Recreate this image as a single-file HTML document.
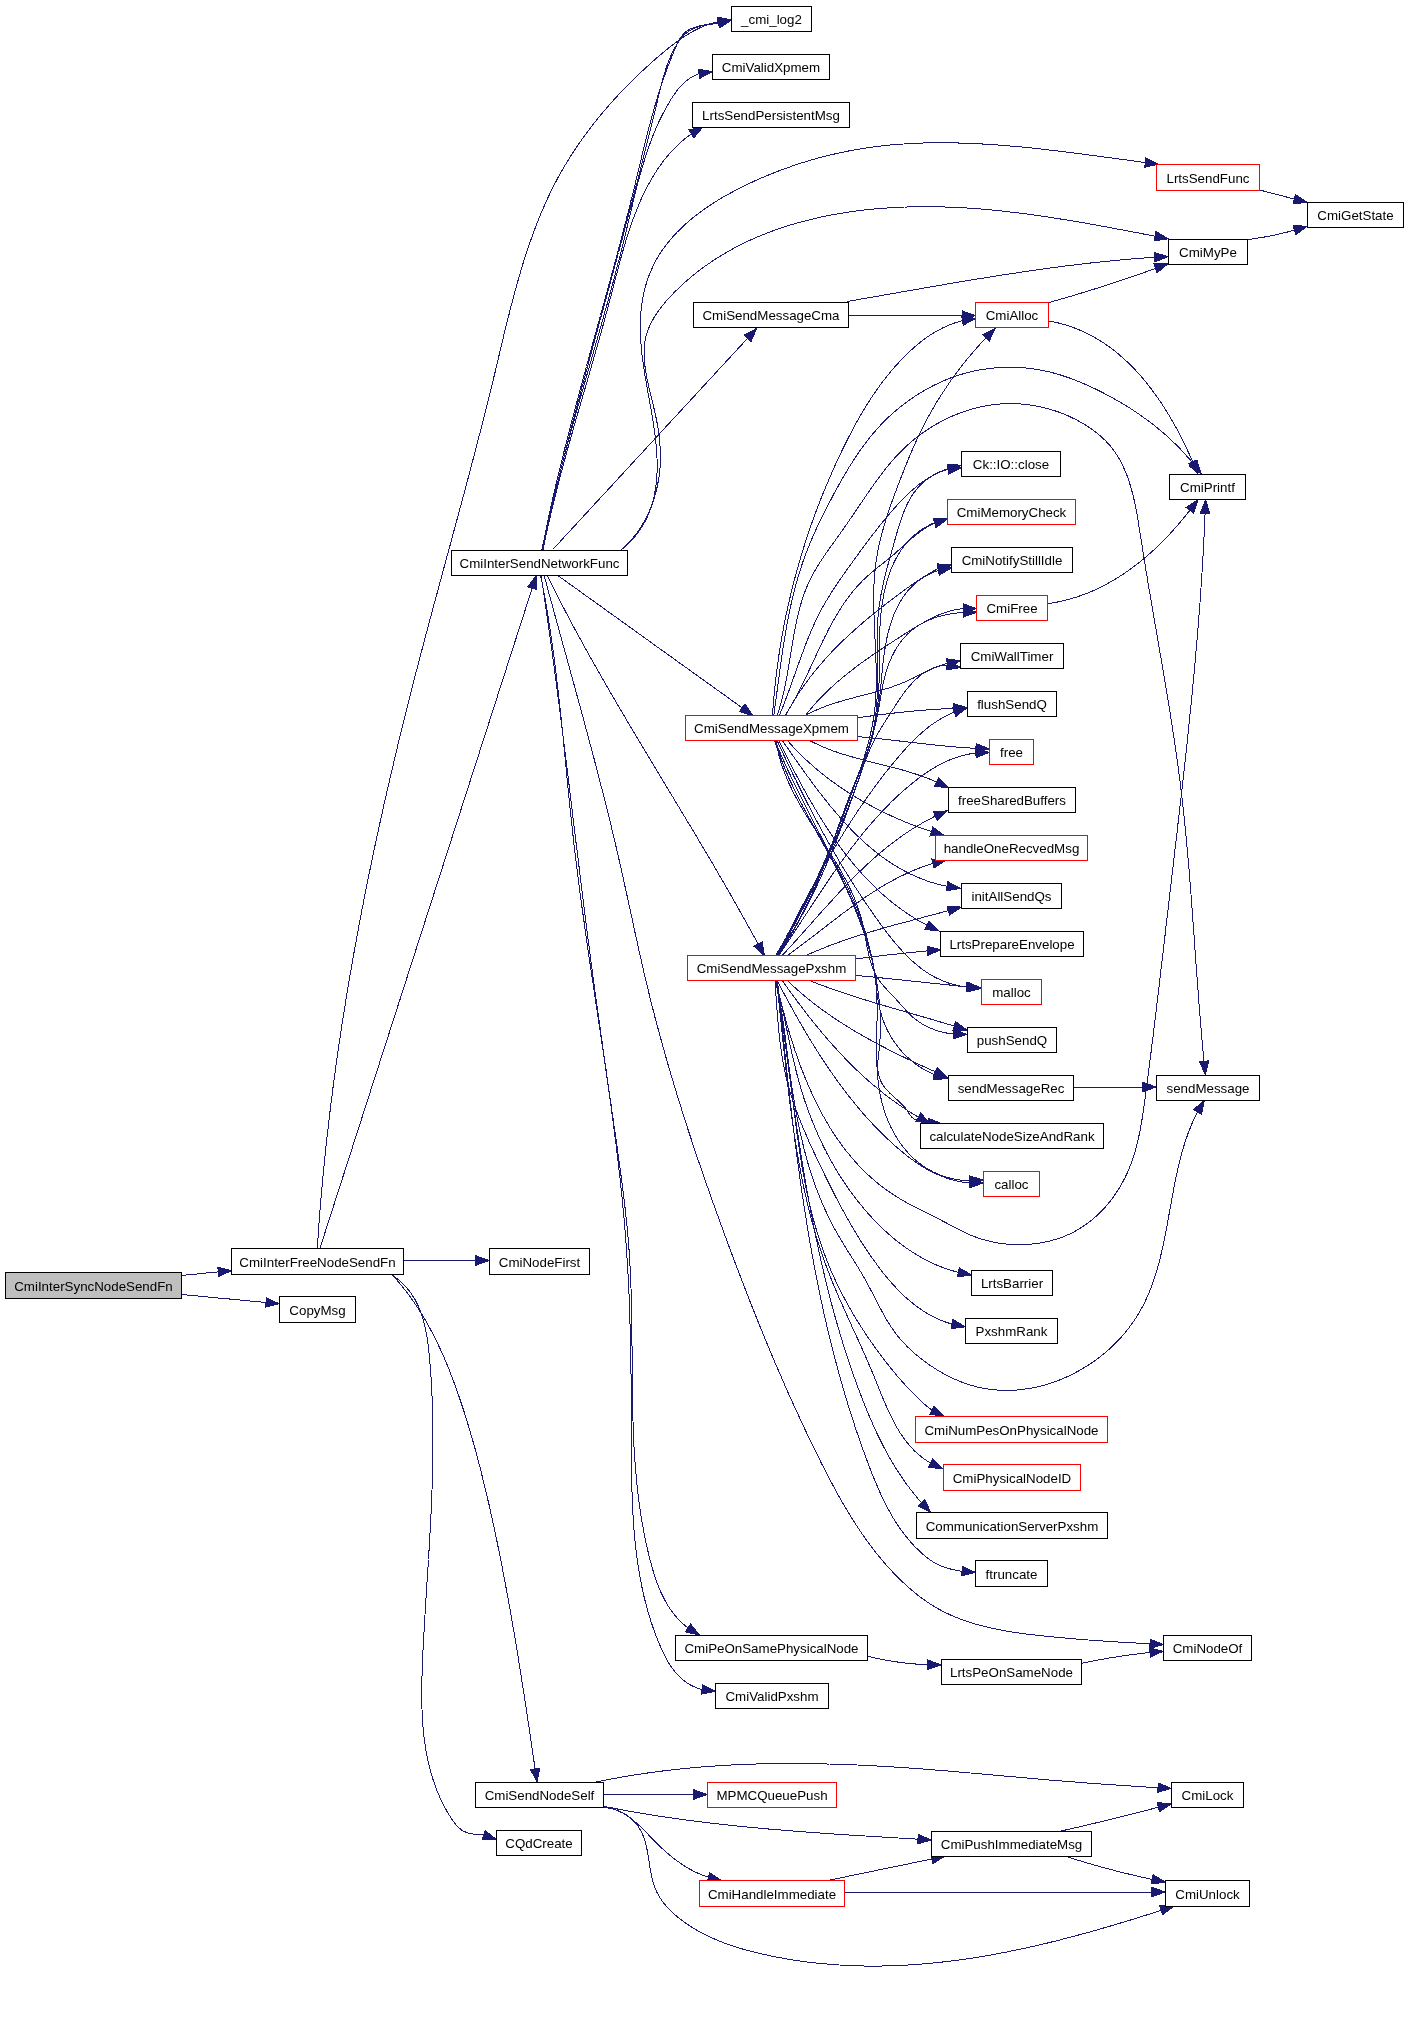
<!DOCTYPE html><html><head><meta charset="utf-8"><style>html,body{margin:0;padding:0;background:#fff;}svg{display:block;}</style></head><body>
<svg width="1408" height="2019" viewBox="0 0 1408 2019">
<rect x="0" y="0" width="1408" height="2019" fill="#fff"/>
<g fill="none" stroke="#191970" stroke-width="1" shape-rendering="crispEdges">
<path d="M181.0,1275.5L184.2,1275.2L187.3,1274.9L190.5,1274.6L193.6,1274.3L196.8,1274.0L199.9,1273.7L203.1,1273.4L206.2,1273.0L209.4,1272.7L212.6,1272.4L215.7,1272.1L218.2,1271.9"/>
<path d="M181.8,1294.5L184.8,1294.8L187.8,1295.1L190.9,1295.4L193.9,1295.7L197.0,1295.9L200.0,1296.2L203.1,1296.5L206.1,1296.8L209.2,1297.1L212.2,1297.4L215.3,1297.7L218.3,1298.0L221.4,1298.3L224.4,1298.5L227.5,1298.8L230.5,1299.1L233.5,1299.4L236.6,1299.7L239.6,1300.0L242.7,1300.3L245.7,1300.6L248.8,1300.9L251.8,1301.1L254.9,1301.4L257.9,1301.7L261.0,1302.0L264.0,1302.3L266.0,1302.5"/>
<path d="M403.5,1260.5L406.6,1260.5L409.6,1260.5L412.7,1260.5L415.8,1260.5L418.8,1260.5L421.9,1260.5L424.9,1260.5L428.0,1260.5L431.1,1260.5L434.1,1260.5L437.2,1260.5L440.2,1260.5L443.3,1260.5L446.4,1260.5L449.4,1260.5L452.5,1260.5L455.6,1260.5L458.6,1260.5L461.7,1260.5L464.8,1260.5L467.8,1260.5L470.9,1260.5L473.9,1260.5L475.9,1260.5"/>
<path d="M320.0,1248.2L320.9,1245.3L321.8,1242.5L322.8,1239.6L323.7,1236.7L324.6,1233.9L325.5,1231.0L326.4,1228.2L327.4,1225.3L328.3,1222.4L329.2,1219.6L330.1,1216.7L331.0,1213.8L332.0,1211.0L332.9,1208.1L333.8,1205.3L334.7,1202.4L335.6,1199.5L336.6,1196.7L337.5,1193.8L338.4,1190.9L339.3,1188.1L340.2,1185.2L341.2,1182.4L342.1,1179.5L343.0,1176.6L343.9,1173.8L344.8,1170.9L345.8,1168.0L346.7,1165.2L347.6,1162.3L348.5,1159.5L349.4,1156.6L350.4,1153.7L351.3,1150.9L352.2,1148.0L353.1,1145.1L354.0,1142.3L355.0,1139.4L355.9,1136.6L356.8,1133.7L357.7,1130.8L358.6,1128.0L359.6,1125.1L360.5,1122.2L361.4,1119.4L362.3,1116.5L363.2,1113.7L364.2,1110.8L365.1,1107.9L366.0,1105.1L366.9,1102.2L367.9,1099.3L368.8,1096.5L369.7,1093.6L370.6,1090.8L371.5,1087.9L372.5,1085.0L373.4,1082.2L374.3,1079.3L375.2,1076.4L376.1,1073.6L377.1,1070.7L378.0,1067.9L378.9,1065.0L379.8,1062.1L380.7,1059.3L381.7,1056.4L382.6,1053.5L383.5,1050.7L384.4,1047.8L385.3,1045.0L386.3,1042.1L387.2,1039.2L388.1,1036.4L389.0,1033.5L389.9,1030.6L390.9,1027.8L391.8,1024.9L392.7,1022.1L393.6,1019.2L394.5,1016.3L395.5,1013.5L396.4,1010.6L397.3,1007.7L398.2,1004.9L399.1,1002.0L400.1,999.2L401.0,996.3L401.9,993.4L402.8,990.6L403.7,987.7L404.7,984.8L405.6,982.0L406.5,979.1L407.4,976.3L408.3,973.4L409.3,970.5L410.2,967.7L411.1,964.8L412.0,961.9L412.9,959.1L413.9,956.2L414.8,953.4L415.7,950.5L416.6,947.6L417.5,944.8L418.5,941.9L419.4,939.0L420.3,936.2L421.2,933.3L422.1,930.5L423.1,927.6L424.0,924.7L424.9,921.9L425.8,919.0L426.7,916.1L427.7,913.3L428.6,910.4L429.5,907.6L430.4,904.7L431.3,901.8L432.3,899.0L433.2,896.1L434.1,893.2L435.0,890.4L435.9,887.5L436.9,884.7L437.8,881.8L438.7,878.9L439.6,876.1L440.5,873.2L441.5,870.3L442.4,867.5L443.3,864.6L444.2,861.8L445.1,858.9L446.1,856.0L447.0,853.2L447.9,850.3L448.8,847.4L449.8,844.6L450.7,841.7L451.6,838.9L452.5,836.0L453.4,833.1L454.4,830.3L455.3,827.4L456.2,824.5L457.1,821.7L458.0,818.8L459.0,816.0L459.9,813.1L460.8,810.2L461.7,807.4L462.6,804.5L463.6,801.6L464.5,798.8L465.4,795.9L466.3,793.1L467.2,790.2L468.2,787.3L469.1,784.5L470.0,781.6L470.9,778.7L471.8,775.9L472.8,773.0L473.7,770.2L474.6,767.3L475.5,764.4L476.4,761.6L477.4,758.7L478.3,755.8L479.2,753.0L480.1,750.1L481.0,747.3L482.0,744.4L482.9,741.5L483.8,738.7L484.7,735.8L485.6,732.9L486.6,730.1L487.5,727.2L488.4,724.4L489.3,721.5L490.2,718.6L491.2,715.8L492.1,712.9L493.0,710.0L493.9,707.2L494.8,704.3L495.8,701.5L496.7,698.6L497.6,695.7L498.5,692.9L499.4,690.0L500.4,687.1L501.3,684.3L502.2,681.4L503.1,678.6L504.0,675.7L505.0,672.8L505.9,670.0L506.8,667.1L507.7,664.2L508.6,661.4L509.6,658.5L510.5,655.7L511.4,652.8L512.3,649.9L513.2,647.1L514.2,644.2L515.1,641.3L516.0,638.5L516.9,635.6L517.8,632.8L518.8,629.9L519.7,627.0L520.6,624.2L521.5,621.3L522.4,618.4L523.4,615.6L524.3,612.7L525.2,609.9L526.1,607.0L527.0,604.1L528.0,601.3L528.9,598.4L529.8,595.5L530.7,592.7L531.6,589.8L532.2,588.2"/>
<path d="M317.3,1248.2L317.5,1245.7L317.6,1243.2L317.8,1240.7L318.0,1238.2L318.1,1235.7L318.3,1233.2L318.5,1230.7L318.7,1228.2L318.9,1225.6L319.0,1223.1L319.2,1220.6L319.4,1218.1L319.6,1215.6L319.8,1213.1L320.0,1210.6L320.2,1208.1L320.4,1205.6L320.6,1203.1L320.8,1200.6L321.0,1198.1L321.3,1195.6L321.5,1193.1L321.7,1190.6L321.9,1188.1L322.2,1185.6L322.4,1183.1L322.6,1180.6L322.8,1178.1L323.1,1175.6L323.3,1173.1L323.6,1170.6L323.8,1168.1L324.1,1165.6L324.3,1163.1L324.6,1160.6L324.8,1158.1L325.1,1155.6L325.3,1153.1L325.6,1150.6L325.8,1148.1L326.1,1145.6L326.4,1143.1L326.7,1140.6L326.9,1138.2L327.2,1135.7L327.5,1133.2L327.8,1130.7L328.1,1128.2L328.3,1125.7L328.6,1123.2L328.9,1120.7L329.2,1118.2L329.5,1115.7L329.8,1113.2L330.1,1110.7L330.4,1108.2L330.7,1105.7L331.0,1103.3L331.3,1100.8L331.7,1098.3L332.0,1095.8L332.3,1093.3L332.6,1090.8L332.9,1088.3L333.3,1085.8L333.6,1083.3L333.9,1080.9L334.2,1078.4L334.6,1075.9L334.9,1073.4L335.3,1070.9L335.6,1068.4L335.9,1065.9L336.3,1063.5L336.6,1061.0L337.0,1058.5L337.3,1056.0L337.7,1053.5L338.0,1051.0L338.4,1048.5L338.8,1046.1L339.1,1043.6L339.5,1041.1L339.9,1038.6L340.2,1036.1L340.6,1033.7L341.0,1031.2L341.4,1028.7L341.7,1026.2L342.1,1023.7L342.5,1021.3L342.9,1018.8L343.3,1016.3L343.7,1013.8L344.1,1011.3L344.5,1008.9L344.9,1006.4L345.3,1003.9L345.7,1001.4L346.1,998.9L346.5,996.5L346.9,994.0L347.3,991.5L347.7,989.0L348.1,986.6L348.5,984.1L348.9,981.6L349.4,979.1L349.8,976.7L350.2,974.2L350.6,971.7L351.1,969.3L351.5,966.8L351.9,964.3L352.4,961.8L352.8,959.4L353.2,956.9L353.7,954.4L354.1,952.0L354.6,949.5L355.0,947.0L355.4,944.5L355.9,942.1L356.4,939.6L356.8,937.1L357.3,934.7L357.7,932.2L358.2,929.7L358.6,927.3L359.1,924.8L359.6,922.3L360.0,919.9L360.5,917.4L361.0,914.9L361.5,912.5L361.9,910.0L362.4,907.5L362.9,905.1L363.4,902.6L363.8,900.2L364.3,897.7L364.8,895.2L365.3,892.8L365.8,890.3L366.3,887.8L366.8,885.4L367.3,882.9L367.8,880.5L368.3,878.0L368.8,875.5L369.3,873.1L369.8,870.6L370.3,868.2L370.8,865.7L371.3,863.3L371.8,860.8L372.3,858.3L372.8,855.9L373.4,853.4L373.9,851.0L374.4,848.5L374.9,846.1L375.4,843.6L376.0,841.2L376.5,838.7L377.0,836.3L377.6,833.8L378.1,831.3L378.6,828.9L379.2,826.4L379.7,824.0L380.2,821.5L380.8,819.1L381.3,816.6L381.9,814.2L382.4,811.7L382.9,809.3L383.5,806.8L384.0,804.4L384.6,801.9L385.1,799.5L385.7,797.0L386.3,794.6L386.8,792.2L387.4,789.7L387.9,787.3L388.5,784.8L389.1,782.4L389.6,779.9L390.2,777.5L390.8,775.0L391.3,772.6L391.9,770.2L392.5,767.7L393.1,765.3L393.6,762.8L394.2,760.4L394.8,757.9L395.4,755.5L396.0,753.1L396.5,750.6L397.1,748.2L397.7,745.7L398.3,743.3L398.9,740.9L399.5,738.4L400.1,736.0L400.7,733.6L401.3,731.1L401.9,728.7L402.5,726.2L403.1,723.8L403.7,721.4L404.3,718.9L404.9,716.5L405.5,714.1L406.1,711.6L406.7,709.2L407.3,706.8L407.9,704.3L408.5,701.9L409.1,699.5L409.7,697.0L410.3,694.6L411.0,692.2L411.6,689.8L412.2,687.3L412.8,684.9L413.4,682.5L414.1,680.0L414.7,677.6L415.3,675.2L415.9,672.8L416.6,670.3L417.2,667.9L417.8,665.5L418.5,663.1L419.1,660.6L419.7,658.2L420.4,655.8L421.0,653.4L421.6,650.9L422.3,648.5L422.9,646.1L423.6,643.7L424.2,641.2L424.8,638.8L425.5,636.4L426.1,634.0L426.8,631.6L427.4,629.1L428.1,626.7L428.7,624.3L429.3,621.9L430.0,619.5L430.6,617.0L431.3,614.6L431.9,612.2L432.6,609.8L433.2,607.4L433.9,604.9L434.5,602.5L435.2,600.1L435.8,597.7L436.5,595.3L437.2,592.8L437.8,590.4L438.5,588.0L439.1,585.6L439.8,583.2L440.4,580.7L441.1,578.3L441.7,575.9L442.4,573.5L443.0,571.1L443.7,568.6L444.4,566.2L445.0,563.8L445.7,561.4L446.3,559.0L447.0,556.5L447.6,554.1L448.3,551.7L449.0,549.3L449.6,546.9L450.3,544.5L450.9,542.0L451.6,539.6L452.2,537.2L452.9,534.8L453.5,532.3L454.2,529.9L454.9,527.5L455.5,525.1L456.2,522.7L456.8,520.2L457.5,517.8L458.1,515.4L458.8,513.0L459.4,510.6L460.1,508.1L460.7,505.7L461.4,503.3L462.0,500.9L462.7,498.4L463.3,496.0L464.0,493.6L464.6,491.2L465.3,488.7L465.9,486.3L466.6,483.9L467.2,481.5L467.9,479.0L468.5,476.6L469.2,474.2L469.8,471.7L470.4,469.3L471.1,466.9L471.7,464.5L472.4,462.0L473.0,459.6L473.6,457.2L474.3,454.7L474.9,452.3L475.5,449.9L476.2,447.4L476.8,445.0L477.4,442.6L478.1,440.1L478.7,437.7L479.3,435.3L480.0,432.8L480.6,430.4L481.2,428.0L481.8,425.5L482.4,423.1L483.1,420.6L483.7,418.2L484.3,415.8L484.9,413.3L485.5,410.9L486.1,408.4L486.8,406.0L487.4,403.6L488.0,401.1L488.6,398.7L489.2,396.2L489.8,393.8L490.4,391.3L491.0,388.9L491.6,386.4L492.2,384.0L492.8,381.5L493.4,379.1L494.0,376.6L494.6,374.2L495.2,371.7L495.7,369.3L496.3,366.8L496.9,364.4L497.5,361.9L498.1,359.4L498.7,357.0L499.2,354.5L499.8,352.1L500.4,349.6L501.0,347.2L501.6,344.7L502.2,342.3L502.8,339.8L503.4,337.3L503.9,334.9L504.5,332.4L505.1,330.0L505.7,327.5L506.3,325.1L506.9,322.6L507.5,320.2L508.1,317.8L508.8,315.3L509.4,312.9L510.0,310.4L510.6,308.0L511.2,305.6L511.9,303.1L512.5,300.7L513.2,298.3L513.8,295.8L514.4,293.4L515.1,291.0L515.8,288.5L516.4,286.1L517.1,283.7L517.8,281.3L518.5,278.9L519.2,276.5L519.9,274.1L520.6,271.7L521.3,269.3L522.0,266.9L522.7,264.5L523.5,262.1L524.2,259.7L525.0,257.3L525.8,255.0L526.5,252.6L527.3,250.2L528.1,247.8L528.9,245.5L529.7,243.1L530.5,240.8L531.4,238.4L532.2,236.1L533.0,233.7L533.9,231.4L534.8,229.1L535.7,226.8L536.6,224.4L537.5,222.1L538.4,219.8L539.3,217.5L540.3,215.2L541.2,212.9L542.2,210.6L543.2,208.3L544.2,206.1L545.2,203.8L546.2,201.5L547.2,199.3L548.3,197.0L549.3,194.8L550.4,192.5L551.5,190.3L552.6,188.1L553.7,185.8L554.8,183.6L556.0,181.4L557.2,179.2L558.3,177.0L559.5,174.8L560.8,172.7L562.0,170.5L563.2,168.3L564.5,166.2L565.8,164.0L567.1,161.9L568.4,159.7L569.7,157.6L571.1,155.5L572.4,153.4L573.8,151.3L575.2,149.2L576.6,147.1L578.0,145.0L579.4,142.9L580.9,140.9L582.3,138.8L583.8,136.8L585.3,134.7L586.8,132.7L588.3,130.7L589.8,128.7L591.4,126.6L592.9,124.6L594.5,122.7L596.0,120.7L597.6,118.7L599.2,116.7L600.8,114.8L602.5,112.8L604.1,110.9L605.8,109.0L607.4,107.1L609.1,105.1L610.8,103.2L612.4,101.4L614.1,99.5L615.9,97.6L617.6,95.7L619.3,93.9L621.0,92.0L622.8,90.2L624.5,88.4L626.3,86.6L628.1,84.8L629.9,83.0L631.7,81.2L633.5,79.4L635.3,77.6L637.1,75.9L638.9,74.1L640.7,72.4L642.6,70.7L644.4,69.0L646.3,67.2L648.2,65.6L650.0,63.9L651.9,62.2L653.8,60.5L655.7,58.9L657.6,57.2L659.5,55.6L661.4,54.0L663.3,52.4L665.2,50.8L667.1,49.2L669.0,47.6L671.0,46.1L673.0,44.6L674.9,43.1L676.9,41.6L678.9,40.2L680.9,38.8L682.9,37.4L685.0,36.1L687.1,34.8L689.2,33.5L691.3,32.3L693.4,31.1L695.6,30.0L697.7,28.9L700.0,27.8L702.2,26.9L704.5,25.9L706.8,25.0L709.1,24.2L711.4,23.5L713.8,22.8L716.3,22.2L718.4,21.7"/>
<path d="M541.9,550.0L542.4,547.5L542.9,545.0L543.4,542.6L543.9,540.1L544.4,537.6L544.9,535.1L545.4,532.6L545.9,530.2L546.4,527.7L546.9,525.2L547.5,522.8L548.0,520.3L548.5,517.8L549.0,515.3L549.6,512.9L550.1,510.4L550.7,508.0L551.2,505.5L551.8,503.0L552.3,500.6L552.9,498.1L553.4,495.7L554.0,493.2L554.6,490.7L555.1,488.3L555.7,485.8L556.3,483.4L556.9,480.9L557.4,478.5L558.0,476.0L558.6,473.6L559.2,471.1L559.8,468.7L560.4,466.2L561.0,463.8L561.6,461.3L562.2,458.9L562.8,456.5L563.4,454.0L564.0,451.6L564.6,449.1L565.2,446.7L565.9,444.3L566.5,441.8L567.1,439.4L567.7,436.9L568.3,434.5L569.0,432.1L569.6,429.6L570.2,427.2L570.9,424.8L571.5,422.3L572.1,419.9L572.8,417.5L573.4,415.0L574.0,412.6L574.7,410.2L575.3,407.7L576.0,405.3L576.6,402.9L577.3,400.4L577.9,398.0L578.6,395.6L579.2,393.2L579.9,390.7L580.5,388.3L581.2,385.9L581.8,383.4L582.5,381.0L583.1,378.6L583.8,376.2L584.5,373.7L585.1,371.3L585.8,368.9L586.5,366.5L587.1,364.0L587.8,361.6L588.4,359.2L589.1,356.8L589.8,354.3L590.4,351.9L591.1,349.5L591.8,347.1L592.4,344.6L593.1,342.2L593.8,339.8L594.5,337.4L595.1,334.9L595.8,332.5L596.5,330.1L597.1,327.7L597.8,325.2L598.5,322.8L599.1,320.4L599.8,318.0L600.5,315.5L601.1,313.1L601.8,310.7L602.5,308.3L603.1,305.8L603.8,303.4L604.5,301.0L605.1,298.6L605.8,296.1L606.5,293.7L607.1,291.3L607.8,288.8L608.5,286.4L609.1,284.0L609.8,281.5L610.5,279.1L611.1,276.7L611.8,274.3L612.4,271.8L613.1,269.4L613.8,267.0L614.4,264.5L615.1,262.1L615.7,259.7L616.4,257.2L617.0,254.8L617.7,252.4L618.3,249.9L619.0,247.5L619.6,245.0L620.3,242.6L620.9,240.2L621.5,237.7L622.2,235.3L622.8,232.8L623.5,230.4L624.1,228.0L624.7,225.5L625.3,223.1L626.0,220.6L626.6,218.2L627.2,215.7L627.9,213.3L628.5,210.8L629.1,208.4L629.7,205.9L630.3,203.5L630.9,201.0L631.5,198.6L632.2,196.1L632.8,193.7L633.4,191.2L634.0,188.7L634.6,186.3L635.2,183.8L635.7,181.4L636.3,178.9L636.9,176.4L637.5,174.0L638.1,171.5L638.7,169.1L639.3,166.6L639.9,164.1L640.5,161.7L641.1,159.2L641.7,156.7L642.3,154.3L642.9,151.8L643.5,149.4L644.1,146.9L644.7,144.5L645.3,142.0L645.9,139.6L646.5,137.1L647.1,134.7L647.8,132.2L648.4,129.8L649.0,127.3L649.7,124.9L650.3,122.5L651.0,120.0L651.6,117.6L652.3,115.2L653.0,112.8L653.6,110.3L654.3,107.9L655.0,105.5L655.7,103.1L656.5,100.7L657.2,98.3L657.9,95.9L658.6,93.5L659.4,91.1L660.2,88.8L660.9,86.4L661.7,84.0L662.5,81.6L663.3,79.3L664.1,76.9L665.0,74.6L665.8,72.2L666.6,69.9L667.5,67.6L668.4,65.2L669.3,62.9L670.2,60.6L671.1,58.3L672.0,56.0L673.0,53.7L674.0,51.4L674.9,49.1L675.9,46.9L676.9,44.6L678.0,42.4L679.1,40.2L680.3,38.1L681.7,36.1L683.2,34.3L684.9,32.6L686.7,31.1L688.8,29.8L691.0,28.7L693.4,27.7L696.0,26.9L698.6,26.2L701.4,25.6L704.2,25.1L707.0,24.7L709.9,24.3L712.7,24.0L715.5,23.6L718.2,23.3L718.7,23.2"/>
<path d="M542.2,550.0L542.7,547.5L543.3,545.1L543.8,542.6L544.3,540.2L544.9,537.7L545.4,535.3L546.0,532.8L546.5,530.4L547.1,527.9L547.6,525.5L548.2,523.0L548.7,520.6L549.3,518.1L549.9,515.7L550.4,513.2L551.0,510.8L551.6,508.3L552.1,505.9L552.7,503.4L553.3,501.0L553.9,498.5L554.4,496.1L555.0,493.6L555.6,491.2L556.2,488.7L556.8,486.3L557.4,483.8L558.0,481.4L558.6,478.9L559.2,476.5L559.8,474.0L560.4,471.6L561.0,469.2L561.6,466.7L562.2,464.3L562.8,461.8L563.4,459.4L564.0,456.9L564.6,454.5L565.2,452.1L565.8,449.6L566.5,447.2L567.1,444.7L567.7,442.3L568.3,439.9L568.9,437.4L569.6,435.0L570.2,432.5L570.8,430.1L571.4,427.6L572.1,425.2L572.7,422.8L573.3,420.3L574.0,417.9L574.6,415.5L575.2,413.0L575.9,410.6L576.5,408.1L577.2,405.7L577.8,403.3L578.4,400.8L579.1,398.4L579.7,396.0L580.4,393.5L581.0,391.1L581.7,388.7L582.3,386.2L583.0,383.8L583.6,381.3L584.2,378.9L584.9,376.5L585.6,374.0L586.2,371.6L586.9,369.2L587.5,366.7L588.2,364.3L588.8,361.9L589.5,359.4L590.1,357.0L590.8,354.6L591.4,352.1L592.1,349.7L592.8,347.3L593.4,344.8L594.1,342.4L594.7,340.0L595.4,337.6L596.0,335.1L596.7,332.7L597.4,330.3L598.0,327.8L598.7,325.4L599.4,323.0L600.0,320.5L600.7,318.1L601.3,315.7L602.0,313.2L602.7,310.8L603.3,308.4L604.0,306.0L604.6,303.5L605.3,301.1L606.0,298.7L606.6,296.2L607.3,293.8L607.9,291.4L608.6,289.0L609.3,286.5L609.9,284.1L610.6,281.7L611.3,279.2L611.9,276.8L612.6,274.4L613.2,272.0L613.9,269.5L614.5,267.1L615.2,264.7L615.9,262.2L616.5,259.8L617.2,257.4L617.8,255.0L618.5,252.5L619.1,250.1L619.8,247.7L620.4,245.3L621.1,242.8L621.8,240.4L622.4,238.0L623.1,235.5L623.7,233.1L624.4,230.7L625.0,228.3L625.6,225.8L626.3,223.4L626.9,221.0L627.6,218.6L628.2,216.1L628.9,213.7L629.5,211.3L630.2,208.9L630.8,206.4L631.4,204.0L632.1,201.6L632.7,199.2L633.3,196.7L634.0,194.3L634.6,191.9L635.2,189.4L635.9,187.0L636.5,184.6L637.1,182.2L637.7,179.7L638.4,177.3L639.0,174.9L639.6,172.5L640.2,170.0L640.9,167.6L641.5,165.2L642.1,162.7L642.7,160.3L643.3,157.9L644.0,155.4L644.6,153.0L645.2,150.6L645.8,148.1L646.4,145.7L647.0,143.2L647.6,140.8L648.2,138.3L648.8,135.9L649.5,133.4L650.1,131.0L650.7,128.5L651.3,126.1L651.9,123.6L652.5,121.1L653.1,118.7L653.7,116.2L654.3,113.7L654.9,111.2L655.5,108.8L656.1,106.3L656.7,103.8L657.3,101.3L657.9,98.8L658.5,96.3L659.1,93.8L659.7,91.3L660.3,88.8L661.0,86.3L661.6,83.8L662.2,81.3L662.9,78.9L663.6,76.4L664.3,74.0L665.1,71.6L665.8,69.2L666.6,66.8L667.4,64.4L668.3,62.1L669.2,59.8L670.2,57.5L671.1,55.2L672.2,53.0L673.2,50.8L674.4,48.7L675.5,46.6L676.8,44.5L678.1,42.5L679.4,40.5L680.9,38.6L682.4,36.8L684.0,35.1L685.8,33.5L687.7,32.0L689.7,30.6L691.8,29.4L694.1,28.3L696.5,27.4L699.0,26.5L701.5,25.7L704.1,25.1L706.8,24.4L709.4,23.9L712.1,23.4L714.8,22.9L717.4,22.5L718.5,22.3"/>
<path d="M542.5,550.0L543.0,547.5L543.5,545.0L544.0,542.5L544.5,540.0L545.0,537.5L545.5,535.0L546.0,532.5L546.6,530.1L547.1,527.6L547.6,525.1L548.2,522.6L548.7,520.1L549.3,517.7L549.8,515.2L550.4,512.7L550.9,510.3L551.5,507.8L552.1,505.3L552.6,502.9L553.2,500.4L553.8,498.0L554.4,495.5L555.0,493.0L555.6,490.6L556.2,488.1L556.8,485.7L557.4,483.2L558.0,480.8L558.6,478.4L559.2,475.9L559.8,473.5L560.4,471.0L561.1,468.6L561.7,466.2L562.3,463.7L563.0,461.3L563.6,458.9L564.2,456.4L564.9,454.0L565.5,451.6L566.2,449.1L566.8,446.7L567.5,444.3L568.1,441.9L568.8,439.4L569.4,437.0L570.1,434.6L570.8,432.2L571.4,429.8L572.1,427.3L572.8,424.9L573.4,422.5L574.1,420.1L574.8,417.7L575.5,415.3L576.1,412.8L576.8,410.4L577.5,408.0L578.2,405.6L578.9,403.2L579.5,400.8L580.2,398.4L580.9,395.9L581.6,393.5L582.3,391.1L583.0,388.7L583.7,386.3L584.4,383.9L585.0,381.5L585.7,379.1L586.4,376.7L587.1,374.2L587.8,371.8L588.5,369.4L589.2,367.0L589.9,364.6L590.6,362.2L591.3,359.8L592.0,357.4L592.7,354.9L593.4,352.5L594.1,350.1L594.7,347.7L595.4,345.3L596.1,342.9L596.8,340.5L597.5,338.0L598.2,335.6L598.9,333.2L599.6,330.8L600.3,328.4L601.0,325.9L601.6,323.5L602.3,321.1L603.0,318.7L603.7,316.3L604.4,313.8L605.0,311.4L605.7,309.0L606.4,306.6L607.1,304.1L607.8,301.7L608.4,299.3L609.1,296.8L609.8,294.4L610.4,292.0L611.1,289.5L611.8,287.1L612.4,284.6L613.1,282.2L613.7,279.8L614.4,277.3L615.0,274.9L615.7,272.4L616.3,270.0L617.0,267.5L617.6,265.1L618.2,262.6L618.9,260.2L619.5,257.7L620.1,255.3L620.8,252.8L621.4,250.3L622.0,247.9L622.6,245.4L623.2,242.9L623.9,240.5L624.5,238.0L625.1,235.5L625.7,233.0L626.3,230.5L626.9,228.1L627.4,225.6L628.0,223.1L628.6,220.6L629.2,218.1L629.8,215.6L630.4,213.2L631.0,210.7L631.6,208.2L632.2,205.7L632.8,203.2L633.4,200.7L634.0,198.3L634.6,195.8L635.2,193.3L635.8,190.9L636.5,188.4L637.1,185.9L637.7,183.5L638.4,181.0L639.1,178.6L639.7,176.1L640.4,173.7L641.1,171.2L641.8,168.8L642.5,166.4L643.2,164.0L644.0,161.5L644.7,159.1L645.5,156.7L646.2,154.4L647.0,152.0L647.8,149.6L648.7,147.2L649.5,144.9L650.4,142.5L651.2,140.2L652.1,137.9L653.0,135.5L654.0,133.2L654.9,130.9L655.9,128.6L656.9,126.4L657.9,124.1L658.9,121.8L660.0,119.6L661.1,117.4L662.2,115.2L663.3,112.9L664.5,110.8L665.6,108.6L666.8,106.4L668.1,104.3L669.3,102.1L670.6,100.0L671.9,97.9L673.3,95.8L674.7,93.8L676.1,91.8L677.6,89.8L679.1,87.9L680.7,86.1L682.4,84.4L684.1,82.7L686.0,81.1L687.9,79.6L689.8,78.2L691.9,76.9L694.1,75.8L696.4,74.7L698.7,73.9L699.2,73.7"/>
<path d="M543.0,550.0L543.5,547.5L544.0,545.0L544.5,542.5L545.1,540.0L545.6,537.5L546.1,535.0L546.7,532.5L547.2,530.0L547.8,527.5L548.3,525.0L548.9,522.5L549.4,520.0L550.0,517.6L550.6,515.1L551.2,512.6L551.7,510.2L552.3,507.7L552.9,505.2L553.5,502.8L554.1,500.3L554.7,497.9L555.3,495.4L555.9,493.0L556.6,490.6L557.2,488.1L557.8,485.7L558.4,483.2L559.1,480.8L559.7,478.4L560.3,475.9L561.0,473.5L561.6,471.1L562.3,468.7L562.9,466.2L563.6,463.8L564.2,461.4L564.9,459.0L565.5,456.6L566.2,454.2L566.9,451.7L567.5,449.3L568.2,446.9L568.9,444.5L569.6,442.1L570.2,439.7L570.9,437.3L571.6,434.9L572.3,432.5L573.0,430.1L573.6,427.7L574.3,425.2L575.0,422.8L575.7,420.4L576.4,418.0L577.1,415.6L577.8,413.2L578.5,410.8L579.2,408.4L579.9,406.0L580.6,403.6L581.3,401.2L582.0,398.8L582.7,396.4L583.4,394.0L584.1,391.6L584.8,389.2L585.5,386.8L586.2,384.4L586.9,382.0L587.6,379.6L588.3,377.2L589.0,374.7L589.7,372.3L590.4,369.9L591.1,367.5L591.8,365.1L592.5,362.7L593.2,360.3L593.9,357.8L594.6,355.4L595.2,353.0L595.9,350.6L596.6,348.1L597.3,345.7L598.0,343.3L598.7,340.9L599.4,338.4L600.1,336.0L600.8,333.6L601.4,331.1L602.1,328.7L602.8,326.2L603.5,323.8L604.1,321.3L604.8,318.9L605.5,316.4L606.1,314.0L606.8,311.5L607.5,309.0L608.1,306.6L608.8,304.1L609.4,301.6L610.1,299.1L610.7,296.7L611.4,294.2L612.0,291.7L612.7,289.2L613.3,286.7L614.0,284.2L614.6,281.7L615.3,279.3L615.9,276.8L616.6,274.3L617.2,271.8L617.9,269.3L618.5,266.8L619.2,264.3L619.9,261.9L620.5,259.4L621.2,256.9L621.9,254.4L622.6,252.0L623.3,249.5L624.0,247.1L624.8,244.6L625.5,242.2L626.2,239.7L627.0,237.3L627.7,234.9L628.5,232.4L629.3,230.0L630.1,227.6L630.9,225.2L631.8,222.8L632.6,220.5L633.5,218.1L634.4,215.8L635.3,213.4L636.2,211.1L637.1,208.8L638.1,206.4L639.0,204.1L640.0,201.9L641.0,199.6L642.0,197.3L643.1,195.1L644.2,192.8L645.3,190.6L646.4,188.4L647.5,186.2L648.7,184.1L649.9,181.9L651.1,179.8L652.3,177.7L653.6,175.6L654.9,173.5L656.2,171.4L657.5,169.3L658.9,167.3L660.3,165.3L661.8,163.3L663.2,161.4L664.7,159.4L666.3,157.5L667.8,155.6L669.4,153.7L671.1,151.9L672.7,150.1L674.5,148.3L676.2,146.6L678.0,144.8L679.8,143.2L681.7,141.5L683.6,139.9L685.5,138.3L687.5,136.7L689.6,135.2L691.4,133.9"/>
<path d="M621.0,550.0L623.2,548.2L625.3,546.4L627.3,544.6L629.2,542.7L631.1,540.8L632.9,538.8L634.6,536.9L636.2,534.9L637.8,532.8L639.3,530.8L640.7,528.7L642.0,526.6L643.3,524.5L644.5,522.3L645.7,520.2L646.8,518.0L647.8,515.8L648.7,513.5L649.6,511.3L650.5,509.0L651.3,506.7L652.0,504.4L652.7,502.0L653.3,499.7L653.9,497.3L654.4,495.0L654.8,492.6L655.3,490.2L655.6,487.8L656.0,485.4L656.3,482.9L656.5,480.5L656.7,478.0L656.9,475.6L657.0,473.1L657.1,470.6L657.1,468.2L657.1,465.7L657.1,463.2L657.1,460.7L657.0,458.2L656.9,455.7L656.7,453.2L656.6,450.8L656.4,448.3L656.2,445.8L655.9,443.3L655.7,440.8L655.4,438.3L655.1,435.8L654.8,433.3L654.4,430.8L654.1,428.3L653.7,425.8L653.3,423.3L652.9,420.8L652.5,418.3L652.1,415.8L651.7,413.3L651.3,410.8L650.8,408.3L650.4,405.8L649.9,403.3L649.5,400.8L649.0,398.3L648.6,395.8L648.1,393.3L647.7,390.8L647.2,388.3L646.8,385.8L646.3,383.2L645.9,380.7L645.5,378.2L645.0,375.7L644.6,373.2L644.2,370.6L643.8,368.1L643.5,365.6L643.1,363.0L642.8,360.5L642.4,358.0L642.1,355.4L641.8,352.9L641.5,350.4L641.3,347.8L641.1,345.3L640.9,342.8L640.7,340.2L640.5,337.7L640.4,335.2L640.3,332.6L640.3,330.1L640.2,327.6L640.3,325.1L640.3,322.6L640.4,320.0L640.5,317.5L640.6,315.0L640.8,312.6L641.1,310.1L641.4,307.6L641.7,305.1L642.0,302.7L642.4,300.2L642.8,297.8L643.3,295.4L643.8,293.0L644.4,290.6L645.0,288.2L645.6,285.8L646.3,283.5L647.1,281.1L647.8,278.8L648.6,276.5L649.5,274.3L650.4,272.0L651.4,269.8L652.4,267.6L653.4,265.4L654.5,263.3L655.6,261.1L656.8,259.0L658.0,256.9L659.2,254.9L660.5,252.8L661.9,250.8L663.3,248.9L664.7,246.9L666.1,244.9L667.6,243.0L669.2,241.1L670.7,239.3L672.3,237.4L674.0,235.6L675.6,233.8L677.3,232.0L679.1,230.3L680.8,228.5L682.6,226.8L684.4,225.1L686.3,223.4L688.2,221.8L690.1,220.2L692.0,218.5L694.0,217.0L696.0,215.4L698.0,213.8L700.0,212.3L702.1,210.8L704.1,209.3L706.2,207.9L708.3,206.4L710.5,205.0L712.6,203.6L714.8,202.2L717.0,200.8L719.2,199.5L721.4,198.1L723.7,196.8L725.9,195.5L728.2,194.3L730.5,193.0L732.8,191.8L735.1,190.5L737.4,189.3L739.7,188.2L742.0,187.0L744.4,185.8L746.7,184.7L749.1,183.6L751.4,182.5L753.8,181.4L756.1,180.3L758.5,179.3L760.9,178.2L763.3,177.2L765.6,176.2L768.0,175.2L770.4,174.3L772.8,173.3L775.1,172.4L777.5,171.4L779.9,170.5L782.3,169.6L784.7,168.8L787.0,167.9L789.4,167.1L791.8,166.2L794.2,165.4L796.6,164.6L799.0,163.8L801.4,163.0L803.8,162.3L806.2,161.6L808.5,160.8L810.9,160.1L813.3,159.4L815.7,158.7L818.1,158.1L820.6,157.4L823.0,156.8L825.4,156.2L827.8,155.6L830.2,155.0L832.6,154.4L835.0,153.9L837.4,153.3L839.9,152.8L842.3,152.3L844.7,151.8L847.1,151.3L849.6,150.8L852.0,150.3L854.4,149.9L856.9,149.5L859.3,149.1L861.7,148.7L864.2,148.3L866.6,147.9L869.1,147.5L871.5,147.2L874.0,146.9L876.4,146.5L878.9,146.2L881.3,146.0L883.8,145.7L886.3,145.4L888.7,145.2L891.2,144.9L893.7,144.7L896.2,144.5L898.6,144.3L901.1,144.1L903.6,144.0L906.1,143.8L908.5,143.6L911.0,143.5L913.5,143.4L916.0,143.3L918.5,143.2L921.0,143.1L923.5,143.0L926.0,142.9L928.5,142.9L931.0,142.8L933.5,142.8L936.0,142.8L938.5,142.7L941.0,142.7L943.5,142.7L946.0,142.8L948.5,142.8L951.0,142.8L953.5,142.9L956.0,142.9L958.5,143.0L961.0,143.0L963.5,143.1L966.1,143.2L968.6,143.3L971.1,143.4L973.6,143.5L976.1,143.6L978.6,143.8L981.1,143.9L983.7,144.1L986.2,144.2L988.7,144.4L991.2,144.5L993.7,144.7L996.3,144.9L998.8,145.1L1001.3,145.3L1003.8,145.5L1006.3,145.7L1008.9,145.9L1011.4,146.1L1013.9,146.3L1016.4,146.5L1018.9,146.8L1021.5,147.0L1024.0,147.3L1026.5,147.5L1029.0,147.8L1031.5,148.0L1034.1,148.3L1036.6,148.6L1039.1,148.8L1041.6,149.1L1044.1,149.4L1046.6,149.7L1049.2,150.0L1051.7,150.3L1054.2,150.6L1056.7,150.9L1059.2,151.2L1061.7,151.5L1064.2,151.8L1066.7,152.1L1069.2,152.4L1071.8,152.7L1074.3,153.0L1076.8,153.4L1079.3,153.7L1081.8,154.0L1084.3,154.3L1086.8,154.7L1089.3,155.0L1091.8,155.3L1094.3,155.7L1096.8,156.0L1099.3,156.3L1101.7,156.7L1104.2,157.0L1106.7,157.3L1109.2,157.7L1111.7,158.0L1114.2,158.4L1116.7,158.7L1119.1,159.0L1121.6,159.4L1124.1,159.7L1126.6,160.0L1129.0,160.4L1131.5,160.7L1134.0,161.0L1136.4,161.4L1138.9,161.7L1141.4,162.0L1143.8,162.3L1145.3,162.5"/>
<path d="M621.0,550.0L622.9,548.3L624.8,546.6L626.6,544.9L628.4,543.1L630.1,541.3L631.8,539.4L633.4,537.4L635.0,535.5L636.5,533.5L638.0,531.4L639.4,529.4L640.8,527.2L642.2,525.1L643.4,522.9L644.7,520.7L645.9,518.5L647.0,516.2L648.1,513.9L649.1,511.6L650.1,509.3L651.1,507.0L652.0,504.6L652.9,502.2L653.7,499.8L654.4,497.4L655.1,494.9L655.8,492.5L656.4,490.0L657.0,487.6L657.5,485.1L658.0,482.6L658.5,480.2L658.9,477.7L659.2,475.2L659.5,472.7L659.8,470.3L660.0,467.8L660.2,465.3L660.3,462.8L660.4,460.4L660.4,457.9L660.4,455.5L660.4,453.0L660.3,450.5L660.2,448.1L660.0,445.6L659.8,443.2L659.6,440.7L659.4,438.2L659.1,435.8L658.8,433.3L658.4,430.8L658.0,428.4L657.6,425.9L657.2,423.4L656.7,420.9L656.2,418.4L655.7,415.9L655.1,413.4L654.6,410.9L654.0,408.4L653.4,405.9L652.8,403.3L652.2,400.8L651.6,398.3L650.9,395.8L650.3,393.2L649.7,390.7L649.1,388.2L648.5,385.6L648.0,383.1L647.4,380.6L646.9,378.1L646.5,375.6L646.0,373.1L645.6,370.6L645.2,368.1L644.9,365.6L644.6,363.1L644.4,360.7L644.2,358.2L644.1,355.8L644.1,353.3L644.1,350.9L644.2,348.5L644.4,346.2L644.6,343.8L645.0,341.5L645.4,339.1L645.9,336.8L646.5,334.5L647.2,332.2L648.0,330.0L648.9,327.8L649.8,325.6L650.9,323.4L652.0,321.2L653.2,319.1L654.4,316.9L655.8,314.8L657.1,312.8L658.6,310.7L660.1,308.7L661.6,306.6L663.2,304.7L664.9,302.7L666.5,300.7L668.2,298.8L670.0,296.9L671.8,295.0L673.5,293.2L675.3,291.4L677.2,289.6L679.0,287.8L680.9,286.0L682.7,284.3L684.6,282.6L686.5,280.9L688.5,279.2L690.4,277.6L692.4,275.9L694.3,274.3L696.3,272.8L698.3,271.2L700.3,269.7L702.3,268.2L704.4,266.7L706.4,265.2L708.5,263.8L710.6,262.4L712.6,261.0L714.7,259.6L716.9,258.2L719.0,256.9L721.1,255.6L723.3,254.3L725.4,253.0L727.6,251.7L729.8,250.5L732.0,249.3L734.2,248.1L736.4,246.9L738.7,245.8L740.9,244.6L743.2,243.5L745.4,242.4L747.7,241.3L750.0,240.3L752.3,239.2L754.6,238.2L756.9,237.2L759.2,236.2L761.5,235.3L763.9,234.3L766.2,233.4L768.5,232.5L770.9,231.6L773.3,230.7L775.6,229.9L778.0,229.1L780.4,228.2L782.8,227.4L785.2,226.7L787.6,225.9L790.0,225.1L792.5,224.4L794.9,223.7L797.3,223.0L799.7,222.3L802.2,221.7L804.6,221.0L807.1,220.4L809.5,219.8L812.0,219.2L814.5,218.6L816.9,218.0L819.4,217.5L821.9,216.9L824.4,216.4L826.9,215.9L829.4,215.4L831.8,214.9L834.3,214.5L836.8,214.0L839.3,213.6L841.8,213.2L844.3,212.8L846.8,212.4L849.3,212.0L851.8,211.6L854.4,211.3L856.9,210.9L859.4,210.6L861.9,210.3L864.4,210.0L866.9,209.7L869.4,209.5L871.9,209.2L874.4,209.0L876.9,208.8L879.5,208.5L882.0,208.3L884.5,208.1L887.0,208.0L889.5,207.8L892.0,207.6L894.5,207.5L897.0,207.4L899.5,207.3L902.0,207.1L904.5,207.0L907.0,207.0L909.5,206.9L912.0,206.8L914.5,206.8L917.0,206.7L919.5,206.7L922.1,206.7L924.6,206.7L927.1,206.7L929.6,206.7L932.1,206.7L934.6,206.8L937.1,206.8L939.6,206.8L942.1,206.9L944.6,207.0L947.1,207.1L949.6,207.2L952.1,207.3L954.6,207.4L957.1,207.5L959.6,207.6L962.1,207.7L964.6,207.9L967.1,208.0L969.5,208.2L972.0,208.4L974.5,208.6L977.0,208.7L979.5,208.9L982.0,209.1L984.5,209.4L987.0,209.6L989.5,209.8L992.0,210.0L994.5,210.3L997.0,210.5L999.5,210.8L1002.0,211.0L1004.5,211.3L1007.0,211.6L1009.5,211.9L1011.9,212.2L1014.4,212.5L1016.9,212.8L1019.4,213.1L1021.9,213.4L1024.4,213.7L1026.9,214.0L1029.4,214.4L1031.9,214.7L1034.4,215.1L1036.8,215.4L1039.3,215.8L1041.8,216.1L1044.3,216.5L1046.8,216.9L1049.3,217.2L1051.8,217.6L1054.2,218.0L1056.7,218.4L1059.2,218.8L1061.7,219.2L1064.2,219.6L1066.7,220.0L1069.2,220.4L1071.6,220.8L1074.1,221.2L1076.6,221.6L1079.1,222.1L1081.6,222.5L1084.1,222.9L1086.5,223.4L1089.0,223.8L1091.5,224.2L1094.0,224.7L1096.5,225.1L1098.9,225.6L1101.4,226.0L1103.9,226.5L1106.4,226.9L1108.9,227.4L1111.3,227.9L1113.8,228.3L1116.3,228.8L1118.8,229.3L1121.2,229.7L1123.7,230.2L1126.2,230.7L1128.7,231.1L1131.1,231.6L1133.6,232.1L1136.1,232.6L1138.6,233.0L1141.0,233.5L1143.5,234.0L1146.0,234.5L1148.5,234.9L1150.9,235.4L1153.4,235.9L1155.2,236.2"/>
<path d="M552.7,549.6L554.7,547.4L556.8,545.2L558.8,543.0L560.9,540.8L562.9,538.5L564.9,536.3L567.0,534.1L569.0,531.9L571.1,529.7L573.1,527.5L575.1,525.3L577.2,523.1L579.2,520.8L581.3,518.6L583.3,516.4L585.3,514.2L587.4,512.0L589.4,509.8L591.5,507.6L593.5,505.4L595.5,503.1L597.6,500.9L599.6,498.7L601.7,496.5L603.7,494.3L605.7,492.1L607.8,489.9L609.8,487.7L611.9,485.5L613.9,483.2L615.9,481.0L618.0,478.8L620.0,476.6L622.1,474.4L624.1,472.2L626.1,470.0L628.2,467.8L630.2,465.5L632.3,463.3L634.3,461.1L636.3,458.9L638.4,456.7L640.4,454.5L642.5,452.3L644.5,450.1L646.5,447.8L648.6,445.6L650.6,443.4L652.7,441.2L654.7,439.0L656.7,436.8L658.8,434.6L660.8,432.4L662.9,430.2L664.9,427.9L666.9,425.7L669.0,423.5L671.0,421.3L673.1,419.1L675.1,416.9L677.1,414.7L679.2,412.5L681.2,410.2L683.3,408.0L685.3,405.8L687.3,403.6L689.4,401.4L691.4,399.2L693.5,397.0L695.5,394.8L697.5,392.5L699.6,390.3L701.6,388.1L703.7,385.9L705.7,383.7L707.7,381.5L709.8,379.3L711.8,377.1L713.9,374.9L715.9,372.6L717.9,370.4L720.0,368.2L722.0,366.0L724.1,363.8L726.1,361.6L728.1,359.4L730.2,357.2L732.2,354.9L734.3,352.7L736.3,350.5L738.3,348.3L740.4,346.1L742.4,343.9L744.5,341.7L746.5,339.5L747.7,338.2"/>
<path d="M848.7,315.6L851.7,315.6L854.7,315.6L857.8,315.6L860.8,315.6L863.8,315.6L866.8,315.6L869.8,315.6L872.9,315.6L875.9,315.6L878.9,315.6L881.9,315.6L884.9,315.6L887.9,315.6L891.0,315.6L894.0,315.6L897.0,315.6L900.0,315.6L903.0,315.6L906.1,315.6L909.1,315.6L912.1,315.6L915.1,315.6L918.1,315.6L921.2,315.6L924.2,315.6L927.2,315.6L930.2,315.6L933.2,315.6L936.3,315.6L939.3,315.6L942.3,315.6L945.3,315.6L948.3,315.6L951.3,315.6L954.4,315.6L957.4,315.6L960.4,315.6L962.2,315.6"/>
<path d="M847.0,301.5L849.5,301.1L852.0,300.6L854.5,300.2L857.0,299.8L859.5,299.3L862.0,298.9L864.5,298.5L867.0,298.0L869.5,297.6L872.0,297.2L874.5,296.7L877.0,296.3L879.4,295.9L881.9,295.4L884.4,295.0L886.9,294.5L889.4,294.1L891.9,293.7L894.4,293.2L896.9,292.8L899.4,292.3L901.9,291.9L904.4,291.5L906.9,291.0L909.4,290.6L911.9,290.2L914.4,289.7L916.9,289.3L919.4,288.9L921.9,288.4L924.4,288.0L926.9,287.5L929.4,287.1L931.9,286.7L934.4,286.3L936.9,285.8L939.4,285.4L941.9,285.0L944.4,284.5L946.9,284.1L949.4,283.7L951.9,283.3L954.4,282.8L956.9,282.4L959.4,282.0L961.9,281.6L964.4,281.2L966.9,280.7L969.4,280.3L971.9,279.9L974.4,279.5L976.9,279.1L979.4,278.7L981.9,278.3L984.4,277.9L986.9,277.5L989.4,277.1L991.9,276.7L994.4,276.3L996.9,275.9L999.4,275.5L1001.9,275.1L1004.4,274.7L1006.9,274.3L1009.4,273.9L1011.9,273.5L1014.4,273.2L1016.9,272.8L1019.4,272.4L1021.9,272.0L1024.4,271.7L1026.9,271.3L1029.4,270.9L1031.9,270.6L1034.4,270.2L1037.0,269.9L1039.5,269.5L1042.0,269.1L1044.5,268.8L1047.0,268.5L1049.5,268.1L1052.0,267.8L1054.5,267.4L1057.0,267.1L1059.5,266.8L1062.1,266.5L1064.6,266.1L1067.1,265.8L1069.6,265.5L1072.1,265.2L1074.6,264.9L1077.1,264.6L1079.6,264.3L1082.2,264.0L1084.7,263.7L1087.2,263.4L1089.7,263.1L1092.2,262.8L1094.7,262.6L1097.3,262.3L1099.8,262.0L1102.3,261.8L1104.8,261.5L1107.3,261.2L1109.9,261.0L1112.4,260.7L1114.9,260.5L1117.4,260.3L1120.0,260.0L1122.5,259.8L1125.0,259.6L1127.5,259.4L1130.0,259.1L1132.6,258.9L1135.1,258.7L1137.6,258.5L1140.2,258.3L1142.7,258.1L1145.2,257.9L1147.7,257.8L1150.3,257.6L1152.8,257.4L1154.7,257.3"/>
<path d="M1048.5,302.6L1051.0,301.9L1053.4,301.2L1055.9,300.5L1058.4,299.8L1060.8,299.1L1063.3,298.4L1065.8,297.7L1068.2,297.0L1070.7,296.3L1073.2,295.5L1075.6,294.8L1078.1,294.1L1080.5,293.3L1083.0,292.6L1085.4,291.8L1087.9,291.1L1090.3,290.3L1092.8,289.6L1095.2,288.8L1097.7,288.0L1100.1,287.3L1102.6,286.5L1105.0,285.7L1107.5,284.9L1109.9,284.1L1112.3,283.3L1114.8,282.5L1117.2,281.7L1119.6,280.9L1122.1,280.1L1124.5,279.3L1126.9,278.5L1129.4,277.6L1131.8,276.8L1134.2,276.0L1136.6,275.1L1139.0,274.3L1141.5,273.4L1143.9,272.6L1146.3,271.7L1148.7,270.9L1151.1,270.0L1153.5,269.1L1155.5,268.4"/>
<path d="M1247.8,239.5L1250.4,239.2L1253.0,238.8L1255.6,238.4L1258.3,238.0L1260.9,237.6L1263.5,237.2L1266.1,236.7L1268.7,236.2L1271.3,235.7L1273.9,235.2L1276.5,234.6L1279.1,234.0L1281.7,233.4L1284.3,232.8L1286.8,232.2L1289.4,231.5L1292.0,230.8L1294.5,230.1"/>
<path d="M1259.8,190.0L1262.7,190.8L1265.7,191.6L1268.7,192.3L1271.6,193.1L1274.6,193.9L1277.6,194.7L1280.5,195.5L1283.5,196.2L1286.5,197.0L1289.4,197.8L1292.4,198.6L1294.4,199.1"/>
<path d="M557.4,575.2L559.8,577.0L562.3,578.7L564.7,580.5L567.2,582.2L569.6,584.0L572.1,585.7L574.5,587.5L577.0,589.2L579.4,591.0L581.8,592.8L584.3,594.5L586.7,596.3L589.2,598.0L591.6,599.8L594.1,601.5L596.5,603.3L599.0,605.0L601.4,606.8L603.9,608.5L606.3,610.3L608.7,612.1L611.2,613.8L613.6,615.6L616.1,617.3L618.5,619.1L621.0,620.8L623.4,622.6L625.9,624.3L628.3,626.1L630.8,627.9L633.2,629.6L635.6,631.4L638.1,633.1L640.5,634.9L643.0,636.6L645.4,638.4L647.9,640.1L650.3,641.9L652.8,643.6L655.2,645.4L657.6,647.2L660.1,648.9L662.5,650.7L665.0,652.4L667.4,654.2L669.9,655.9L672.3,657.7L674.8,659.4L677.2,661.2L679.6,663.0L682.1,664.7L684.5,666.5L687.0,668.2L689.4,670.0L691.9,671.7L694.3,673.5L696.8,675.2L699.2,677.0L701.7,678.7L704.1,680.5L706.5,682.3L709.0,684.0L711.4,685.8L713.9,687.5L716.3,689.3L718.8,691.0L721.2,692.8L723.7,694.5L726.1,696.3L728.5,698.0L731.0,699.8L733.4,701.6L735.9,703.3L738.3,705.1L740.8,706.8L742.2,707.8"/>
<path d="M547.0,575.2L548.1,577.5L549.2,579.7L550.4,582.0L551.5,584.2L552.6,586.5L553.8,588.7L554.9,591.0L556.0,593.2L557.2,595.5L558.3,597.7L559.5,600.0L560.7,602.2L561.8,604.5L563.0,606.7L564.2,608.9L565.3,611.2L566.5,613.4L567.7,615.6L568.9,617.9L570.0,620.1L571.2,622.3L572.4,624.5L573.6,626.7L574.8,629.0L576.0,631.2L577.2,633.4L578.4,635.6L579.6,637.8L580.8,640.0L582.0,642.2L583.3,644.4L584.5,646.7L585.7,648.9L586.9,651.1L588.1,653.3L589.4,655.5L590.6,657.7L591.8,659.9L593.1,662.1L594.3,664.2L595.5,666.4L596.8,668.6L598.0,670.8L599.3,673.0L600.5,675.2L601.8,677.4L603.0,679.6L604.3,681.8L605.5,683.9L606.8,686.1L608.1,688.3L609.3,690.5L610.6,692.7L611.8,694.8L613.1,697.0L614.4,699.2L615.6,701.4L616.9,703.6L618.2,705.7L619.5,707.9L620.7,710.1L622.0,712.2L623.3,714.4L624.6,716.6L625.9,718.8L627.1,720.9L628.4,723.1L629.7,725.3L631.0,727.4L632.3,729.6L633.6,731.8L634.9,733.9L636.2,736.1L637.4,738.2L638.7,740.4L640.0,742.6L641.3,744.7L642.6,746.9L643.9,749.1L645.2,751.2L646.5,753.4L647.8,755.5L649.1,757.7L650.4,759.9L651.7,762.0L653.0,764.2L654.3,766.3L655.6,768.5L656.9,770.6L658.2,772.8L659.5,775.0L660.8,777.1L662.1,779.3L663.4,781.4L664.7,783.6L666.0,785.8L667.3,787.9L668.6,790.1L669.9,792.2L671.2,794.4L672.5,796.5L673.8,798.7L675.1,800.9L676.4,803.0L677.7,805.2L679.0,807.3L680.3,809.5L681.6,811.7L682.9,813.8L684.2,816.0L685.5,818.1L686.8,820.3L688.1,822.5L689.4,824.6L690.7,826.8L692.0,828.9L693.3,831.1L694.6,833.3L695.9,835.4L697.2,837.6L698.5,839.8L699.7,841.9L701.0,844.1L702.3,846.3L703.6,848.4L704.9,850.6L706.2,852.8L707.5,854.9L708.7,857.1L710.0,859.3L711.3,861.4L712.6,863.6L713.8,865.8L715.1,868.0L716.4,870.1L717.7,872.3L718.9,874.5L720.2,876.7L721.5,878.8L722.7,881.0L724.0,883.2L725.3,885.4L726.5,887.6L727.8,889.8L729.0,891.9L730.3,894.1L731.5,896.3L732.8,898.5L734.0,900.7L735.3,902.9L736.5,905.1L737.8,907.3L739.0,909.5L740.2,911.7L741.5,913.9L742.7,916.1L743.9,918.3L745.1,920.5L746.4,922.7L747.6,924.9L748.8,927.1L750.0,929.3L751.2,931.5L752.4,933.7L753.7,935.9L754.9,938.1L756.1,940.3L757.3,942.6L758.1,944.1"/>
<path d="M541.0,575.0L541.4,577.5L541.8,580.0L542.1,582.4L542.5,584.9L542.9,587.4L543.2,589.9L543.6,592.4L544.0,594.8L544.4,597.3L544.7,599.8L545.1,602.3L545.4,604.8L545.8,607.2L546.2,609.7L546.5,612.2L546.9,614.7L547.2,617.2L547.6,619.7L547.9,622.1L548.3,624.6L548.6,627.1L549.0,629.6L549.3,632.1L549.7,634.5L550.0,637.0L550.4,639.5L550.7,642.0L551.1,644.5L551.4,647.0L551.7,649.4L552.1,651.9L552.4,654.4L552.8,656.9L553.1,659.4L553.4,661.9L553.8,664.3L554.1,666.8L554.4,669.3L554.8,671.8L555.1,674.3L555.4,676.8L555.7,679.2L556.1,681.7L556.4,684.2L556.7,686.7L557.0,689.2L557.4,691.7L557.7,694.1L558.0,696.6L558.3,699.1L558.6,701.6L559.0,704.1L559.3,706.6L559.6,709.0L559.9,711.5L560.2,714.0L560.6,716.5L560.9,719.0L561.2,721.5L561.5,723.9L561.8,726.4L562.1,728.9L562.4,731.4L562.7,733.9L563.1,736.4L563.4,738.9L563.7,741.3L564.0,743.8L564.3,746.3L564.6,748.8L564.9,751.3L565.2,753.8L565.5,756.3L565.8,758.7L566.1,761.2L566.5,763.7L566.8,766.2L567.1,768.7L567.4,771.2L567.7,773.7L568.0,776.1L568.3,778.6L568.6,781.1L568.9,783.6L569.2,786.1L569.5,788.6L569.8,791.0L570.1,793.5L570.4,796.0L570.7,798.5L571.0,801.0L571.3,803.5L571.6,806.0L571.9,808.4L572.2,810.9L572.5,813.4L572.8,815.9L573.1,818.4L573.4,820.9L573.7,823.4L574.0,825.9L574.3,828.3L574.6,830.8L574.9,833.3L575.2,835.8L575.5,838.3L575.8,840.8L576.1,843.3L576.4,845.7L576.7,848.2L577.1,850.7L577.4,853.2L577.7,855.7L578.0,858.2L578.3,860.7L578.6,863.1L578.9,865.6L579.2,868.1L579.5,870.6L579.8,873.1L580.1,875.6L580.4,878.1L580.7,880.5L581.0,883.0L581.3,885.5L581.6,888.0L581.9,890.5L582.2,893.0L582.6,895.5L582.9,897.9L583.2,900.4L583.5,902.9L583.8,905.4L584.1,907.9L584.4,910.4L584.7,912.9L585.0,915.3L585.4,917.8L585.7,920.3L586.0,922.8L586.3,925.3L586.6,927.8L586.9,930.3L587.3,932.7L587.6,935.2L587.9,937.7L588.2,940.2L588.5,942.7L588.9,945.2L589.2,947.7L589.5,950.1L589.8,952.6L590.1,955.1L590.5,957.6L590.8,960.1L591.1,962.6L591.5,965.1L591.8,967.5L592.1,970.0L592.4,972.5L592.8,975.0L593.1,977.5L593.4,980.0L593.8,982.5L594.1,984.9L594.5,987.4L594.8,989.9L595.1,992.4L595.5,994.9L595.8,997.4L596.1,999.8L596.5,1002.3L596.8,1004.8L597.2,1007.3L597.5,1009.8L597.9,1012.3L598.2,1014.8L598.6,1017.2L598.9,1019.7L599.3,1022.2L599.6,1024.7L600.0,1027.2L600.3,1029.7L600.7,1032.1L601.0,1034.6L601.4,1037.1L601.7,1039.6L602.1,1042.1L602.4,1044.6L602.8,1047.0L603.1,1049.5L603.5,1052.0L603.8,1054.5L604.2,1057.0L604.5,1059.5L604.9,1061.9L605.3,1064.4L605.6,1066.9L606.0,1069.4L606.3,1071.9L606.7,1074.4L607.0,1076.8L607.4,1079.3L607.7,1081.8L608.1,1084.3L608.5,1086.8L608.8,1089.3L609.2,1091.7L609.5,1094.2L609.9,1096.7L610.2,1099.2L610.6,1101.7L611.0,1104.1L611.3,1106.6L611.7,1109.1L612.0,1111.6L612.4,1114.1L612.7,1116.5L613.1,1119.0L613.4,1121.5L613.8,1124.0L614.1,1126.5L614.5,1128.9L614.9,1131.4L615.2,1133.9L615.6,1136.4L615.9,1138.9L616.3,1141.3L616.6,1143.8L617.0,1146.3L617.3,1148.8L617.7,1151.3L618.0,1153.7L618.4,1156.2L618.7,1158.7L619.0,1161.2L619.4,1163.7L619.7,1166.1L620.1,1168.6L620.4,1171.1L620.7,1173.6L621.1,1176.0L621.4,1178.5L621.7,1181.0L622.1,1183.5L622.4,1186.0L622.7,1188.4L623.0,1190.9L623.3,1193.4L623.6,1195.9L623.9,1198.4L624.2,1200.9L624.5,1203.3L624.8,1205.8L625.1,1208.3L625.4,1210.8L625.7,1213.3L625.9,1215.8L626.2,1218.2L626.4,1220.7L626.7,1223.2L627.0,1225.7L627.2,1228.2L627.4,1230.7L627.7,1233.2L627.9,1235.7L628.1,1238.2L628.3,1240.6L628.5,1243.1L628.7,1245.6L628.9,1248.1L629.1,1250.6L629.3,1253.1L629.4,1255.6L629.6,1258.1L629.7,1260.6L629.9,1263.1L630.0,1265.6L630.1,1268.1L630.3,1270.6L630.4,1273.1L630.5,1275.6L630.6,1278.1L630.7,1280.6L630.8,1283.1L630.9,1285.7L631.0,1288.2L631.1,1290.7L631.1,1293.2L631.2,1295.7L631.3,1298.2L631.3,1300.7L631.4,1303.2L631.4,1305.7L631.5,1308.2L631.5,1310.8L631.6,1313.3L631.6,1315.8L631.7,1318.3L631.7,1320.8L631.7,1323.3L631.8,1325.8L631.8,1328.4L631.8,1330.9L631.8,1333.4L631.9,1335.9L631.9,1338.4L631.9,1340.9L631.9,1343.5L632.0,1346.0L632.0,1348.5L632.0,1351.0L632.0,1353.5L632.0,1356.0L632.0,1358.6L632.1,1361.1L632.1,1363.6L632.1,1366.1L632.1,1368.6L632.1,1371.1L632.1,1373.7L632.2,1376.2L632.2,1378.7L632.2,1381.2L632.2,1383.7L632.3,1386.2L632.3,1388.8L632.3,1391.3L632.4,1393.8L632.4,1396.3L632.5,1398.8L632.5,1401.3L632.5,1403.8L632.6,1406.4L632.7,1408.9L632.7,1411.4L632.8,1413.9L632.8,1416.4L632.9,1418.9L633.0,1421.4L633.1,1423.9L633.2,1426.5L633.3,1429.0L633.3,1431.5L633.5,1434.0L633.6,1436.5L633.7,1439.0L633.8,1441.5L633.9,1444.0L634.0,1446.5L634.2,1449.0L634.3,1451.5L634.5,1454.0L634.6,1456.5L634.8,1459.0L635.0,1461.5L635.2,1464.0L635.4,1466.5L635.6,1469.0L635.8,1471.5L636.0,1474.0L636.2,1476.5L636.4,1479.0L636.7,1481.5L636.9,1484.0L637.2,1486.5L637.5,1488.9L637.7,1491.4L638.0,1493.9L638.3,1496.4L638.6,1498.9L638.9,1501.4L639.3,1503.9L639.6,1506.3L640.0,1508.8L640.3,1511.3L640.7,1513.8L641.1,1516.2L641.5,1518.7L641.9,1521.2L642.3,1523.7L642.8,1526.1L643.2,1528.6L643.7,1531.1L644.1,1533.5L644.6,1536.0L645.1,1538.4L645.6,1540.9L646.1,1543.4L646.7,1545.8L647.2,1548.3L647.8,1550.7L648.4,1553.2L649.0,1555.6L649.6,1558.1L650.2,1560.5L650.9,1563.0L651.5,1565.4L652.2,1567.8L652.9,1570.2L653.6,1572.7L654.4,1575.0L655.2,1577.4L656.0,1579.8L656.8,1582.2L657.7,1584.5L658.6,1586.8L659.5,1589.1L660.5,1591.4L661.5,1593.6L662.6,1595.8L663.7,1598.0L664.8,1600.2L666.0,1602.3L667.2,1604.4L668.5,1606.5L669.8,1608.5L671.2,1610.5L672.7,1612.5L674.2,1614.4L675.7,1616.3L677.3,1618.1L679.0,1619.9L680.7,1621.6L682.5,1623.3L684.3,1625.0L686.3,1626.6L688.0,1627.9"/>
<path d="M540.5,575.0L541.0,577.5L541.5,579.9L542.0,582.4L542.5,584.8L542.9,587.3L543.4,589.8L543.9,592.2L544.3,594.7L544.8,597.2L545.2,599.6L545.6,602.1L546.1,604.6L546.5,607.0L546.9,609.5L547.3,612.0L547.7,614.5L548.1,616.9L548.5,619.4L548.9,621.9L549.3,624.4L549.7,626.8L550.1,629.3L550.4,631.8L550.8,634.3L551.2,636.8L551.5,639.2L551.9,641.7L552.2,644.2L552.6,646.7L552.9,649.2L553.3,651.6L553.6,654.1L553.9,656.6L554.3,659.1L554.6,661.6L554.9,664.1L555.2,666.6L555.5,669.1L555.8,671.5L556.1,674.0L556.4,676.5L556.7,679.0L557.0,681.5L557.3,684.0L557.6,686.5L557.9,689.0L558.2,691.5L558.5,694.0L558.8,696.4L559.0,698.9L559.3,701.4L559.6,703.9L559.8,706.4L560.1,708.9L560.4,711.4L560.6,713.9L560.9,716.4L561.2,718.9L561.4,721.4L561.7,723.9L561.9,726.4L562.2,728.9L562.4,731.4L562.7,733.9L563.0,736.4L563.2,738.9L563.5,741.4L563.7,743.9L563.9,746.4L564.2,748.9L564.4,751.4L564.7,753.8L564.9,756.3L565.2,758.8L565.4,761.3L565.7,763.8L565.9,766.3L566.2,768.8L566.4,771.3L566.6,773.8L566.9,776.3L567.1,778.8L567.4,781.3L567.6,783.8L567.9,786.3L568.1,788.8L568.4,791.3L568.6,793.8L568.9,796.3L569.1,798.8L569.4,801.3L569.6,803.8L569.9,806.3L570.1,808.8L570.4,811.3L570.7,813.8L570.9,816.3L571.2,818.7L571.5,821.2L571.7,823.7L572.0,826.2L572.3,828.7L572.5,831.2L572.8,833.7L573.1,836.2L573.4,838.7L573.7,841.2L573.9,843.7L574.2,846.1L574.5,848.6L574.8,851.1L575.1,853.6L575.4,856.1L575.7,858.6L576.0,861.1L576.3,863.6L576.6,866.0L576.9,868.5L577.2,871.0L577.6,873.5L577.9,876.0L578.2,878.5L578.5,880.9L578.8,883.4L579.2,885.9L579.5,888.4L579.8,890.9L580.1,893.4L580.5,895.8L580.8,898.3L581.1,900.8L581.5,903.3L581.8,905.8L582.1,908.2L582.5,910.7L582.8,913.2L583.2,915.7L583.5,918.2L583.9,920.6L584.2,923.1L584.6,925.6L584.9,928.1L585.3,930.6L585.6,933.0L586.0,935.5L586.3,938.0L586.7,940.5L587.0,942.9L587.4,945.4L587.8,947.9L588.1,950.4L588.5,952.9L588.8,955.3L589.2,957.8L589.6,960.3L589.9,962.8L590.3,965.3L590.7,967.7L591.0,970.2L591.4,972.7L591.8,975.2L592.1,977.6L592.5,980.1L592.9,982.6L593.3,985.1L593.6,987.6L594.0,990.0L594.4,992.5L594.7,995.0L595.1,997.5L595.5,999.9L595.8,1002.4L596.2,1004.9L596.6,1007.4L597.0,1009.9L597.3,1012.3L597.7,1014.8L598.1,1017.3L598.4,1019.8L598.8,1022.3L599.2,1024.7L599.6,1027.2L599.9,1029.7L600.3,1032.2L600.7,1034.7L601.0,1037.1L601.4,1039.6L601.8,1042.1L602.1,1044.6L602.5,1047.1L602.9,1049.6L603.2,1052.0L603.6,1054.5L604.0,1057.0L604.3,1059.5L604.7,1062.0L605.1,1064.5L605.4,1066.9L605.8,1069.4L606.1,1071.9L606.5,1074.4L606.9,1076.9L607.2,1079.4L607.6,1081.9L607.9,1084.3L608.3,1086.8L608.6,1089.3L609.0,1091.8L609.3,1094.3L609.7,1096.8L610.0,1099.3L610.4,1101.8L610.7,1104.3L611.1,1106.8L611.4,1109.2L611.7,1111.7L612.1,1114.2L612.4,1116.7L612.7,1119.2L613.1,1121.7L613.4,1124.2L613.7,1126.7L614.1,1129.2L614.4,1131.7L614.7,1134.2L615.0,1136.6L615.3,1139.1L615.6,1141.6L616.0,1144.1L616.3,1146.6L616.6,1149.1L616.9,1151.6L617.2,1154.1L617.5,1156.6L617.8,1159.1L618.1,1161.6L618.4,1164.1L618.7,1166.6L618.9,1169.1L619.2,1171.6L619.5,1174.1L619.8,1176.5L620.1,1179.0L620.3,1181.5L620.6,1184.0L620.9,1186.5L621.1,1189.0L621.4,1191.5L621.7,1194.0L621.9,1196.5L622.2,1199.0L622.4,1201.5L622.7,1204.0L622.9,1206.5L623.1,1209.0L623.4,1211.5L623.6,1214.0L623.8,1216.5L624.1,1219.0L624.3,1221.4L624.5,1223.9L624.7,1226.4L624.9,1228.9L625.1,1231.4L625.3,1233.9L625.5,1236.4L625.7,1238.9L625.9,1241.4L626.1,1243.9L626.3,1246.4L626.4,1248.9L626.6,1251.4L626.8,1253.9L626.9,1256.4L627.1,1258.8L627.3,1261.3L627.4,1263.8L627.6,1266.3L627.7,1268.8L627.9,1271.3L628.0,1273.8L628.1,1276.3L628.3,1278.8L628.4,1281.3L628.5,1283.8L628.6,1286.3L628.7,1288.8L628.8,1291.2L629.0,1293.7L629.1,1296.2L629.2,1298.7L629.3,1301.2L629.4,1303.7L629.4,1306.2L629.5,1308.7L629.6,1311.2L629.7,1313.7L629.8,1316.2L629.9,1318.7L629.9,1321.2L630.0,1323.7L630.1,1326.2L630.1,1328.7L630.2,1331.2L630.3,1333.7L630.3,1336.1L630.4,1338.6L630.4,1341.1L630.5,1343.6L630.6,1346.1L630.6,1348.6L630.6,1351.1L630.7,1353.6L630.7,1356.1L630.8,1358.6L630.8,1361.1L630.8,1363.6L630.9,1366.1L630.9,1368.6L630.9,1371.1L631.0,1373.7L631.0,1376.2L631.0,1378.7L631.1,1381.2L631.1,1383.7L631.1,1386.2L631.1,1388.7L631.1,1391.2L631.2,1393.7L631.2,1396.2L631.2,1398.7L631.2,1401.2L631.2,1403.8L631.2,1406.3L631.2,1408.8L631.3,1411.3L631.3,1413.8L631.3,1416.3L631.3,1418.8L631.3,1421.4L631.3,1423.9L631.3,1426.4L631.3,1428.9L631.3,1431.4L631.3,1434.0L631.3,1436.5L631.3,1439.0L631.3,1441.5L631.4,1444.1L631.4,1446.6L631.4,1449.1L631.4,1451.7L631.4,1454.2L631.4,1456.7L631.4,1459.2L631.5,1461.8L631.5,1464.3L631.5,1466.8L631.5,1469.4L631.6,1471.9L631.6,1474.4L631.6,1476.9L631.7,1479.5L631.7,1482.0L631.8,1484.5L631.9,1487.0L631.9,1489.6L632.0,1492.1L632.1,1494.6L632.2,1497.1L632.3,1499.7L632.4,1502.2L632.5,1504.7L632.6,1507.2L632.7,1509.7L632.8,1512.2L633.0,1514.8L633.1,1517.3L633.3,1519.8L633.5,1522.3L633.6,1524.8L633.8,1527.3L634.0,1529.8L634.2,1532.3L634.4,1534.8L634.7,1537.3L634.9,1539.8L635.1,1542.3L635.4,1544.8L635.7,1547.3L636.0,1549.7L636.3,1552.2L636.6,1554.7L636.9,1557.2L637.2,1559.6L637.6,1562.1L637.9,1564.6L638.3,1567.1L638.7,1569.5L639.1,1572.0L639.5,1574.4L640.0,1576.9L640.4,1579.3L640.9,1581.8L641.3,1584.2L641.8,1586.7L642.4,1589.1L642.9,1591.5L643.4,1593.9L644.0,1596.4L644.6,1598.8L645.2,1601.2L645.8,1603.6L646.4,1606.0L647.1,1608.4L647.8,1610.8L648.4,1613.2L649.2,1615.6L649.9,1618.0L650.6,1620.4L651.4,1622.7L652.2,1625.1L653.0,1627.5L653.8,1629.8L654.7,1632.2L655.6,1634.5L656.5,1636.9L657.4,1639.2L658.3,1641.5L659.3,1643.9L660.3,1646.2L661.3,1648.5L662.3,1650.8L663.4,1653.1L664.5,1655.3L665.7,1657.5L666.9,1659.7L668.1,1661.9L669.4,1664.0L670.7,1666.1L672.1,1668.1L673.5,1670.0L675.1,1671.9L676.6,1673.8L678.3,1675.5L680.0,1677.2L681.8,1678.9L683.6,1680.4L685.6,1681.9L687.6,1683.2L689.7,1684.5L691.9,1685.7L694.1,1686.7L696.5,1687.7L698.9,1688.6L701.5,1689.3L702.1,1689.5"/>
<path d="M544.0,575.0L544.7,577.4L545.3,579.8L546.0,582.2L546.6,584.7L547.3,587.1L547.9,589.5L548.6,591.9L549.2,594.3L549.9,596.7L550.5,599.2L551.2,601.6L551.9,604.0L552.5,606.4L553.2,608.8L553.8,611.2L554.5,613.6L555.2,616.1L555.8,618.5L556.5,620.9L557.2,623.3L557.8,625.7L558.5,628.1L559.2,630.6L559.8,633.0L560.5,635.4L561.2,637.8L561.8,640.2L562.5,642.7L563.1,645.1L563.8,647.5L564.5,649.9L565.1,652.3L565.8,654.7L566.5,657.2L567.2,659.6L567.8,662.0L568.5,664.4L569.2,666.8L569.8,669.3L570.5,671.7L571.1,674.1L571.8,676.5L572.5,678.9L573.1,681.4L573.8,683.8L574.5,686.2L575.1,688.6L575.8,691.0L576.5,693.5L577.1,695.9L577.8,698.3L578.5,700.7L579.1,703.2L579.8,705.6L580.4,708.0L581.1,710.4L581.8,712.8L582.4,715.3L583.1,717.7L583.7,720.1L584.4,722.5L585.0,725.0L585.7,727.4L586.3,729.8L587.0,732.2L587.6,734.7L588.3,737.1L588.9,739.5L589.6,741.9L590.2,744.4L590.9,746.8L591.5,749.2L592.2,751.7L592.8,754.1L593.5,756.5L594.1,758.9L594.7,761.4L595.4,763.8L596.0,766.2L596.6,768.6L597.3,771.1L597.9,773.5L598.5,775.9L599.2,778.4L599.8,780.8L600.4,783.2L601.0,785.7L601.7,788.1L602.3,790.5L602.9,793.0L603.5,795.4L604.1,797.8L604.7,800.3L605.4,802.7L606.0,805.1L606.6,807.6L607.2,810.0L607.8,812.4L608.4,814.9L609.0,817.3L609.6,819.7L610.2,822.2L610.8,824.6L611.4,827.0L611.9,829.5L612.5,831.9L613.1,834.3L613.7,836.8L614.3,839.2L614.9,841.7L615.4,844.1L616.0,846.5L616.6,849.0L617.1,851.4L617.7,853.9L618.3,856.3L618.8,858.7L619.4,861.2L619.9,863.6L620.5,866.1L621.1,868.5L621.6,871.0L622.1,873.4L622.7,875.8L623.2,878.3L623.8,880.7L624.3,883.2L624.8,885.6L625.4,888.1L625.9,890.5L626.5,893.0L627.0,895.4L627.5,897.8L628.0,900.3L628.6,902.7L629.1,905.2L629.6,907.6L630.2,910.1L630.7,912.5L631.2,915.0L631.8,917.4L632.3,919.8L632.8,922.3L633.3,924.7L633.9,927.2L634.4,929.6L634.9,932.1L635.5,934.5L636.0,937.0L636.5,939.4L637.1,941.8L637.6,944.3L638.2,946.7L638.7,949.2L639.2,951.6L639.8,954.1L640.3,956.5L640.9,958.9L641.4,961.4L642.0,963.8L642.5,966.3L643.1,968.7L643.7,971.1L644.2,973.6L644.8,976.0L645.4,978.5L646.0,980.9L646.5,983.3L647.1,985.8L647.7,988.2L648.3,990.6L648.9,993.1L649.5,995.5L650.1,997.9L650.7,1000.4L651.3,1002.8L651.9,1005.2L652.5,1007.7L653.2,1010.1L653.8,1012.5L654.4,1014.9L655.0,1017.4L655.7,1019.8L656.3,1022.2L657.0,1024.7L657.6,1027.1L658.3,1029.5L658.9,1031.9L659.6,1034.3L660.2,1036.8L660.9,1039.2L661.6,1041.6L662.2,1044.0L662.9,1046.4L663.6,1048.9L664.3,1051.3L664.9,1053.7L665.6,1056.1L666.3,1058.5L667.0,1060.9L667.7,1063.4L668.4,1065.8L669.1,1068.2L669.8,1070.6L670.5,1073.0L671.2,1075.4L672.0,1077.8L672.7,1080.2L673.4,1082.6L674.1,1085.0L674.8,1087.5L675.6,1089.9L676.3,1092.3L677.0,1094.7L677.8,1097.1L678.5,1099.5L679.3,1101.9L680.0,1104.3L680.8,1106.7L681.5,1109.1L682.3,1111.5L683.0,1113.9L683.8,1116.3L684.6,1118.7L685.3,1121.1L686.1,1123.4L686.9,1125.8L687.6,1128.2L688.4,1130.6L689.2,1133.0L690.0,1135.4L690.8,1137.8L691.6,1140.2L692.3,1142.6L693.1,1145.0L693.9,1147.3L694.7,1149.7L695.5,1152.1L696.3,1154.5L697.1,1156.9L697.9,1159.3L698.7,1161.6L699.6,1164.0L700.4,1166.4L701.2,1168.8L702.0,1171.1L702.8,1173.5L703.6,1175.9L704.5,1178.3L705.3,1180.6L706.1,1183.0L706.9,1185.4L707.8,1187.8L708.6,1190.1L709.4,1192.5L710.3,1194.9L711.1,1197.2L711.9,1199.6L712.8,1202.0L713.6,1204.3L714.5,1206.7L715.3,1209.1L716.2,1211.4L717.0,1213.8L717.9,1216.1L718.7,1218.5L719.6,1220.9L720.4,1223.2L721.3,1225.6L722.2,1227.9L723.0,1230.3L723.9,1232.6L724.7,1235.0L725.6,1237.3L726.5,1239.7L727.4,1242.0L728.2,1244.4L729.1,1246.7L730.0,1249.1L730.8,1251.4L731.7,1253.8L732.6,1256.1L733.5,1258.4L734.4,1260.8L735.2,1263.1L736.1,1265.5L737.0,1267.8L737.9,1270.1L738.8,1272.5L739.7,1274.8L740.6,1277.1L741.5,1279.5L742.4,1281.8L743.3,1284.1L744.2,1286.5L745.1,1288.8L746.0,1291.1L746.9,1293.5L747.8,1295.8L748.7,1298.1L749.6,1300.4L750.5,1302.8L751.4,1305.1L752.4,1307.4L753.3,1309.7L754.2,1312.0L755.1,1314.4L756.1,1316.7L757.0,1319.0L757.9,1321.3L758.9,1323.6L759.8,1325.9L760.7,1328.3L761.7,1330.6L762.6,1332.9L763.6,1335.2L764.5,1337.5L765.5,1339.8L766.4,1342.1L767.4,1344.4L768.3,1346.7L769.3,1349.0L770.3,1351.3L771.2,1353.6L772.2,1355.9L773.2,1358.3L774.2,1360.6L775.1,1362.9L776.1,1365.2L777.1,1367.4L778.1,1369.7L779.1,1372.0L780.1,1374.3L781.1,1376.6L782.1,1378.9L783.1,1381.2L784.1,1383.5L785.1,1385.8L786.1,1388.1L787.1,1390.4L788.1,1392.7L789.2,1395.0L790.2,1397.2L791.2,1399.5L792.2,1401.8L793.3,1404.1L794.3,1406.4L795.4,1408.7L796.4,1411.0L797.5,1413.2L798.5,1415.5L799.6,1417.8L800.6,1420.1L801.7,1422.3L802.8,1424.6L803.8,1426.9L804.9,1429.2L806.0,1431.5L807.0,1433.7L808.1,1436.0L809.2,1438.3L810.3,1440.5L811.4,1442.8L812.5,1445.1L813.6,1447.3L814.7,1449.6L815.8,1451.9L816.9,1454.1L818.1,1456.4L819.2,1458.7L820.3,1460.9L821.4,1463.2L822.6,1465.5L823.7,1467.7L824.9,1470.0L826.0,1472.2L827.2,1474.5L828.4,1476.7L829.5,1479.0L830.7,1481.2L831.9,1483.4L833.1,1485.7L834.3,1487.9L835.5,1490.1L836.7,1492.3L837.9,1494.5L839.2,1496.7L840.4,1498.9L841.7,1501.1L842.9,1503.3L844.2,1505.5L845.5,1507.7L846.7,1509.8L848.0,1512.0L849.4,1514.1L850.7,1516.3L852.0,1518.4L853.3,1520.5L854.7,1522.7L856.1,1524.8L857.4,1526.9L858.8,1529.0L860.2,1531.0L861.6,1533.1L863.0,1535.2L864.5,1537.2L865.9,1539.3L867.4,1541.3L868.9,1543.3L870.3,1545.3L871.9,1547.3L873.4,1549.3L874.9,1551.3L876.4,1553.3L878.0,1555.2L879.6,1557.1L881.2,1559.1L882.8,1561.0L884.4,1562.9L886.0,1564.8L887.7,1566.6L889.4,1568.5L891.1,1570.3L892.8,1572.1L894.5,1574.0L896.2,1575.7L898.0,1577.5L899.8,1579.3L901.6,1581.0L903.4,1582.7L905.2,1584.4L907.0,1586.1L908.9,1587.8L910.8,1589.4L912.7,1591.0L914.6,1592.6L916.5,1594.1L918.5,1595.7L920.5,1597.2L922.5,1598.6L924.5,1600.1L926.5,1601.5L928.6,1602.9L930.6,1604.2L932.7,1605.5L934.8,1606.8L936.9,1608.1L939.1,1609.3L941.3,1610.4L943.4,1611.6L945.6,1612.7L947.9,1613.7L950.1,1614.8L952.4,1615.8L954.6,1616.7L956.9,1617.7L959.2,1618.6L961.5,1619.4L963.9,1620.3L966.2,1621.1L968.6,1621.9L970.9,1622.7L973.3,1623.4L975.7,1624.1L978.1,1624.8L980.5,1625.4L983.0,1626.1L985.4,1626.7L987.9,1627.3L990.3,1627.8L992.8,1628.4L995.3,1628.9L997.7,1629.4L1000.2,1629.9L1002.7,1630.4L1005.2,1630.8L1007.7,1631.3L1010.3,1631.7L1012.8,1632.1L1015.3,1632.5L1017.8,1632.8L1020.3,1633.2L1022.9,1633.5L1025.4,1633.9L1027.9,1634.2L1030.5,1634.5L1033.0,1634.8L1035.6,1635.1L1038.1,1635.4L1040.6,1635.7L1043.2,1635.9L1045.7,1636.2L1048.2,1636.4L1050.8,1636.7L1053.3,1636.9L1055.8,1637.2L1058.3,1637.4L1060.8,1637.7L1063.4,1637.9L1065.9,1638.1L1068.4,1638.3L1070.9,1638.6L1073.4,1638.8L1075.9,1639.0L1078.4,1639.2L1080.9,1639.4L1083.4,1639.6L1085.9,1639.8L1088.4,1640.0L1090.9,1640.2L1093.4,1640.3L1095.9,1640.5L1098.4,1640.7L1100.9,1640.9L1103.3,1641.0L1105.8,1641.2L1108.3,1641.4L1110.8,1641.5L1113.3,1641.7L1115.8,1641.9L1118.3,1642.0L1120.8,1642.2L1123.3,1642.3L1125.8,1642.5L1128.2,1642.6L1130.7,1642.8L1133.2,1642.9L1135.7,1643.0L1138.2,1643.2L1140.7,1643.3L1143.2,1643.5L1145.7,1643.6L1148.2,1643.7L1149.9,1643.8"/>
<path d="M1049.0,321.0L1051.6,321.5L1054.2,322.0L1056.8,322.6L1059.3,323.2L1061.8,323.9L1064.3,324.6L1066.8,325.3L1069.2,326.1L1071.7,326.9L1074.0,327.8L1076.4,328.7L1078.8,329.7L1081.1,330.7L1083.4,331.7L1085.7,332.8L1087.9,333.9L1090.2,335.0L1092.4,336.2L1094.5,337.4L1096.7,338.7L1098.8,339.9L1101.0,341.3L1103.1,342.6L1105.1,344.0L1107.2,345.4L1109.2,346.8L1111.2,348.3L1113.2,349.8L1115.2,351.4L1117.1,352.9L1119.0,354.5L1120.9,356.2L1122.8,357.8L1124.7,359.5L1126.5,361.2L1128.3,362.9L1130.1,364.7L1131.9,366.4L1133.7,368.2L1135.4,370.1L1137.1,371.9L1138.8,373.8L1140.5,375.7L1142.1,377.6L1143.8,379.5L1145.4,381.5L1147.0,383.5L1148.6,385.5L1150.1,387.5L1151.7,389.5L1153.2,391.6L1154.7,393.6L1156.2,395.7L1157.7,397.8L1159.1,399.9L1160.6,402.0L1162.0,404.2L1163.4,406.3L1164.8,408.5L1166.1,410.7L1167.5,412.8L1168.8,415.0L1170.1,417.3L1171.4,419.5L1172.7,421.7L1174.0,423.9L1175.2,426.2L1176.5,428.4L1177.7,430.7L1178.9,432.9L1180.1,435.2L1181.2,437.5L1182.4,439.8L1183.5,442.1L1184.6,444.3L1185.7,446.6L1186.8,448.9L1187.9,451.2L1189.0,453.5L1190.0,455.8L1191.1,458.1L1192.1,460.4L1192.7,461.8"/>
<path d="M1047.7,603.7L1050.3,603.4L1052.9,602.9L1055.5,602.5L1058.0,601.9L1060.6,601.4L1063.1,600.8L1065.6,600.2L1068.1,599.6L1070.5,598.9L1073.0,598.1L1075.4,597.4L1077.8,596.6L1080.2,595.8L1082.6,594.9L1085.0,594.0L1087.4,593.1L1089.7,592.2L1092.0,591.2L1094.3,590.2L1096.6,589.1L1098.9,588.0L1101.1,586.9L1103.4,585.8L1105.6,584.6L1107.8,583.4L1110.0,582.2L1112.2,581.0L1114.4,579.7L1116.5,578.4L1118.6,577.1L1120.8,575.7L1122.9,574.4L1125.0,573.0L1127.0,571.5L1129.1,570.1L1131.1,568.6L1133.2,567.1L1135.2,565.6L1137.2,564.1L1139.2,562.5L1141.1,560.9L1143.1,559.3L1145.0,557.7L1146.9,556.1L1148.8,554.4L1150.7,552.7L1152.6,551.0L1154.5,549.3L1156.3,547.6L1158.2,545.8L1160.0,544.0L1161.8,542.2L1163.6,540.4L1165.4,538.6L1167.1,536.8L1168.9,535.0L1170.6,533.1L1172.3,531.2L1174.0,529.3L1175.7,527.4L1177.4,525.5L1179.0,523.6L1180.7,521.6L1182.3,519.7L1183.9,517.7L1185.6,515.8L1187.1,513.8L1188.7,511.8L1189.9,510.3"/>
<path d="M1073.5,1087.0L1076.6,1087.0L1079.6,1087.0L1082.7,1087.0L1085.8,1087.0L1088.8,1087.0L1091.9,1087.0L1095.0,1087.0L1098.0,1087.0L1101.1,1087.0L1104.1,1087.0L1107.2,1087.0L1110.3,1087.0L1113.3,1087.0L1116.4,1087.0L1119.5,1087.0L1122.5,1087.0L1125.6,1087.0L1128.7,1087.0L1131.7,1087.0L1134.8,1087.0L1137.9,1087.0L1140.9,1087.0L1142.9,1087.0"/>
<path d="M867.5,1656.3L870.1,1656.9L872.7,1657.5L875.3,1658.0L877.9,1658.6L880.5,1659.1L883.1,1659.6L885.7,1660.1L888.3,1660.6L890.9,1661.0L893.5,1661.4L896.1,1661.8L898.8,1662.2L901.4,1662.6L904.0,1662.9L906.7,1663.2L909.3,1663.5L912.0,1663.7L914.6,1663.9L917.2,1664.2L919.9,1664.3L922.6,1664.5L925.2,1664.6L927.9,1664.8L927.9,1664.8"/>
<path d="M1081.5,1663.3L1084.0,1662.7L1086.6,1662.2L1089.1,1661.7L1091.6,1661.2L1094.2,1660.7L1096.7,1660.2L1099.3,1659.8L1101.8,1659.3L1104.3,1658.9L1106.9,1658.4L1109.4,1658.0L1112.0,1657.6L1114.5,1657.2L1117.1,1656.8L1119.6,1656.4L1122.2,1656.0L1124.7,1655.6L1127.3,1655.3L1129.9,1654.9L1132.4,1654.6L1135.0,1654.3L1137.5,1653.9L1140.1,1653.6L1142.7,1653.3L1145.2,1653.0L1147.8,1652.7L1150.0,1652.5"/>
<path d="M389.3,1273.4L391.6,1274.8L393.9,1276.3L396.0,1277.9L398.1,1279.5L400.1,1281.1L402.0,1282.9L403.8,1284.6L405.5,1286.4L407.1,1288.3L408.7,1290.2L410.1,1292.1L411.6,1294.1L412.9,1296.2L414.2,1298.2L415.4,1300.3L416.5,1302.5L417.6,1304.7L418.6,1306.9L419.5,1309.1L420.4,1311.4L421.3,1313.7L422.0,1316.0L422.8,1318.4L423.5,1320.8L424.1,1323.2L424.7,1325.6L425.3,1328.1L425.8,1330.5L426.3,1333.0L426.7,1335.5L427.2,1338.0L427.5,1340.6L427.9,1343.1L428.2,1345.7L428.5,1348.2L428.8,1350.8L429.1,1353.3L429.3,1355.9L429.6,1358.5L429.8,1361.1L430.0,1363.6L430.2,1366.2L430.4,1368.8L430.6,1371.3L430.8,1373.9L431.0,1376.5L431.1,1379.0L431.3,1381.6L431.4,1384.1L431.6,1386.7L431.7,1389.2L431.8,1391.8L431.9,1394.3L432.1,1396.8L432.2,1399.4L432.3,1401.9L432.3,1404.5L432.4,1407.0L432.5,1409.5L432.6,1412.0L432.6,1414.6L432.7,1417.1L432.8,1419.6L432.8,1422.1L432.8,1424.7L432.9,1427.2L432.9,1429.7L432.9,1432.2L432.9,1434.7L432.9,1437.2L432.9,1439.7L432.9,1442.2L432.9,1444.8L432.9,1447.3L432.9,1449.8L432.9,1452.3L432.9,1454.8L432.8,1457.3L432.8,1459.8L432.8,1462.3L432.7,1464.8L432.7,1467.3L432.6,1469.8L432.5,1472.3L432.5,1474.8L432.4,1477.2L432.3,1479.7L432.3,1482.2L432.2,1484.7L432.1,1487.2L432.0,1489.7L431.9,1492.2L431.8,1494.7L431.7,1497.2L431.6,1499.7L431.5,1502.2L431.4,1504.7L431.3,1507.1L431.2,1509.6L431.1,1512.1L431.0,1514.6L430.8,1517.1L430.7,1519.6L430.6,1522.1L430.5,1524.6L430.3,1527.1L430.2,1529.6L430.1,1532.0L429.9,1534.5L429.8,1537.0L429.6,1539.5L429.5,1542.0L429.3,1544.5L429.2,1547.0L429.1,1549.5L428.9,1552.0L428.8,1554.5L428.6,1557.0L428.5,1559.5L428.3,1562.0L428.1,1564.5L428.0,1567.0L427.8,1569.5L427.7,1572.0L427.5,1574.5L427.4,1577.0L427.2,1579.5L427.0,1582.0L426.9,1584.5L426.7,1587.0L426.6,1589.5L426.4,1592.0L426.2,1594.6L426.1,1597.1L425.9,1599.6L425.8,1602.1L425.6,1604.6L425.5,1607.1L425.3,1609.7L425.2,1612.2L425.0,1614.7L424.8,1617.2L424.7,1619.8L424.5,1622.3L424.4,1624.9L424.2,1627.4L424.1,1629.9L424.0,1632.5L423.8,1635.0L423.7,1637.6L423.5,1640.1L423.4,1642.7L423.3,1645.2L423.1,1647.8L423.0,1650.3L422.9,1652.9L422.8,1655.4L422.6,1658.0L422.5,1660.6L422.4,1663.1L422.3,1665.7L422.2,1668.3L422.1,1670.8L422.0,1673.4L422.0,1676.0L421.9,1678.6L421.8,1681.1L421.8,1683.7L421.8,1686.3L421.7,1688.8L421.7,1691.4L421.7,1693.9L421.7,1696.5L421.8,1699.1L421.8,1701.6L421.8,1704.2L421.9,1706.7L422.0,1709.3L422.1,1711.8L422.2,1714.3L422.3,1716.9L422.5,1719.4L422.6,1721.9L422.8,1724.4L423.0,1727.0L423.2,1729.5L423.5,1732.0L423.7,1734.5L424.0,1737.0L424.3,1739.5L424.7,1741.9L425.0,1744.4L425.4,1746.9L425.8,1749.4L426.2,1751.8L426.6,1754.3L427.1,1756.7L427.6,1759.1L428.1,1761.6L428.7,1764.0L429.3,1766.4L429.9,1768.8L430.5,1771.2L431.2,1773.5L431.9,1775.9L432.6,1778.3L433.4,1780.6L434.2,1782.9L435.0,1785.3L435.8,1787.6L436.7,1789.9L437.6,1792.2L438.6,1794.5L439.6,1796.7L440.6,1799.0L441.7,1801.3L442.8,1803.5L443.9,1805.7L445.1,1807.9L446.3,1810.1L447.5,1812.3L448.8,1814.5L450.2,1816.6L451.5,1818.8L453.0,1820.9L454.5,1822.9L456.0,1824.9L457.8,1826.7L459.6,1828.4L461.6,1830.0L463.8,1831.3L466.3,1832.4L468.9,1833.2L471.8,1833.8L474.8,1834.2L477.8,1834.5L480.9,1834.8L483.8,1835.0"/>
<path d="M390.8,1273.4L392.5,1275.3L394.2,1277.2L395.9,1279.0L397.6,1281.0L399.2,1282.9L400.8,1284.8L402.4,1286.8L404.0,1288.7L405.6,1290.7L407.1,1292.7L408.6,1294.7L410.1,1296.7L411.5,1298.8L413.0,1300.8L414.4,1302.9L415.8,1304.9L417.2,1307.0L418.5,1309.1L419.9,1311.2L421.2,1313.3L422.5,1315.4L423.8,1317.6L425.1,1319.7L426.3,1321.9L427.5,1324.0L428.7,1326.2L429.9,1328.4L431.1,1330.6L432.3,1332.8L433.4,1335.0L434.6,1337.2L435.7,1339.5L436.8,1341.7L437.9,1343.9L438.9,1346.2L440.0,1348.5L441.0,1350.7L442.1,1353.0L443.1,1355.3L444.1,1357.6L445.1,1359.9L446.0,1362.2L447.0,1364.5L448.0,1366.8L448.9,1369.1L449.8,1371.5L450.7,1373.8L451.6,1376.2L452.5,1378.5L453.4,1380.9L454.3,1383.2L455.2,1385.6L456.0,1387.9L456.9,1390.3L457.7,1392.7L458.5,1395.1L459.3,1397.4L460.1,1399.8L460.9,1402.2L461.7,1404.6L462.5,1407.0L463.3,1409.4L464.1,1411.8L464.8,1414.2L465.6,1416.6L466.3,1419.0L467.1,1421.4L467.8,1423.9L468.6,1426.3L469.3,1428.7L470.0,1431.1L470.7,1433.5L471.4,1436.0L472.1,1438.4L472.8,1440.8L473.5,1443.2L474.2,1445.7L474.9,1448.1L475.5,1450.6L476.2,1453.0L476.8,1455.4L477.5,1457.9L478.1,1460.3L478.8,1462.8L479.4,1465.2L480.1,1467.7L480.7,1470.1L481.3,1472.6L481.9,1475.0L482.5,1477.5L483.1,1479.9L483.7,1482.4L484.3,1484.8L484.9,1487.3L485.5,1489.7L486.1,1492.2L486.7,1494.7L487.3,1497.1L487.8,1499.6L488.4,1502.1L489.0,1504.5L489.5,1507.0L490.1,1509.4L490.6,1511.9L491.2,1514.4L491.7,1516.8L492.3,1519.3L492.8,1521.8L493.3,1524.2L493.9,1526.7L494.4,1529.2L494.9,1531.6L495.5,1534.1L496.0,1536.6L496.5,1539.0L497.0,1541.5L497.5,1544.0L498.0,1546.4L498.5,1548.9L499.0,1551.4L499.5,1553.8L500.0,1556.3L500.5,1558.8L501.0,1561.2L501.5,1563.7L502.0,1566.2L502.4,1568.6L502.9,1571.1L503.4,1573.6L503.9,1576.0L504.3,1578.5L504.8,1581.0L505.3,1583.4L505.7,1585.9L506.2,1588.4L506.6,1590.9L507.1,1593.3L507.6,1595.8L508.0,1598.3L508.5,1600.7L508.9,1603.2L509.3,1605.7L509.8,1608.1L510.2,1610.6L510.7,1613.1L511.1,1615.6L511.5,1618.0L512.0,1620.5L512.4,1623.0L512.8,1625.5L513.2,1627.9L513.7,1630.4L514.1,1632.9L514.5,1635.3L514.9,1637.8L515.3,1640.3L515.7,1642.8L516.2,1645.2L516.6,1647.7L517.0,1650.2L517.4,1652.7L517.8,1655.1L518.2,1657.6L518.6,1660.1L519.0,1662.6L519.4,1665.1L519.8,1667.5L520.2,1670.0L520.6,1672.5L521.0,1675.0L521.4,1677.4L521.7,1679.9L522.1,1682.4L522.5,1684.9L522.9,1687.4L523.3,1689.8L523.7,1692.3L524.1,1694.8L524.4,1697.3L524.8,1699.8L525.2,1702.3L525.6,1704.7L526.0,1707.2L526.3,1709.7L526.7,1712.2L527.1,1714.7L527.5,1717.2L527.8,1719.7L528.2,1722.1L528.6,1724.6L529.0,1727.1L529.3,1729.6L529.7,1732.1L530.1,1734.6L530.4,1737.1L530.8,1739.6L531.2,1742.1L531.5,1744.6L531.9,1747.0L532.3,1749.5L532.6,1752.0L533.0,1754.5L533.4,1757.0L533.7,1759.5L534.1,1762.0L534.5,1764.5L534.8,1767.0L535.1,1768.8"/>
<path d="M596.2,1782.0L598.7,1781.5L601.2,1781.0L603.7,1780.5L606.2,1780.0L608.6,1779.5L611.1,1779.0L613.6,1778.6L616.1,1778.1L618.6,1777.7L621.0,1777.2L623.5,1776.8L626.0,1776.4L628.5,1775.9L631.0,1775.5L633.5,1775.1L636.0,1774.7L638.4,1774.3L640.9,1774.0L643.4,1773.6L645.9,1773.2L648.4,1772.9L650.9,1772.5L653.4,1772.2L655.9,1771.8L658.4,1771.5L660.9,1771.2L663.4,1770.9L665.9,1770.6L668.4,1770.3L670.9,1770.0L673.4,1769.7L675.9,1769.4L678.4,1769.2L680.9,1768.9L683.4,1768.6L685.9,1768.4L688.4,1768.2L690.9,1767.9L693.4,1767.7L695.9,1767.5L698.5,1767.2L701.0,1767.0L703.5,1766.8L706.0,1766.6L708.5,1766.5L711.0,1766.3L713.5,1766.1L716.0,1765.9L718.5,1765.8L721.1,1765.6L723.6,1765.4L726.1,1765.3L728.6,1765.2L731.1,1765.0L733.6,1764.9L736.1,1764.8L738.7,1764.7L741.2,1764.6L743.7,1764.5L746.2,1764.4L748.7,1764.3L751.3,1764.2L753.8,1764.1L756.3,1764.0L758.8,1763.9L761.3,1763.9L763.9,1763.8L766.4,1763.8L768.9,1763.7L771.4,1763.7L773.9,1763.6L776.5,1763.6L779.0,1763.6L781.5,1763.6L784.0,1763.5L786.5,1763.5L789.1,1763.5L791.6,1763.5L794.1,1763.5L796.6,1763.5L799.2,1763.5L801.7,1763.6L804.2,1763.6L806.7,1763.6L809.2,1763.6L811.8,1763.7L814.3,1763.7L816.8,1763.7L819.3,1763.8L821.9,1763.9L824.4,1763.9L826.9,1764.0L829.4,1764.0L832.0,1764.1L834.5,1764.2L837.0,1764.3L839.5,1764.3L842.0,1764.4L844.6,1764.5L847.1,1764.6L849.6,1764.7L852.1,1764.8L854.7,1764.9L857.2,1765.0L859.7,1765.1L862.2,1765.3L864.7,1765.4L867.3,1765.5L869.8,1765.6L872.3,1765.8L874.8,1765.9L877.3,1766.0L879.9,1766.2L882.4,1766.3L884.9,1766.5L887.4,1766.6L889.9,1766.8L892.5,1766.9L895.0,1767.1L897.5,1767.2L900.0,1767.4L902.5,1767.6L905.0,1767.8L907.6,1767.9L910.1,1768.1L912.6,1768.3L915.1,1768.5L917.6,1768.7L920.1,1768.8L922.7,1769.0L925.2,1769.2L927.7,1769.4L930.2,1769.6L932.7,1769.8L935.2,1770.0L937.7,1770.2L940.2,1770.4L942.7,1770.6L945.3,1770.8L947.8,1771.0L950.3,1771.3L952.8,1771.5L955.3,1771.7L957.8,1771.9L960.3,1772.1L962.8,1772.3L965.3,1772.5L967.8,1772.8L970.4,1773.0L972.9,1773.2L975.4,1773.4L977.9,1773.6L980.4,1773.9L982.9,1774.1L985.4,1774.3L987.9,1774.5L990.4,1774.8L992.9,1775.0L995.4,1775.2L997.9,1775.4L1000.5,1775.7L1003.0,1775.9L1005.5,1776.1L1008.0,1776.3L1010.5,1776.6L1013.0,1776.8L1015.5,1777.0L1018.0,1777.2L1020.5,1777.5L1023.0,1777.7L1025.5,1777.9L1028.0,1778.1L1030.5,1778.4L1033.1,1778.6L1035.6,1778.8L1038.1,1779.0L1040.6,1779.2L1043.1,1779.4L1045.6,1779.7L1048.1,1779.9L1050.6,1780.1L1053.1,1780.3L1055.6,1780.5L1058.1,1780.7L1060.7,1780.9L1063.2,1781.1L1065.7,1781.3L1068.2,1781.5L1070.7,1781.7L1073.2,1781.9L1075.7,1782.1L1078.2,1782.3L1080.7,1782.5L1083.2,1782.7L1085.8,1782.9L1088.3,1783.1L1090.8,1783.3L1093.3,1783.4L1095.8,1783.6L1098.3,1783.8L1100.8,1784.0L1103.3,1784.2L1105.9,1784.4L1108.4,1784.5L1110.9,1784.7L1113.4,1784.9L1115.9,1785.0L1118.4,1785.2L1120.9,1785.4L1123.5,1785.6L1126.0,1785.7L1128.5,1785.9L1131.0,1786.0L1133.5,1786.2L1136.0,1786.4L1138.6,1786.5L1141.1,1786.7L1143.6,1786.8L1146.1,1787.0L1148.6,1787.1L1151.1,1787.3L1153.7,1787.4L1156.2,1787.6L1158.0,1787.7"/>
<path d="M603.5,1794.5L606.6,1794.5L609.6,1794.5L612.7,1794.5L615.7,1794.5L618.8,1794.5L621.8,1794.5L624.9,1794.5L627.9,1794.5L631.0,1794.5L634.0,1794.5L637.1,1794.5L640.1,1794.5L643.2,1794.5L646.2,1794.5L649.3,1794.5L652.3,1794.5L655.4,1794.5L658.4,1794.5L661.5,1794.5L664.5,1794.5L667.6,1794.5L670.6,1794.5L673.7,1794.5L676.7,1794.5L679.8,1794.5L682.8,1794.5L685.9,1794.5L688.9,1794.5L692.0,1794.5L693.9,1794.5"/>
<path d="M603.5,1806.2L606.0,1806.8L608.5,1807.2L611.0,1807.7L613.5,1808.2L616.0,1808.7L618.4,1809.2L620.9,1809.6L623.4,1810.1L625.9,1810.6L628.4,1811.0L630.9,1811.5L633.4,1811.9L635.9,1812.3L638.4,1812.8L640.9,1813.2L643.4,1813.6L645.9,1814.0L648.4,1814.4L650.9,1814.8L653.4,1815.2L655.9,1815.6L658.4,1816.0L661.0,1816.4L663.5,1816.8L666.0,1817.2L668.5,1817.5L671.0,1817.9L673.5,1818.3L676.0,1818.6L678.5,1819.0L681.0,1819.3L683.5,1819.7L686.1,1820.0L688.6,1820.3L691.1,1820.7L693.6,1821.0L696.1,1821.3L698.6,1821.6L701.1,1821.9L703.7,1822.2L706.2,1822.6L708.7,1822.9L711.2,1823.2L713.7,1823.4L716.2,1823.7L718.8,1824.0L721.3,1824.3L723.8,1824.6L726.3,1824.9L728.9,1825.1L731.4,1825.4L733.9,1825.7L736.4,1825.9L738.9,1826.2L741.5,1826.4L744.0,1826.7L746.5,1826.9L749.0,1827.2L751.6,1827.4L754.1,1827.7L756.6,1827.9L759.1,1828.1L761.7,1828.4L764.2,1828.6L766.7,1828.8L769.3,1829.1L771.8,1829.3L774.3,1829.5L776.8,1829.7L779.4,1829.9L781.9,1830.1L784.4,1830.3L787.0,1830.5L789.5,1830.7L792.0,1830.9L794.5,1831.1L797.1,1831.3L799.6,1831.5L802.1,1831.7L804.7,1831.9L807.2,1832.1L809.7,1832.3L812.3,1832.5L814.8,1832.7L817.3,1832.8L819.9,1833.0L822.4,1833.2L824.9,1833.4L827.5,1833.5L830.0,1833.7L832.5,1833.9L835.1,1834.1L837.6,1834.2L840.1,1834.4L842.7,1834.6L845.2,1834.7L847.7,1834.9L850.2,1835.1L852.8,1835.2L855.3,1835.4L857.8,1835.5L860.4,1835.7L862.9,1835.9L865.4,1836.0L868.0,1836.2L870.5,1836.3L873.0,1836.5L875.6,1836.6L878.1,1836.8L880.6,1836.9L883.2,1837.1L885.7,1837.3L888.2,1837.4L890.8,1837.6L893.3,1837.7L895.8,1837.9L898.4,1838.0L900.9,1838.2L903.4,1838.3L906.0,1838.5L908.5,1838.6L911.0,1838.8L913.5,1838.9L916.1,1839.1L917.9,1839.2"/>
<path d="M603.5,1807.0L606.2,1807.4L608.9,1807.9L611.5,1808.5L613.9,1809.2L616.4,1810.1L618.7,1811.1L621.0,1812.2L623.2,1813.3L625.3,1814.6L627.4,1816.0L629.5,1817.4L631.5,1818.9L633.5,1820.5L635.4,1822.1L637.3,1823.8L639.2,1825.5L641.0,1827.3L642.9,1829.0L644.7,1830.9L646.5,1832.7L648.3,1834.6L650.1,1836.4L651.9,1838.3L653.7,1840.1L655.5,1842.0L657.3,1843.8L659.2,1845.6L661.0,1847.4L662.9,1849.1L664.8,1850.8L666.7,1852.5L668.6,1854.2L670.6,1855.8L672.6,1857.5L674.6,1859.0L676.6,1860.6L678.7,1862.0L680.8,1863.5L682.9,1864.9L685.0,1866.3L687.2,1867.6L689.4,1868.9L691.6,1870.1L693.9,1871.3L696.2,1872.4L698.5,1873.5L700.9,1874.5L703.3,1875.5L705.7,1876.4L708.2,1877.2L708.3,1877.3"/>
<path d="M603.5,1807.5L606.4,1807.8L609.2,1808.2L611.9,1808.8L614.5,1809.5L617.0,1810.3L619.4,1811.3L621.7,1812.3L623.9,1813.5L626.1,1814.8L628.1,1816.1L630.0,1817.6L631.9,1819.2L633.6,1820.9L635.2,1822.7L636.8,1824.5L638.2,1826.5L639.5,1828.5L640.7,1830.6L641.8,1832.8L642.8,1835.0L643.7,1837.3L644.5,1839.6L645.2,1842.0L645.9,1844.5L646.4,1847.0L647.0,1849.5L647.5,1852.1L647.9,1854.6L648.3,1857.2L648.8,1859.8L649.2,1862.4L649.6,1865.0L650.0,1867.6L650.4,1870.2L650.9,1872.8L651.4,1875.3L652.0,1877.8L652.6,1880.3L653.2,1882.7L654.0,1885.1L654.8,1887.5L655.8,1889.8L656.8,1892.0L657.9,1894.1L659.1,1896.3L660.4,1898.3L661.7,1900.3L663.1,1902.3L664.6,1904.2L666.2,1906.0L667.8,1907.8L669.5,1909.6L671.2,1911.3L673.0,1913.0L674.8,1914.6L676.7,1916.2L678.5,1917.8L680.5,1919.3L682.4,1920.8L684.4,1922.2L686.4,1923.7L688.4,1925.0L690.5,1926.4L692.6,1927.7L694.7,1929.0L696.8,1930.2L699.0,1931.4L701.2,1932.6L703.4,1933.8L705.6,1934.9L707.8,1936.0L710.1,1937.1L712.4,1938.1L714.7,1939.1L717.0,1940.1L719.4,1941.1L721.7,1942.0L724.1,1942.9L726.5,1943.8L728.9,1944.6L731.3,1945.5L733.8,1946.3L736.2,1947.1L738.7,1947.8L741.1,1948.6L743.6,1949.3L746.1,1950.0L748.6,1950.7L751.1,1951.3L753.6,1952.0L756.1,1952.6L758.6,1953.2L761.1,1953.8L763.6,1954.4L766.1,1954.9L768.7,1955.5L771.2,1956.0L773.7,1956.5L776.2,1957.0L778.7,1957.5L781.3,1957.9L783.8,1958.4L786.3,1958.8L788.8,1959.3L791.4,1959.7L793.9,1960.1L796.4,1960.5L798.9,1960.8L801.4,1961.2L804.0,1961.5L806.5,1961.9L809.0,1962.2L811.5,1962.5L814.0,1962.8L816.5,1963.1L819.1,1963.3L821.6,1963.6L824.1,1963.8L826.6,1964.0L829.1,1964.3L831.6,1964.5L834.1,1964.6L836.7,1964.8L839.2,1965.0L841.7,1965.1L844.2,1965.3L846.7,1965.4L849.2,1965.5L851.7,1965.6L854.2,1965.7L856.7,1965.8L859.3,1965.9L861.8,1965.9L864.3,1966.0L866.8,1966.0L869.3,1966.0L871.8,1966.0L874.3,1966.0L876.8,1966.0L879.3,1966.0L881.8,1966.0L884.3,1965.9L886.8,1965.9L889.3,1965.8L891.8,1965.7L894.3,1965.7L896.8,1965.6L899.3,1965.5L901.8,1965.3L904.3,1965.2L906.8,1965.1L909.3,1964.9L911.8,1964.8L914.3,1964.6L916.8,1964.4L919.3,1964.2L921.8,1964.0L924.3,1963.8L926.8,1963.6L929.3,1963.4L931.7,1963.1L934.2,1962.9L936.7,1962.6L939.2,1962.4L941.7,1962.1L944.2,1961.8L946.7,1961.5L949.2,1961.2L951.6,1960.9L954.1,1960.6L956.6,1960.3L959.1,1960.0L961.6,1959.6L964.1,1959.3L966.5,1958.9L969.0,1958.5L971.5,1958.2L974.0,1957.8L976.4,1957.4L978.9,1957.0L981.4,1956.6L983.9,1956.2L986.3,1955.7L988.8,1955.3L991.3,1954.9L993.8,1954.4L996.2,1954.0L998.7,1953.5L1001.2,1953.0L1003.6,1952.6L1006.1,1952.1L1008.6,1951.6L1011.0,1951.1L1013.5,1950.6L1016.0,1950.1L1018.4,1949.6L1020.9,1949.0L1023.3,1948.5L1025.8,1948.0L1028.3,1947.4L1030.7,1946.9L1033.2,1946.3L1035.6,1945.8L1038.1,1945.2L1040.5,1944.6L1043.0,1944.1L1045.4,1943.5L1047.9,1942.9L1050.3,1942.3L1052.8,1941.7L1055.2,1941.1L1057.7,1940.5L1060.1,1939.9L1062.6,1939.2L1065.0,1938.6L1067.4,1938.0L1069.9,1937.3L1072.3,1936.7L1074.8,1936.0L1077.2,1935.4L1079.6,1934.7L1082.1,1934.1L1084.5,1933.4L1086.9,1932.7L1089.4,1932.1L1091.8,1931.4L1094.2,1930.7L1096.7,1930.0L1099.1,1929.3L1101.5,1928.6L1103.9,1927.9L1106.4,1927.2L1108.8,1926.5L1111.2,1925.8L1113.6,1925.1L1116.0,1924.4L1118.5,1923.6L1120.9,1922.9L1123.3,1922.2L1125.7,1921.4L1128.1,1920.7L1130.5,1920.0L1133.0,1919.2L1135.4,1918.5L1137.8,1917.7L1140.2,1917.0L1142.6,1916.2L1145.0,1915.5L1147.4,1914.7L1149.8,1914.0L1152.2,1913.2L1154.6,1912.4L1157.0,1911.7L1159.4,1910.9L1161.1,1910.4"/>
<path d="M1060.0,1831.2L1062.5,1830.7L1065.1,1830.1L1067.6,1829.5L1070.2,1829.0L1072.7,1828.4L1075.2,1827.8L1077.8,1827.2L1080.3,1826.6L1082.9,1826.0L1085.4,1825.4L1087.9,1824.8L1090.5,1824.2L1093.0,1823.6L1095.5,1823.0L1098.1,1822.4L1100.6,1821.8L1103.1,1821.2L1105.7,1820.6L1108.2,1820.0L1110.7,1819.4L1113.3,1818.7L1115.8,1818.1L1118.3,1817.5L1120.9,1816.9L1123.4,1816.2L1125.9,1815.6L1128.4,1815.0L1131.0,1814.3L1133.5,1813.7L1136.0,1813.0L1138.5,1812.4L1141.1,1811.7L1143.6,1811.1L1146.1,1810.4L1148.6,1809.8L1151.2,1809.1L1153.7,1808.4L1156.2,1807.8L1158.4,1807.2"/>
<path d="M1066.3,1856.5L1068.7,1857.3L1071.2,1858.1L1073.7,1858.9L1076.3,1859.7L1078.8,1860.4L1081.3,1861.2L1083.8,1861.9L1086.3,1862.7L1088.8,1863.4L1091.3,1864.2L1093.8,1864.9L1096.4,1865.6L1098.9,1866.3L1101.4,1867.0L1103.9,1867.7L1106.5,1868.4L1109.0,1869.1L1111.5,1869.7L1114.1,1870.4L1116.6,1871.1L1119.1,1871.7L1121.7,1872.3L1124.2,1873.0L1126.8,1873.6L1129.3,1874.2L1131.9,1874.8L1134.4,1875.4L1137.0,1876.0L1139.5,1876.6L1142.1,1877.2L1144.6,1877.8L1147.2,1878.3L1149.8,1878.9L1152.1,1879.4"/>
<path d="M830.0,1880.0L832.9,1879.4L835.9,1878.8L838.8,1878.2L841.8,1877.6L844.7,1877.0L847.7,1876.3L850.6,1875.7L853.6,1875.1L856.5,1874.5L859.5,1873.9L862.4,1873.3L865.4,1872.7L868.3,1872.1L871.3,1871.5L874.2,1870.9L877.2,1870.3L880.1,1869.6L883.1,1869.0L886.0,1868.4L889.0,1867.8L891.9,1867.2L894.9,1866.6L897.8,1866.0L900.8,1865.4L903.7,1864.8L906.7,1864.2L909.6,1863.6L912.6,1862.9L915.5,1862.3L918.5,1861.7L921.4,1861.1L924.4,1860.5L927.3,1859.9L930.3,1859.3L931.9,1858.9"/>
<path d="M844.5,1892.0L847.5,1892.0L850.6,1892.0L853.6,1892.0L856.6,1892.0L859.6,1892.0L862.7,1892.0L865.7,1892.0L868.7,1892.0L871.7,1892.0L874.8,1892.0L877.8,1892.0L880.8,1892.0L883.8,1892.0L886.9,1892.0L889.9,1892.0L892.9,1892.0L895.9,1892.0L899.0,1892.0L902.0,1892.0L905.0,1892.0L908.0,1892.0L911.1,1892.0L914.1,1892.0L917.1,1892.0L920.1,1892.0L923.2,1892.0L926.2,1892.0L929.2,1892.0L932.2,1892.0L935.3,1892.0L938.3,1892.0L941.3,1892.0L944.3,1892.0L947.4,1892.0L950.4,1892.0L953.4,1892.0L956.4,1892.0L959.5,1892.0L962.5,1892.0L965.5,1892.0L968.5,1892.0L971.6,1892.0L974.6,1892.0L977.6,1892.0L980.6,1892.0L983.7,1892.0L986.7,1892.0L989.7,1892.0L992.7,1892.0L995.8,1892.0L998.8,1892.0L1001.8,1892.0L1004.9,1892.0L1007.9,1892.0L1010.9,1892.0L1013.9,1892.0L1017.0,1892.0L1020.0,1892.0L1023.0,1892.0L1026.0,1892.0L1029.1,1892.0L1032.1,1892.0L1035.1,1892.0L1038.1,1892.0L1041.2,1892.0L1044.2,1892.0L1047.2,1892.0L1050.2,1892.0L1053.3,1892.0L1056.3,1892.0L1059.3,1892.0L1062.3,1892.0L1065.4,1892.0L1068.4,1892.0L1071.4,1892.0L1074.4,1892.0L1077.5,1892.0L1080.5,1892.0L1083.5,1892.0L1086.5,1892.0L1089.6,1892.0L1092.6,1892.0L1095.6,1892.0L1098.6,1892.0L1101.7,1892.0L1104.7,1892.0L1107.7,1892.0L1110.7,1892.0L1113.8,1892.0L1116.8,1892.0L1119.8,1892.0L1122.8,1892.0L1125.9,1892.0L1128.9,1892.0L1131.9,1892.0L1134.9,1892.0L1138.0,1892.0L1141.0,1892.0L1144.0,1892.0L1147.0,1892.0L1150.1,1892.0L1151.9,1892.0"/>
<path d="M772.5,715.5L772.7,713.0L772.8,710.4L773.0,707.9L773.2,705.4L773.4,702.9L773.6,700.3L773.9,697.8L774.1,695.3L774.3,692.8L774.6,690.2L774.8,687.7L775.1,685.2L775.4,682.7L775.6,680.2L775.9,677.7L776.2,675.2L776.5,672.7L776.9,670.2L777.2,667.6L777.5,665.1L777.9,662.6L778.2,660.1L778.6,657.7L778.9,655.2L779.3,652.7L779.7,650.2L780.1,647.7L780.5,645.2L780.9,642.7L781.3,640.2L781.8,637.7L782.2,635.3L782.6,632.8L783.1,630.3L783.6,627.8L784.0,625.4L784.5,622.9L785.0,620.4L785.5,618.0L786.0,615.5L786.5,613.0L787.1,610.6L787.6,608.1L788.1,605.7L788.7,603.2L789.2,600.8L789.8,598.3L790.4,595.9L791.0,593.4L791.6,591.0L792.2,588.5L792.8,586.1L793.4,583.7L794.0,581.2L794.7,578.8L795.3,576.4L796.0,574.0L796.6,571.5L797.3,569.1L798.0,566.7L798.7,564.3L799.3,561.9L800.1,559.5L800.8,557.1L801.5,554.6L802.2,552.2L803.0,549.8L803.7,547.4L804.5,545.0L805.2,542.7L806.0,540.3L806.8,537.9L807.6,535.5L808.4,533.1L809.2,530.7L810.0,528.3L810.8,526.0L811.6,523.6L812.5,521.2L813.3,518.9L814.2,516.5L815.1,514.1L815.9,511.8L816.8,509.4L817.7,507.1L818.6,504.7L819.5,502.4L820.4,500.0L821.4,497.7L822.3,495.4L823.2,493.0L824.2,490.7L825.1,488.4L826.1,486.0L827.1,483.7L828.1,481.4L829.1,479.1L830.1,476.8L831.1,474.4L832.1,472.1L833.1,469.8L834.1,467.5L835.2,465.2L836.2,462.9L837.3,460.6L838.4,458.3L839.4,456.1L840.5,453.8L841.6,451.5L842.7,449.2L843.8,446.9L844.9,444.7L846.1,442.4L847.2,440.1L848.3,437.9L849.5,435.6L850.7,433.4L851.8,431.1L853.0,428.9L854.2,426.7L855.4,424.5L856.6,422.2L857.9,420.0L859.1,417.8L860.4,415.6L861.7,413.5L862.9,411.3L864.2,409.1L865.6,407.0L866.9,404.8L868.2,402.7L869.6,400.6L870.9,398.5L872.3,396.3L873.7,394.3L875.2,392.2L876.6,390.1L878.0,388.1L879.5,386.0L881.0,384.0L882.5,382.0L884.0,380.0L885.6,378.0L887.1,376.0L888.7,374.1L890.3,372.1L891.9,370.2L893.5,368.3L895.2,366.4L896.9,364.5L898.6,362.7L900.3,360.8L902.0,359.0L903.8,357.2L905.5,355.4L907.4,353.6L909.2,351.9L911.0,350.2L912.9,348.5L914.8,346.8L916.7,345.2L918.6,343.6L920.6,342.0L922.6,340.5L924.6,339.0L926.6,337.5L928.7,336.1L930.8,334.7L932.9,333.4L935.0,332.1L937.2,330.9L939.4,329.7L941.6,328.5L943.9,327.4L946.1,326.4L948.4,325.4L950.7,324.4L953.1,323.5L955.5,322.7L957.9,321.9L960.3,321.2L962.4,320.7"/>
<path d="M773.8,715.5L774.1,713.0L774.5,710.6L774.8,708.1L775.1,705.6L775.5,703.2L775.8,700.7L776.1,698.2L776.5,695.7L776.8,693.2L777.1,690.8L777.4,688.3L777.8,685.8L778.1,683.3L778.4,680.8L778.8,678.3L779.1,675.8L779.4,673.3L779.8,670.8L780.1,668.3L780.5,665.8L780.8,663.3L781.2,660.8L781.5,658.3L781.9,655.8L782.2,653.3L782.6,650.8L783.0,648.3L783.4,645.8L783.8,643.3L784.2,640.8L784.6,638.3L785.0,635.8L785.4,633.3L785.8,630.9L786.3,628.4L786.7,625.9L787.2,623.4L787.7,620.9L788.1,618.4L788.6,616.0L789.1,613.5L789.6,611.0L790.2,608.6L790.7,606.1L791.2,603.6L791.8,601.2L792.4,598.7L792.9,596.3L793.5,593.8L794.2,591.4L794.8,589.0L795.4,586.5L796.1,584.1L796.7,581.7L797.4,579.3L798.1,576.9L798.9,574.5L799.6,572.1L800.3,569.7L801.1,567.3L801.9,564.9L802.7,562.5L803.5,560.2L804.4,557.8L805.2,555.5L806.1,553.1L807.0,550.8L807.9,548.5L808.9,546.1L809.8,543.8L810.8,541.5L811.7,539.2L812.7,536.9L813.7,534.6L814.8,532.3L815.8,530.0L816.8,527.7L817.9,525.4L819.0,523.2L820.1,520.9L821.2,518.6L822.3,516.4L823.4,514.1L824.5,511.9L825.6,509.6L826.8,507.4L828.0,505.1L829.1,502.9L830.3,500.7L831.5,498.5L832.7,496.2L833.8,494.0L835.0,491.8L836.3,489.6L837.5,487.4L838.7,485.2L839.9,483.0L841.2,480.8L842.4,478.6L843.7,476.4L844.9,474.2L846.2,472.1L847.5,469.9L848.8,467.7L850.1,465.6L851.5,463.5L852.8,461.4L854.2,459.3L855.6,457.2L857.0,455.1L858.4,453.0L859.8,450.9L861.3,448.9L862.7,446.9L864.2,444.8L865.7,442.8L867.2,440.8L868.8,438.9L870.3,436.9L871.9,435.0L873.5,433.1L875.2,431.2L876.8,429.3L878.5,427.4L880.2,425.6L881.9,423.7L883.7,421.9L885.5,420.1L887.3,418.4L889.1,416.6L891.0,414.9L892.9,413.2L894.8,411.6L896.7,409.9L898.6,408.3L900.6,406.7L902.6,405.1L904.6,403.6L906.7,402.1L908.7,400.6L910.8,399.1L912.9,397.7L915.0,396.2L917.1,394.9L919.3,393.5L921.4,392.2L923.6,390.9L925.8,389.6L928.0,388.4L930.3,387.2L932.5,386.0L934.8,384.9L937.1,383.8L939.3,382.7L941.7,381.7L944.0,380.7L946.3,379.7L948.6,378.7L951.0,377.8L953.4,377.0L955.7,376.2L958.1,375.4L960.5,374.6L962.9,373.9L965.4,373.2L967.8,372.6L970.2,372.0L972.7,371.4L975.1,370.8L977.6,370.3L980.0,369.9L982.5,369.5L985.0,369.1L987.5,368.7L989.9,368.4L992.4,368.1L994.9,367.9L997.4,367.7L999.9,367.5L1002.4,367.4L1004.9,367.3L1007.4,367.2L1009.9,367.2L1012.4,367.2L1014.9,367.3L1017.4,367.4L1019.9,367.5L1022.4,367.7L1024.9,367.9L1027.4,368.1L1029.9,368.4L1032.3,368.7L1034.8,369.1L1037.3,369.5L1039.8,369.9L1042.2,370.4L1044.7,370.9L1047.1,371.4L1049.6,372.0L1052.0,372.6L1054.5,373.3L1056.9,373.9L1059.3,374.6L1061.7,375.4L1064.1,376.2L1066.5,377.0L1068.9,377.8L1071.3,378.7L1073.6,379.5L1076.0,380.5L1078.3,381.4L1080.7,382.4L1083.0,383.3L1085.4,384.4L1087.7,385.4L1090.0,386.4L1092.3,387.5L1094.6,388.6L1096.9,389.7L1099.1,390.8L1101.4,392.0L1103.6,393.1L1105.9,394.3L1108.1,395.5L1110.3,396.7L1112.6,397.9L1114.8,399.1L1116.9,400.4L1119.1,401.6L1121.3,402.9L1123.4,404.2L1125.6,405.5L1127.7,406.8L1129.8,408.1L1131.9,409.5L1134.0,410.9L1136.1,412.3L1138.2,413.7L1140.3,415.1L1142.3,416.5L1144.3,418.0L1146.3,419.4L1148.4,420.9L1150.3,422.4L1152.3,423.9L1154.3,425.5L1156.2,427.0L1158.2,428.6L1160.1,430.2L1162.0,431.8L1163.9,433.4L1165.8,435.1L1167.6,436.8L1169.5,438.4L1171.3,440.1L1173.1,441.9L1174.9,443.6L1176.7,445.4L1178.5,447.1L1180.2,448.9L1181.9,450.7L1183.7,452.6L1185.4,454.4L1187.0,456.3L1188.7,458.2L1190.4,460.1L1192.0,462.1L1193.2,463.6"/>
<path d="M777.1,715.4L777.9,713.1L778.7,710.7L779.4,708.3L780.1,706.0L780.8,703.6L781.5,701.2L782.1,698.8L782.7,696.3L783.3,693.9L783.9,691.5L784.4,689.0L784.9,686.6L785.4,684.1L785.9,681.6L786.4,679.1L786.9,676.7L787.3,674.2L787.8,671.7L788.2,669.2L788.6,666.7L789.0,664.2L789.4,661.7L789.8,659.2L790.2,656.7L790.6,654.2L791.1,651.6L791.5,649.1L791.9,646.6L792.3,644.1L792.7,641.6L793.1,639.1L793.6,636.6L794.0,634.2L794.5,631.7L794.9,629.2L795.4,626.7L795.9,624.3L796.4,621.8L797.0,619.4L797.5,616.9L798.1,614.5L798.7,612.1L799.3,609.7L799.9,607.3L800.6,604.9L801.3,602.5L802.1,600.1L802.8,597.8L803.6,595.4L804.4,593.1L805.3,590.8L806.2,588.5L807.1,586.2L808.1,584.0L809.1,581.7L810.2,579.5L811.3,577.3L812.4,575.1L813.6,572.9L814.8,570.8L816.1,568.6L817.3,566.5L818.7,564.4L820.0,562.3L821.4,560.2L822.8,558.1L824.2,556.0L825.6,553.9L827.0,551.9L828.5,549.8L829.9,547.7L831.4,545.7L832.9,543.6L834.4,541.6L835.8,539.5L837.3,537.5L838.8,535.4L840.3,533.3L841.7,531.3L843.2,529.2L844.6,527.1L846.0,525.1L847.5,523.0L848.9,520.9L850.3,518.8L851.8,516.7L853.2,514.7L854.6,512.6L856.0,510.5L857.4,508.4L858.8,506.3L860.2,504.3L861.7,502.2L863.1,500.1L864.5,498.0L865.9,496.0L867.3,493.9L868.8,491.8L870.2,489.8L871.6,487.7L873.1,485.7L874.5,483.6L876.0,481.6L877.4,479.6L878.9,477.6L880.4,475.6L881.9,473.6L883.4,471.6L885.0,469.6L886.5,467.7L888.1,465.7L889.7,463.8L891.3,461.9L892.9,460.0L894.5,458.2L896.2,456.3L897.9,454.5L899.6,452.7L901.4,450.9L903.2,449.2L905.0,447.5L906.8,445.8L908.7,444.1L910.6,442.4L912.5,440.8L914.4,439.2L916.4,437.7L918.4,436.1L920.4,434.6L922.4,433.1L924.5,431.7L926.6,430.3L928.7,428.9L930.8,427.5L932.9,426.2L935.1,424.9L937.3,423.6L939.5,422.4L941.7,421.2L943.9,420.1L946.2,418.9L948.5,417.9L950.8,416.8L953.1,415.8L955.4,414.8L957.7,413.9L960.1,413.0L962.4,412.1L964.8,411.3L967.2,410.5L969.6,409.7L972.0,409.0L974.4,408.4L976.8,407.7L979.3,407.2L981.7,406.6L984.2,406.1L986.7,405.7L989.1,405.3L991.6,404.9L994.1,404.6L996.6,404.3L999.1,404.1L1001.6,403.9L1004.1,403.8L1006.6,403.7L1009.1,403.6L1011.7,403.6L1014.2,403.7L1016.7,403.8L1019.2,403.9L1021.7,404.1L1024.2,404.3L1026.7,404.6L1029.3,404.9L1031.8,405.3L1034.3,405.7L1036.7,406.1L1039.2,406.6L1041.7,407.2L1044.2,407.7L1046.6,408.4L1049.1,409.0L1051.5,409.7L1053.9,410.5L1056.4,411.3L1058.8,412.1L1061.1,413.0L1063.5,413.9L1065.9,414.9L1068.2,415.9L1070.5,417.0L1072.8,418.1L1075.1,419.2L1077.4,420.4L1079.6,421.6L1081.9,422.9L1084.1,424.2L1086.2,425.5L1088.4,426.9L1090.5,428.3L1092.6,429.8L1094.6,431.3L1096.6,432.8L1098.6,434.4L1100.5,436.0L1102.3,437.7L1104.1,439.4L1105.9,441.1L1107.5,442.9L1109.2,444.7L1110.7,446.5L1112.2,448.4L1113.7,450.3L1115.1,452.3L1116.4,454.3L1117.7,456.3L1118.9,458.4L1120.1,460.4L1121.2,462.6L1122.3,464.7L1123.3,466.9L1124.3,469.1L1125.3,471.3L1126.2,473.5L1127.1,475.8L1127.9,478.1L1128.7,480.4L1129.5,482.7L1130.2,485.1L1130.9,487.4L1131.6,489.8L1132.2,492.2L1132.9,494.6L1133.4,497.1L1134.0,499.5L1134.6,502.0L1135.1,504.5L1135.6,506.9L1136.1,509.4L1136.5,511.9L1137.0,514.4L1137.4,517.0L1137.9,519.5L1138.3,522.0L1138.7,524.5L1139.1,527.1L1139.5,529.6L1139.9,532.2L1140.3,534.7L1140.7,537.2L1141.1,539.8L1141.5,542.3L1141.9,544.8L1142.3,547.4L1142.7,549.9L1143.1,552.4L1143.5,554.9L1143.9,557.5L1144.3,560.0L1144.7,562.5L1145.1,565.0L1145.5,567.5L1145.9,570.0L1146.3,572.5L1146.8,575.0L1147.2,577.6L1147.6,580.1L1148.0,582.6L1148.4,585.1L1148.8,587.5L1149.3,590.0L1149.7,592.5L1150.1,595.0L1150.5,597.5L1151.0,600.0L1151.4,602.5L1151.8,605.0L1152.2,607.4L1152.7,609.9L1153.1,612.4L1153.5,614.9L1153.9,617.4L1154.4,619.8L1154.8,622.3L1155.2,624.8L1155.6,627.3L1156.1,629.7L1156.5,632.2L1156.9,634.7L1157.4,637.1L1157.8,639.6L1158.2,642.1L1158.6,644.5L1159.1,647.0L1159.5,649.4L1159.9,651.9L1160.3,654.4L1160.8,656.8L1161.2,659.3L1161.6,661.7L1162.0,664.2L1162.4,666.6L1162.9,669.1L1163.3,671.6L1163.7,674.0L1164.1,676.5L1164.5,678.9L1164.9,681.4L1165.3,683.8L1165.8,686.3L1166.2,688.7L1166.6,691.2L1167.0,693.6L1167.4,696.1L1167.8,698.5L1168.2,701.0L1168.6,703.4L1169.0,705.9L1169.4,708.3L1169.8,710.8L1170.2,713.2L1170.6,715.7L1170.9,718.2L1171.3,720.6L1171.7,723.1L1172.1,725.5L1172.5,728.0L1172.8,730.4L1173.2,732.9L1173.6,735.3L1174.0,737.8L1174.3,740.2L1174.7,742.7L1175.1,745.2L1175.4,747.6L1175.8,750.1L1176.1,752.5L1176.5,755.0L1176.8,757.4L1177.2,759.9L1177.5,762.4L1177.8,764.8L1178.2,767.3L1178.5,769.8L1178.8,772.2L1179.1,774.7L1179.5,777.2L1179.8,779.6L1180.1,782.1L1180.4,784.6L1180.7,787.0L1181.0,789.5L1181.3,792.0L1181.6,794.5L1181.9,797.0L1182.2,799.4L1182.5,801.9L1182.7,804.4L1183.0,806.9L1183.3,809.4L1183.6,811.9L1183.8,814.3L1184.1,816.8L1184.4,819.3L1184.6,821.8L1184.9,824.3L1185.1,826.8L1185.4,829.3L1185.6,831.8L1185.9,834.3L1186.1,836.8L1186.3,839.3L1186.6,841.8L1186.8,844.3L1187.0,846.8L1187.2,849.3L1187.5,851.8L1187.7,854.3L1187.9,856.8L1188.1,859.3L1188.3,861.8L1188.6,864.3L1188.8,866.8L1189.0,869.3L1189.2,871.8L1189.4,874.3L1189.6,876.8L1189.8,879.3L1190.0,881.8L1190.2,884.3L1190.4,886.9L1190.6,889.4L1190.8,891.9L1191.0,894.4L1191.2,896.9L1191.4,899.4L1191.6,901.9L1191.7,904.4L1191.9,906.9L1192.1,909.5L1192.3,912.0L1192.5,914.5L1192.7,917.0L1192.9,919.5L1193.0,922.0L1193.2,924.5L1193.4,927.1L1193.6,929.6L1193.8,932.1L1194.0,934.6L1194.1,937.1L1194.3,939.6L1194.5,942.1L1194.7,944.6L1194.9,947.2L1195.0,949.7L1195.2,952.2L1195.4,954.7L1195.6,957.2L1195.8,959.7L1195.9,962.2L1196.1,964.7L1196.3,967.2L1196.5,969.8L1196.7,972.3L1196.8,974.8L1197.0,977.3L1197.2,979.8L1197.4,982.3L1197.6,984.8L1197.8,987.3L1198.0,989.8L1198.2,992.3L1198.3,994.8L1198.5,997.3L1198.7,999.8L1198.9,1002.3L1199.1,1004.8L1199.3,1007.3L1199.5,1009.8L1199.7,1012.3L1199.9,1014.8L1200.1,1017.3L1200.3,1019.8L1200.5,1022.3L1200.7,1024.8L1200.9,1027.3L1201.2,1029.8L1201.4,1032.3L1201.6,1034.8L1201.8,1037.3L1202.0,1039.8L1202.3,1042.3L1202.5,1044.8L1202.7,1047.2L1202.9,1049.7L1203.2,1052.2L1203.4,1054.7L1203.7,1057.2L1203.9,1059.7L1204.0,1061.2"/>
<path d="M779.3,715.4L780.3,713.1L781.3,710.7L782.2,708.4L783.2,706.0L784.1,703.7L785.0,701.3L785.9,698.9L786.8,696.6L787.7,694.2L788.6,691.8L789.4,689.4L790.3,687.1L791.1,684.7L792.0,682.3L792.8,679.9L793.7,677.5L794.5,675.1L795.4,672.7L796.2,670.4L797.1,668.0L797.9,665.6L798.8,663.2L799.6,660.8L800.5,658.5L801.3,656.1L802.2,653.7L803.1,651.4L803.9,649.0L804.8,646.7L805.7,644.3L806.6,642.0L807.6,639.6L808.5,637.3L809.5,635.0L810.4,632.7L811.4,630.4L812.4,628.1L813.4,625.8L814.4,623.6L815.5,621.3L816.6,619.1L817.7,616.8L818.8,614.6L819.9,612.4L821.1,610.2L822.2,608.0L823.5,605.8L824.7,603.6L825.9,601.5L827.2,599.4L828.5,597.2L829.8,595.1L831.1,593.0L832.5,590.9L833.8,588.8L835.2,586.7L836.6,584.6L838.0,582.5L839.4,580.4L840.9,578.4L842.3,576.3L843.7,574.2L845.2,572.2L846.7,570.1L848.1,568.1L849.6,566.0L851.1,563.9L852.6,561.9L854.1,559.8L855.6,557.8L857.0,555.7L858.5,553.7L860.0,551.6L861.6,549.6L863.1,547.5L864.6,545.5L866.1,543.4L867.6,541.4L869.2,539.3L870.7,537.3L872.3,535.3L873.8,533.2L875.4,531.2L876.9,529.2L878.5,527.2L880.1,525.2L881.7,523.2L883.3,521.3L884.9,519.3L886.5,517.3L888.2,515.4L889.8,513.4L891.5,511.5L893.1,509.6L894.8,507.7L896.5,505.8L898.2,503.9L899.9,502.1L901.7,500.3L903.4,498.5L905.2,496.7L907.0,494.9L908.8,493.2L910.6,491.5L912.5,489.9L914.4,488.3L916.3,486.7L918.2,485.1L920.2,483.6L922.2,482.2L924.2,480.7L926.2,479.4L928.3,478.0L930.4,476.7L932.6,475.5L934.8,474.3L937.0,473.2L939.2,472.1L941.5,471.1L943.8,470.2L946.2,469.3L948.4,468.5"/>
<path d="M785.0,715.4L786.3,713.4L787.6,711.5L788.8,709.5L790.1,707.4L791.3,705.4L792.5,703.3L793.7,701.2L794.9,699.0L796.1,696.9L797.2,694.7L798.4,692.5L799.5,690.3L800.6,688.1L801.7,685.8L802.8,683.6L803.9,681.3L805.0,679.0L806.1,676.7L807.2,674.4L808.3,672.1L809.4,669.8L810.5,667.5L811.6,665.1L812.6,662.8L813.7,660.4L814.8,658.1L815.9,655.7L817.0,653.4L818.1,651.0L819.2,648.7L820.3,646.3L821.4,644.0L822.5,641.6L823.7,639.3L824.8,637.0L826.0,634.7L827.2,632.3L828.3,630.0L829.5,627.7L830.7,625.5L832.0,623.2L833.2,620.9L834.5,618.7L835.8,616.5L837.1,614.3L838.4,612.1L839.7,609.9L841.1,607.7L842.5,605.6L843.9,603.5L845.3,601.4L846.8,599.4L848.3,597.3L849.8,595.3L851.3,593.3L852.9,591.4L854.5,589.5L856.1,587.6L857.8,585.7L859.5,583.9L861.2,582.1L863.0,580.3L864.8,578.6L866.6,576.9L868.5,575.3L870.4,573.6L872.3,572.0L874.2,570.4L876.2,568.8L878.1,567.2L880.1,565.6L882.0,564.1L884.0,562.5L886.0,560.9L888.0,559.3L889.9,557.7L891.9,556.1L893.8,554.5L895.7,552.8L897.6,551.1L899.5,549.4L901.4,547.7L903.3,546.0L905.2,544.3L907.1,542.6L908.9,540.9L910.8,539.3L912.8,537.6L914.7,536.0L916.6,534.4L918.6,532.9L920.6,531.4L922.6,530.0L924.6,528.6L926.7,527.3L928.8,526.0L931.0,524.8L933.2,523.7L934.7,523.0"/>
<path d="M785.7,715.4L786.9,713.1L788.2,710.8L789.4,708.5L790.7,706.3L792.0,704.0L793.3,701.8L794.7,699.6L796.0,697.4L797.4,695.2L798.8,693.1L800.2,691.0L801.7,688.9L803.1,686.8L804.6,684.7L806.1,682.6L807.6,680.6L809.1,678.6L810.6,676.5L812.2,674.5L813.8,672.6L815.4,670.6L817.0,668.6L818.6,666.7L820.2,664.8L821.9,662.9L823.5,661.0L825.2,659.1L826.9,657.2L828.6,655.4L830.3,653.5L832.0,651.7L833.8,649.9L835.5,648.1L837.3,646.3L839.1,644.5L840.9,642.8L842.7,641.0L844.5,639.2L846.4,637.5L848.2,635.8L850.1,634.1L851.9,632.4L853.8,630.7L855.7,629.0L857.6,627.3L859.5,625.7L861.4,624.0L863.3,622.3L865.3,620.7L867.2,619.1L869.1,617.4L871.1,615.8L873.1,614.2L875.1,612.6L877.0,611.0L879.0,609.4L881.0,607.9L883.0,606.3L885.0,604.7L887.1,603.1L889.1,601.6L891.1,600.0L893.2,598.5L895.2,596.9L897.3,595.4L899.3,593.9L901.4,592.3L903.4,590.8L905.5,589.3L907.6,587.8L909.7,586.3L911.7,584.9L913.8,583.4L915.9,582.0L918.0,580.6L920.2,579.2L922.3,577.8L924.4,576.5L926.5,575.2L928.7,573.9L930.8,572.6L932.9,571.4L935.1,570.2L937.3,569.0L938.5,568.4"/>
<path d="M805.5,715.4L807.1,713.4L808.7,711.3L810.3,709.4L812.0,707.4L813.7,705.5L815.4,703.5L817.1,701.6L818.8,699.8L820.6,697.9L822.4,696.1L824.2,694.3L826.0,692.5L827.8,690.7L829.7,689.0L831.5,687.2L833.4,685.5L835.3,683.8L837.2,682.1L839.2,680.5L841.1,678.8L843.0,677.2L845.0,675.6L847.0,674.0L849.0,672.4L851.0,670.8L853.0,669.3L855.0,667.7L857.1,666.2L859.1,664.6L861.2,663.1L863.3,661.6L865.3,660.1L867.4,658.7L869.5,657.2L871.6,655.7L873.7,654.3L875.9,652.8L878.0,651.4L880.1,650.0L882.3,648.5L884.4,647.1L886.5,645.7L888.7,644.3L890.9,642.9L893.0,641.5L895.2,640.1L897.3,638.7L899.5,637.3L901.7,635.9L903.8,634.5L906.0,633.2L908.2,631.8L910.4,630.4L912.5,629.0L914.7,627.7L916.9,626.4L919.1,625.0L921.3,623.8L923.5,622.5L925.7,621.3L928.0,620.1L930.2,618.9L932.5,617.8L934.7,616.7L937.0,615.7L939.3,614.7L941.7,613.8L944.0,612.9L946.4,612.1L948.7,611.4L951.1,610.7L953.6,610.1L956.0,609.6L958.5,609.2L961.0,608.8L963.3,608.5"/>
<path d="M805.5,715.4L807.8,714.2L810.0,713.0L812.3,711.9L814.6,710.8L817.0,709.8L819.3,708.8L821.7,707.8L824.0,706.9L826.4,706.0L828.8,705.2L831.2,704.4L833.6,703.6L836.0,702.8L838.5,702.0L840.9,701.3L843.3,700.6L845.8,699.9L848.3,699.2L850.7,698.5L853.2,697.9L855.6,697.2L858.1,696.6L860.6,695.9L863.0,695.3L865.5,694.6L868.0,694.0L870.4,693.3L872.9,692.7L875.3,692.0L877.8,691.3L880.2,690.6L882.6,689.9L885.0,689.1L887.5,688.4L889.9,687.6L892.3,686.8L894.6,685.9L897.0,685.1L899.4,684.2L901.7,683.2L904.0,682.3L906.4,681.3L908.7,680.2L910.9,679.2L913.2,678.1L915.5,676.9L917.8,675.8L920.0,674.7L922.3,673.6L924.5,672.5L926.8,671.4L929.1,670.3L931.4,669.2L933.7,668.2L936.0,667.2L938.3,666.3L940.6,665.4L943.0,664.6L945.4,663.8L947.2,663.3"/>
<path d="M857.2,717.9L859.7,717.5L862.3,717.1L864.8,716.8L867.4,716.4L869.9,716.1L872.5,715.7L875.0,715.4L877.6,715.1L880.1,714.7L882.7,714.4L885.2,714.1L887.8,713.8L890.3,713.5L892.9,713.2L895.4,712.9L898.0,712.6L900.5,712.4L903.1,712.1L905.6,711.8L908.2,711.6L910.7,711.3L913.3,711.1L915.8,710.9L918.4,710.7L921.0,710.4L923.5,710.2L926.1,710.0L928.6,709.8L931.2,709.6L933.8,709.5L936.3,709.3L938.9,709.1L941.4,709.0L944.0,708.8L946.6,708.6L949.1,708.5L951.7,708.4L953.8,708.3"/>
<path d="M857.2,736.6L859.7,736.8L862.3,737.0L864.8,737.3L867.4,737.5L869.9,737.7L872.4,738.0L875.0,738.3L877.5,738.5L880.0,738.8L882.6,739.1L885.1,739.3L887.7,739.6L890.2,739.9L892.7,740.2L895.3,740.5L897.8,740.8L900.3,741.1L902.9,741.4L905.4,741.7L907.9,742.0L910.5,742.3L913.0,742.6L915.5,742.8L918.1,743.1L920.6,743.4L923.1,743.7L925.7,744.0L928.2,744.3L930.7,744.6L933.3,744.8L935.8,745.1L938.4,745.4L940.9,745.6L943.4,745.9L946.0,746.1L948.5,746.4L951.1,746.6L953.6,746.8L956.1,747.0L958.7,747.2L961.2,747.4L963.8,747.6L966.3,747.8L968.9,747.9L971.4,748.1L973.9,748.2L975.9,748.3"/>
<path d="M809.4,740.4L811.7,741.6L814.1,742.8L816.4,743.9L818.8,745.0L821.1,746.1L823.5,747.1L825.9,748.1L828.3,749.0L830.7,750.0L833.1,750.9L835.6,751.7L838.0,752.6L840.5,753.4L842.9,754.2L845.4,754.9L847.9,755.7L850.3,756.4L852.8,757.1L855.3,757.8L857.8,758.5L860.3,759.2L862.8,759.8L865.3,760.5L867.8,761.1L870.3,761.8L872.8,762.4L875.3,763.0L877.8,763.6L880.4,764.3L882.9,764.9L885.4,765.5L887.9,766.2L890.4,766.8L892.9,767.4L895.4,768.1L897.9,768.8L900.4,769.5L902.9,770.1L905.3,770.9L907.8,771.6L910.3,772.3L912.7,773.1L915.2,773.9L917.6,774.7L920.1,775.5L922.5,776.4L924.9,777.3L927.3,778.2L929.7,779.1L932.1,780.1L934.5,781.1L936.6,782.0"/>
<path d="M787.3,740.4L789.0,742.3L790.7,744.2L792.4,746.1L794.2,748.0L795.9,749.8L797.7,751.6L799.5,753.4L801.3,755.2L803.1,757.0L805.0,758.8L806.8,760.5L808.7,762.2L810.6,763.9L812.5,765.6L814.4,767.3L816.3,768.9L818.3,770.6L820.2,772.2L822.2,773.8L824.2,775.4L826.2,776.9L828.2,778.5L830.3,780.0L832.3,781.5L834.4,783.0L836.5,784.5L838.5,786.0L840.6,787.4L842.7,788.9L844.9,790.3L847.0,791.7L849.1,793.0L851.3,794.4L853.5,795.8L855.6,797.1L857.8,798.4L860.0,799.7L862.2,801.0L864.4,802.2L866.7,803.5L868.9,804.7L871.2,805.9L873.4,807.1L875.7,808.3L877.9,809.5L880.2,810.6L882.5,811.8L884.8,812.9L887.1,814.0L889.4,815.0L891.7,816.1L894.1,817.2L896.4,818.2L898.7,819.2L901.1,820.2L903.4,821.2L905.8,822.2L908.1,823.1L910.5,824.1L912.9,825.0L915.3,825.9L917.6,826.8L920.0,827.6L922.4,828.5L924.8,829.3L927.2,830.2L929.6,831.0L931.4,831.6"/>
<path d="M782.2,740.4L783.6,742.4L785.0,744.4L786.4,746.5L787.9,748.5L789.3,750.5L790.7,752.6L792.1,754.6L793.6,756.7L795.0,758.8L796.5,760.8L797.9,762.9L799.4,765.0L800.9,767.1L802.4,769.1L803.8,771.2L805.3,773.3L806.8,775.4L808.3,777.4L809.9,779.5L811.4,781.6L812.9,783.6L814.4,785.7L816.0,787.8L817.5,789.8L819.1,791.9L820.7,793.9L822.3,796.0L823.9,798.0L825.5,800.0L827.1,802.1L828.7,804.1L830.3,806.1L832.0,808.1L833.6,810.0L835.3,812.0L837.0,814.0L838.7,815.9L840.4,817.8L842.1,819.8L843.8,821.7L845.5,823.6L847.3,825.5L849.1,827.3L850.8,829.2L852.6,831.0L854.4,832.8L856.2,834.6L858.1,836.4L859.9,838.1L861.7,839.9L863.6,841.6L865.5,843.3L867.4,845.0L869.3,846.6L871.2,848.3L873.2,849.9L875.1,851.5L877.1,853.0L879.1,854.6L881.1,856.1L883.1,857.6L885.2,859.0L887.2,860.4L889.3,861.9L891.4,863.2L893.5,864.6L895.6,865.9L897.8,867.2L899.9,868.4L902.1,869.7L904.3,870.9L906.5,872.0L908.7,873.2L911.0,874.3L913.3,875.3L915.6,876.4L917.9,877.3L920.2,878.3L922.5,879.2L924.9,880.1L927.3,881.0L929.7,881.8L932.1,882.5L934.6,883.3L937.1,884.0L939.6,884.6L942.1,885.2L944.6,885.8L947.1,886.3"/>
<path d="M778.7,740.4L779.8,742.6L780.9,744.8L782.0,747.1L783.1,749.3L784.2,751.5L785.3,753.8L786.5,756.0L787.6,758.3L788.7,760.5L789.9,762.8L791.0,765.0L792.2,767.3L793.3,769.5L794.5,771.8L795.7,774.0L796.9,776.3L798.1,778.5L799.3,780.8L800.5,783.0L801.7,785.3L802.9,787.5L804.2,789.8L805.4,792.0L806.7,794.2L807.9,796.5L809.2,798.7L810.5,800.9L811.8,803.2L813.1,805.4L814.4,807.6L815.7,809.8L817.0,812.0L818.3,814.2L819.7,816.4L821.0,818.6L822.4,820.8L823.8,822.9L825.2,825.1L826.6,827.3L828.0,829.4L829.4,831.5L830.8,833.7L832.3,835.8L833.7,837.9L835.2,840.0L836.7,842.1L838.2,844.2L839.7,846.3L841.2,848.3L842.7,850.4L844.3,852.4L845.8,854.4L847.4,856.4L849.0,858.4L850.6,860.4L852.2,862.4L853.8,864.4L855.5,866.3L857.1,868.2L858.8,870.2L860.5,872.1L862.2,874.0L863.9,875.8L865.6,877.7L867.4,879.5L869.1,881.3L870.9,883.1L872.7,884.9L874.5,886.7L876.3,888.4L878.1,890.2L880.0,891.9L881.8,893.6L883.7,895.3L885.6,896.9L887.5,898.6L889.5,900.2L891.4,901.8L893.4,903.4L895.4,904.9L897.4,906.4L899.4,907.9L901.4,909.4L903.5,910.9L905.6,912.3L907.7,913.8L909.8,915.2L911.9,916.5L914.1,917.9L916.2,919.2L918.4,920.5L920.6,921.8L922.9,923.0L925.1,924.2L927.0,925.2"/>
<path d="M777.0,740.4L778.1,742.7L779.1,745.0L780.2,747.3L781.3,749.6L782.3,751.9L783.4,754.2L784.5,756.5L785.6,758.8L786.7,761.1L787.8,763.4L788.8,765.7L789.9,767.9L791.0,770.2L792.1,772.5L793.2,774.8L794.3,777.1L795.5,779.3L796.6,781.6L797.7,783.9L798.8,786.2L799.9,788.4L801.1,790.7L802.2,792.9L803.3,795.2L804.5,797.5L805.6,799.7L806.8,802.0L807.9,804.2L809.1,806.5L810.2,808.7L811.4,810.9L812.6,813.2L813.7,815.4L814.9,817.7L816.1,819.9L817.3,822.1L818.5,824.3L819.7,826.6L820.9,828.8L822.1,831.0L823.3,833.2L824.5,835.4L825.8,837.6L827.0,839.9L828.2,842.1L829.5,844.3L830.7,846.5L832.0,848.6L833.2,850.8L834.5,853.0L835.8,855.2L837.1,857.4L838.3,859.6L839.6,861.8L840.9,863.9L842.2,866.1L843.5,868.3L844.8,870.4L846.2,872.6L847.5,874.8L848.8,876.9L850.2,879.1L851.5,881.2L852.9,883.3L854.2,885.5L855.6,887.6L857.0,889.8L858.4,891.9L859.8,894.0L861.2,896.1L862.6,898.3L864.0,900.4L865.4,902.5L866.8,904.6L868.3,906.7L869.7,908.8L871.2,910.9L872.6,913.0L874.1,915.1L875.6,917.2L877.1,919.3L878.5,921.3L880.0,923.4L881.6,925.5L883.1,927.5L884.6,929.6L886.1,931.6L887.7,933.7L889.3,935.7L890.8,937.7L892.4,939.7L894.1,941.7L895.7,943.6L897.3,945.5L899.0,947.4L900.7,949.3L902.4,951.2L904.1,953.0L905.8,954.8L907.6,956.6L909.4,958.3L911.2,960.0L913.0,961.7L914.9,963.3L916.8,964.9L918.7,966.5L920.6,968.0L922.6,969.5L924.6,970.9L926.6,972.3L928.7,973.6L930.8,974.9L932.9,976.1L935.1,977.3L937.3,978.4L939.5,979.4L941.8,980.4L944.1,981.4L946.4,982.3L948.8,983.1L951.2,983.8L953.7,984.5L956.2,985.1L958.7,985.7L961.2,986.2L963.8,986.7L966.4,987.0L966.6,987.1"/>
<path d="M776.0,740.4L776.4,743.0L776.8,745.5L777.3,748.1L777.9,750.6L778.4,753.1L779.0,755.6L779.7,758.0L780.4,760.5L781.1,762.9L781.9,765.3L782.7,767.7L783.6,770.1L784.4,772.4L785.4,774.8L786.3,777.1L787.3,779.5L788.3,781.8L789.3,784.1L790.4,786.3L791.5,788.6L792.6,790.9L793.7,793.1L794.9,795.4L796.1,797.6L797.3,799.8L798.5,802.1L799.7,804.3L801.0,806.5L802.2,808.7L803.5,810.8L804.8,813.0L806.2,815.2L807.5,817.4L808.8,819.5L810.2,821.7L811.5,823.9L812.9,826.0L814.3,828.2L815.6,830.3L817.0,832.5L818.4,834.6L819.8,836.8L821.2,838.9L822.5,841.1L823.9,843.2L825.3,845.4L826.7,847.5L828.0,849.7L829.4,851.8L830.8,854.0L832.1,856.2L833.4,858.3L834.8,860.5L836.1,862.7L837.4,864.9L838.7,867.0L839.9,869.2L841.2,871.4L842.4,873.7L843.6,875.9L844.8,878.1L846.0,880.3L847.2,882.6L848.3,884.8L849.4,887.1L850.5,889.4L851.6,891.7L852.6,894.0L853.6,896.3L854.6,898.6L855.5,901.0L856.4,903.3L857.3,905.7L858.1,908.1L858.9,910.5L859.7,912.9L860.4,915.3L861.1,917.8L861.8,920.2L862.4,922.7L862.9,925.2L863.5,927.8L864.0,930.3L864.5,932.8L865.0,935.4L865.4,937.9L865.9,940.4L866.3,943.0L866.8,945.5L867.3,948.0L867.8,950.5L868.4,953.0L868.9,955.4L869.5,957.9L870.2,960.3L870.9,962.7L871.7,965.0L872.5,967.3L873.4,969.6L874.4,971.8L875.4,974.0L876.5,976.1L877.8,978.2L879.1,980.2L880.5,982.2L882.1,984.1L883.6,986.0L885.3,987.9L887.0,989.7L888.7,991.6L890.5,993.4L892.2,995.2L894.0,997.1L895.7,998.9L897.4,1000.8L899.1,1002.7L900.8,1004.6L902.5,1006.5L904.2,1008.4L905.9,1010.3L907.6,1012.1L909.4,1013.9L911.2,1015.6L913.0,1017.3L915.0,1018.9L916.9,1020.4L918.9,1021.8L921.0,1023.2L923.1,1024.5L925.3,1025.7L927.5,1026.8L929.8,1027.8L932.1,1028.8L934.4,1029.7L936.8,1030.5L939.2,1031.3L941.6,1031.9L944.0,1032.5L946.5,1033.0L949.0,1033.5L951.6,1033.8L953.7,1034.1"/>
<path d="M775.5,740.4L776.1,742.8L776.8,745.3L777.5,747.7L778.2,750.1L779.0,752.5L779.8,754.9L780.6,757.2L781.4,759.6L782.3,762.0L783.2,764.3L784.1,766.7L785.0,769.0L785.9,771.3L786.9,773.7L787.9,776.0L788.9,778.3L790.0,780.6L791.0,782.9L792.1,785.2L793.2,787.5L794.3,789.8L795.4,792.0L796.5,794.3L797.6,796.6L798.8,798.8L800.0,801.1L801.2,803.3L802.3,805.6L803.6,807.8L804.8,810.1L806.0,812.3L807.2,814.6L808.5,816.8L809.7,819.0L811.0,821.3L812.2,823.5L813.5,825.7L814.8,828.0L816.0,830.2L817.3,832.4L818.6,834.6L819.9,836.9L821.1,839.1L822.4,841.3L823.7,843.5L825.0,845.7L826.3,848.0L827.5,850.2L828.8,852.4L830.1,854.7L831.3,856.9L832.6,859.1L833.8,861.4L835.1,863.6L836.3,865.8L837.5,868.1L838.7,870.3L840.0,872.6L841.2,874.8L842.3,877.1L843.5,879.3L844.7,881.6L845.8,883.9L847.0,886.1L848.1,888.4L849.2,890.7L850.3,893.0L851.3,895.3L852.4,897.6L853.4,899.9L854.4,902.2L855.4,904.5L856.4,906.9L857.4,909.2L858.3,911.5L859.2,913.9L860.1,916.3L861.0,918.6L861.8,921.0L862.6,923.4L863.4,925.8L864.2,928.2L864.9,930.6L865.6,933.0L866.3,935.4L867.0,937.8L867.6,940.3L868.3,942.7L868.9,945.2L869.5,947.6L870.0,950.1L870.6,952.6L871.1,955.0L871.6,957.5L872.1,960.0L872.5,962.5L873.0,965.0L873.4,967.5L873.8,970.0L874.2,972.5L874.6,975.0L875.0,977.5L875.3,980.0L875.7,982.5L876.0,985.1L876.3,987.6L876.7,990.1L877.0,992.6L877.4,995.1L877.7,997.6L878.1,1000.1L878.6,1002.6L879.0,1005.1L879.5,1007.5L880.1,1010.0L880.7,1012.4L881.4,1014.8L882.1,1017.2L882.9,1019.6L883.8,1021.9L884.7,1024.2L885.7,1026.5L886.7,1028.8L887.8,1031.0L889.0,1033.2L890.2,1035.4L891.5,1037.6L892.8,1039.7L894.2,1041.8L895.6,1043.8L897.1,1045.8L898.7,1047.8L900.3,1049.7L901.9,1051.6L903.6,1053.4L905.4,1055.2L907.2,1057.0L909.1,1058.7L911.0,1060.3L912.9,1061.9L914.9,1063.5L917.0,1065.0L919.1,1066.4L921.2,1067.8L923.4,1069.1L925.6,1070.4L927.9,1071.6L930.2,1072.7L932.6,1073.8L934.8,1074.8"/>
<path d="M775.0,740.4L775.9,742.7L776.9,745.0L777.8,747.3L778.8,749.6L779.8,751.9L780.8,754.2L781.7,756.5L782.8,758.8L783.8,761.0L784.8,763.3L785.8,765.6L786.9,767.9L787.9,770.2L789.0,772.5L790.1,774.7L791.1,777.0L792.2,779.3L793.3,781.6L794.4,783.8L795.5,786.1L796.6,788.4L797.8,790.6L798.9,792.9L800.0,795.2L801.1,797.5L802.3,799.7L803.4,802.0L804.6,804.3L805.7,806.5L806.8,808.8L808.0,811.1L809.2,813.3L810.3,815.6L811.5,817.9L812.6,820.1L813.8,822.4L814.9,824.7L816.1,827.0L817.3,829.2L818.4,831.5L819.6,833.8L820.7,836.0L821.9,838.3L823.0,840.6L824.2,842.9L825.4,845.1L826.5,847.4L827.6,849.7L828.8,852.0L829.9,854.3L831.1,856.5L832.2,858.8L833.3,861.1L834.4,863.4L835.5,865.7L836.6,868.0L837.8,870.3L838.8,872.6L839.9,874.9L841.0,877.1L842.1,879.4L843.2,881.8L844.2,884.1L845.3,886.4L846.3,888.7L847.3,891.0L848.4,893.3L849.4,895.6L850.4,897.9L851.4,900.3L852.4,902.6L853.3,904.9L854.3,907.2L855.2,909.6L856.2,911.9L857.1,914.3L858.0,916.6L858.9,918.9L859.8,921.3L860.7,923.6L861.5,926.0L862.4,928.4L863.2,930.7L864.0,933.1L864.8,935.5L865.6,937.8L866.3,940.2L867.1,942.6L867.8,945.0L868.5,947.4L869.2,949.8L869.9,952.2L870.6,954.6L871.2,957.0L871.8,959.4L872.4,961.8L873.0,964.3L873.6,966.7L874.1,969.1L874.7,971.6L875.2,974.0L875.7,976.5L876.1,978.9L876.6,981.4L877.0,983.8L877.4,986.3L877.8,988.8L878.1,991.3L878.4,993.7L878.7,996.2L879.0,998.7L879.3,1001.2L879.5,1003.7L879.7,1006.3L879.9,1008.8L880.1,1011.3L880.2,1013.8L880.3,1016.4L880.4,1018.9L880.4,1021.5L880.4,1024.0L880.4,1026.6L880.4,1029.2L880.3,1031.8L880.2,1034.3L880.1,1036.9L880.0,1039.5L879.8,1042.1L879.6,1044.8L879.3,1047.4L879.1,1050.0L878.8,1052.6L878.5,1055.3L878.3,1057.9L878.0,1060.5L877.9,1063.1L877.8,1065.7L877.9,1068.2L878.0,1070.7L878.3,1073.2L878.8,1075.6L879.5,1078.0L880.4,1080.3L881.5,1082.6L882.8,1084.8L884.3,1087.0L886.0,1089.1L887.9,1091.1L889.8,1093.1L891.8,1095.0L893.9,1096.9L895.9,1098.7L897.9,1100.5L899.8,1102.3L901.6,1104.0L903.3,1105.6L904.7,1107.3L906.0,1108.9L907.1,1110.4L908.0,1111.9L909.0,1113.4L909.9,1114.8L910.9,1116.1L912.1,1117.4L913.5,1118.5L915.2,1119.6L917.3,1120.5L919.8,1121.4L922.8,1122.1L926.4,1122.6L928.0,1122.8"/>
<path d="M774.5,740.4L775.2,742.7L776.0,745.1L776.8,747.4L777.6,749.8L778.4,752.1L779.3,754.4L780.1,756.7L781.0,759.0L781.9,761.3L782.8,763.6L783.8,765.9L784.7,768.2L785.7,770.5L786.7,772.8L787.7,775.1L788.7,777.4L789.8,779.7L790.8,782.0L791.9,784.2L792.9,786.5L794.0,788.8L795.1,791.1L796.2,793.3L797.4,795.6L798.5,797.8L799.6,800.1L800.8,802.4L802.0,804.6L803.1,806.9L804.3,809.1L805.5,811.4L806.7,813.6L807.9,815.9L809.1,818.1L810.3,820.4L811.5,822.6L812.7,824.9L813.9,827.1L815.2,829.4L816.4,831.6L817.6,833.9L818.8,836.1L820.1,838.3L821.3,840.6L822.5,842.8L823.8,845.1L825.0,847.3L826.2,849.6L827.4,851.8L828.7,854.1L829.9,856.3L831.1,858.6L832.3,860.8L833.5,863.1L834.7,865.3L835.9,867.6L837.1,869.9L838.3,872.1L839.4,874.4L840.6,876.7L841.7,878.9L842.9,881.2L844.0,883.5L845.1,885.7L846.3,888.0L847.4,890.3L848.5,892.6L849.5,894.9L850.6,897.2L851.7,899.5L852.7,901.8L853.7,904.1L854.7,906.4L855.7,908.7L856.7,911.0L857.7,913.3L858.6,915.6L859.5,918.0L860.4,920.3L861.3,922.6L862.2,925.0L863.0,927.3L863.9,929.7L864.7,932.0L865.5,934.4L866.2,936.8L867.0,939.1L867.7,941.5L868.4,943.9L869.1,946.3L869.7,948.7L870.3,951.1L870.9,953.5L871.5,955.9L872.0,958.3L872.6,960.7L873.1,963.2L873.5,965.6L873.9,968.1L874.3,970.5L874.7,973.0L875.1,975.5L875.4,977.9L875.7,980.4L875.9,982.9L876.1,985.4L876.3,987.9L876.5,990.4L876.6,992.9L876.7,995.5L876.8,998.0L876.9,1000.5L877.0,1003.1L877.0,1005.6L877.0,1008.2L877.0,1010.7L877.0,1013.3L877.0,1015.8L877.0,1018.4L877.0,1020.9L876.9,1023.5L876.9,1026.1L876.9,1028.6L876.8,1031.2L876.8,1033.8L876.7,1036.3L876.7,1038.9L876.7,1041.5L876.7,1044.0L876.7,1046.6L876.6,1049.2L876.7,1051.7L876.7,1054.3L876.7,1056.8L876.8,1059.4L876.8,1061.9L876.9,1064.5L877.0,1067.0L877.2,1069.5L877.3,1072.1L877.5,1074.6L877.7,1077.1L878.0,1079.6L878.3,1082.1L878.6,1084.6L878.9,1087.1L879.3,1089.6L879.7,1092.0L880.2,1094.5L880.7,1097.0L881.2,1099.4L881.8,1101.9L882.4,1104.3L883.1,1106.7L883.8,1109.1L884.5,1111.5L885.3,1113.9L886.2,1116.2L887.1,1118.6L888.0,1120.9L889.0,1123.2L890.1,1125.5L891.1,1127.7L892.3,1129.9L893.4,1132.1L894.6,1134.3L895.9,1136.4L897.2,1138.5L898.5,1140.6L899.9,1142.6L901.4,1144.6L902.8,1146.6L904.4,1148.5L905.9,1150.4L907.5,1152.2L909.2,1154.0L910.9,1155.8L912.6,1157.5L914.4,1159.1L916.3,1160.7L918.1,1162.3L920.1,1163.8L922.0,1165.2L924.0,1166.6L926.1,1167.9L928.2,1169.2L930.3,1170.4L932.5,1171.6L934.7,1172.7L937.0,1173.7L939.3,1174.6L941.6,1175.5L944.0,1176.4L946.4,1177.1L948.8,1177.8L951.3,1178.4L953.8,1179.0L956.4,1179.4L958.9,1179.8L961.5,1180.2L964.2,1180.4L966.8,1180.6L969.5,1180.7L970.0,1180.7"/>
<path d="M775.5,955.5L776.8,953.4L778.1,951.2L779.4,949.1L780.7,946.9L782.0,944.7L783.3,942.6L784.5,940.4L785.8,938.2L787.0,936.1L788.3,933.9L789.5,931.7L790.7,929.5L792.0,927.3L793.2,925.1L794.4,922.9L795.6,920.7L796.8,918.5L797.9,916.3L799.1,914.1L800.3,911.8L801.4,909.6L802.6,907.4L803.7,905.1L804.9,902.9L806.0,900.7L807.1,898.4L808.2,896.2L809.3,893.9L810.4,891.6L811.5,889.4L812.6,887.1L813.7,884.9L814.8,882.6L815.9,880.3L816.9,878.0L818.0,875.8L819.0,873.5L820.1,871.2L821.1,868.9L822.1,866.6L823.2,864.3L824.2,862.0L825.2,859.7L826.2,857.4L827.2,855.1L828.2,852.8L829.2,850.5L830.2,848.1L831.2,845.8L832.1,843.5L833.1,841.2L834.1,838.9L835.0,836.5L836.0,834.2L836.9,831.9L837.9,829.5L838.8,827.2L839.7,824.8L840.7,822.5L841.6,820.2L842.5,817.8L843.4,815.5L844.3,813.1L845.2,810.8L846.1,808.4L847.0,806.0L847.9,803.7L848.8,801.3L849.7,799.0L850.5,796.6L851.4,794.2L852.3,791.9L853.1,789.5L854.0,787.1L854.8,784.7L855.7,782.4L856.5,780.0L857.4,777.6L858.2,775.2L859.0,772.9L859.8,770.5L860.7,768.1L861.4,765.7L862.2,763.3L863.0,760.9L863.8,758.5L864.5,756.1L865.2,753.7L865.9,751.3L866.6,748.9L867.3,746.5L868.0,744.1L868.6,741.7L869.2,739.3L869.8,736.8L870.4,734.4L870.9,732.0L871.5,729.6L872.0,727.1L872.4,724.7L872.9,722.2L873.3,719.8L873.7,717.3L874.0,714.9L874.4,712.4L874.7,710.0L874.9,707.5L875.2,705.0L875.4,702.6L875.6,700.1L875.8,697.6L875.9,695.1L876.0,692.6L876.1,690.1L876.2,687.6L876.2,685.1L876.3,682.6L876.3,680.1L876.3,677.6L876.3,675.1L876.3,672.6L876.2,670.1L876.2,667.6L876.1,665.1L876.0,662.6L875.9,660.0L875.9,657.5L875.8,655.0L875.6,652.5L875.5,649.9L875.4,647.4L875.3,644.9L875.2,642.4L875.1,639.9L874.9,637.3L874.8,634.8L874.7,632.3L874.6,629.7L874.4,627.2L874.3,624.7L874.2,622.2L874.1,619.7L874.0,617.1L874.0,614.6L873.9,612.1L873.8,609.6L873.8,607.0L873.7,604.5L873.7,602.0L873.7,599.5L873.7,597.0L873.7,594.5L873.8,592.0L873.8,589.5L873.9,587.0L874.0,584.5L874.1,582.0L874.3,579.5L874.4,577.0L874.6,574.5L874.9,572.0L875.1,569.5L875.4,567.0L875.7,564.6L876.0,562.1L876.4,559.6L876.8,557.2L877.2,554.7L877.6,552.3L878.1,549.8L878.6,547.4L879.1,544.9L879.7,542.5L880.3,540.0L880.9,537.6L881.5,535.2L882.1,532.7L882.8,530.3L883.5,527.9L884.2,525.5L884.9,523.1L885.6,520.6L886.4,518.2L887.1,515.8L887.9,513.4L888.7,511.0L889.5,508.7L890.3,506.3L891.2,503.9L892.0,501.5L892.9,499.1L893.7,496.7L894.6,494.4L895.5,492.0L896.4,489.6L897.3,487.3L898.2,484.9L899.1,482.5L900.0,480.2L900.9,477.8L901.8,475.5L902.8,473.1L903.7,470.8L904.6,468.5L905.5,466.1L906.5,463.8L907.4,461.5L908.4,459.2L909.3,456.8L910.3,454.5L911.3,452.2L912.3,449.9L913.3,447.6L914.3,445.3L915.3,443.1L916.3,440.8L917.4,438.5L918.4,436.2L919.5,434.0L920.6,431.7L921.7,429.5L922.8,427.2L924.0,425.0L925.1,422.8L926.3,420.6L927.4,418.4L928.6,416.2L929.9,414.0L931.1,411.8L932.3,409.6L933.6,407.4L934.9,405.3L936.1,403.1L937.4,401.0L938.8,398.8L940.1,396.7L941.4,394.6L942.8,392.5L944.2,390.4L945.6,388.3L947.0,386.2L948.4,384.1L949.8,382.1L951.2,380.0L952.7,378.0L954.2,375.9L955.7,373.9L957.2,371.9L958.7,369.9L960.2,367.9L961.7,365.9L963.3,363.9L964.9,361.9L966.5,360.0L968.0,358.0L969.7,356.1L971.3,354.2L972.9,352.3L974.6,350.4L976.2,348.5L977.9,346.6L979.6,344.7L981.3,342.9L983.0,341.0L984.7,339.2L985.9,337.9"/>
<path d="M776.0,955.5L777.6,953.4L779.1,951.3L780.6,949.2L782.1,947.1L783.6,944.9L785.1,942.8L786.5,940.7L787.9,938.5L789.3,936.4L790.6,934.2L792.0,932.0L793.3,929.9L794.6,927.7L795.8,925.5L797.1,923.3L798.3,921.1L799.5,918.9L800.7,916.7L801.9,914.5L803.1,912.2L804.2,910.0L805.4,907.8L806.5,905.5L807.6,903.3L808.6,901.0L809.7,898.8L810.8,896.5L811.8,894.2L812.8,892.0L813.8,889.7L814.8,887.4L815.8,885.1L816.8,882.8L817.8,880.5L818.7,878.2L819.7,875.9L820.6,873.6L821.6,871.3L822.5,869.0L823.4,866.7L824.3,864.4L825.2,862.0L826.1,859.7L827.0,857.4L827.8,855.1L828.7,852.7L829.6,850.4L830.5,848.0L831.3,845.7L832.2,843.4L833.0,841.0L833.9,838.7L834.8,836.3L835.6,834.0L836.5,831.6L837.3,829.3L838.2,826.9L839.0,824.6L839.9,822.2L840.7,819.9L841.6,817.5L842.5,815.1L843.3,812.8L844.2,810.4L845.1,808.1L845.9,805.7L846.8,803.3L847.7,801.0L848.6,798.6L849.5,796.3L850.4,793.9L851.3,791.5L852.3,789.2L853.2,786.8L854.1,784.5L855.1,782.1L856.0,779.8L857.0,777.4L858.0,775.1L858.9,772.7L859.9,770.3L860.8,768.0L861.8,765.6L862.7,763.3L863.6,760.9L864.5,758.5L865.4,756.2L866.3,753.8L867.1,751.4L867.9,749.0L868.7,746.7L869.5,744.3L870.2,741.9L870.9,739.5L871.5,737.1L872.2,734.6L872.7,732.2L873.3,729.8L873.8,727.4L874.2,724.9L874.6,722.5L875.0,720.0L875.3,717.5L875.7,715.1L875.9,712.6L876.2,710.1L876.4,707.7L876.6,705.2L876.8,702.7L876.9,700.2L877.1,697.7L877.2,695.2L877.2,692.7L877.3,690.2L877.4,687.7L877.4,685.2L877.4,682.6L877.4,680.1L877.4,677.6L877.4,675.1L877.4,672.6L877.4,670.0L877.3,667.5L877.3,665.0L877.3,662.5L877.2,660.0L877.2,657.4L877.2,654.9L877.1,652.4L877.1,649.9L877.1,647.4L877.1,644.8L877.1,642.3L877.1,639.8L877.1,637.3L877.2,634.8L877.2,632.3L877.3,629.8L877.4,627.3L877.5,624.8L877.7,622.3L877.8,619.8L878.0,617.3L878.2,614.8L878.5,612.3L878.7,609.9L879.0,607.4L879.3,604.9L879.7,602.5L880.1,600.0L880.5,597.6L880.9,595.1L881.4,592.7L881.9,590.3L882.4,587.8L882.9,585.4L883.4,582.9L884.0,580.5L884.5,578.1L885.1,575.6L885.7,573.2L886.4,570.8L887.0,568.3L887.6,565.9L888.3,563.5L889.0,561.0L889.6,558.6L890.3,556.1L891.0,553.7L891.7,551.2L892.4,548.8L893.1,546.3L893.8,543.8L894.5,541.3L895.2,538.9L895.9,536.4L896.6,533.9L897.3,531.4L898.1,528.9L898.8,526.5L899.6,524.0L900.4,521.6L901.2,519.1L902.0,516.7L902.9,514.3L903.8,512.0L904.7,509.7L905.7,507.4L906.8,505.1L907.8,502.9L909.0,500.7L910.2,498.6L911.4,496.5L912.7,494.5L914.1,492.5L915.6,490.6L917.1,488.7L918.6,486.9L920.3,485.2L922.0,483.5L923.8,481.9L925.7,480.4L927.6,478.9L929.6,477.6L931.6,476.3L933.7,475.0L935.9,473.9L938.1,472.9L940.5,471.9L942.8,471.0L945.3,470.3L947.8,469.6L948.1,469.5"/>
<path d="M776.5,955.5L778.1,953.4L779.6,951.3L781.1,949.1L782.6,947.0L784.0,944.9L785.5,942.7L786.9,940.6L788.3,938.4L789.7,936.2L791.0,934.1L792.3,931.9L793.6,929.7L794.9,927.5L796.2,925.3L797.4,923.1L798.7,920.9L799.9,918.7L801.1,916.5L802.3,914.2L803.4,912.0L804.6,909.8L805.7,907.5L806.8,905.3L807.9,903.0L809.0,900.8L810.1,898.5L811.1,896.3L812.2,894.0L813.2,891.7L814.2,889.5L815.2,887.2L816.2,884.9L817.2,882.6L818.2,880.3L819.1,878.0L820.1,875.7L821.0,873.4L822.0,871.1L822.9,868.8L823.8,866.5L824.7,864.2L825.6,861.9L826.5,859.5L827.4,857.2L828.3,854.9L829.2,852.6L830.1,850.2L831.0,847.9L831.8,845.6L832.7,843.2L833.6,840.9L834.4,838.5L835.3,836.2L836.2,833.8L837.0,831.5L837.9,829.1L838.8,826.8L839.6,824.4L840.5,822.1L841.4,819.7L842.2,817.4L843.1,815.0L844.0,812.6L844.9,810.3L845.7,807.9L846.6,805.5L847.5,803.2L848.4,800.8L849.3,798.5L850.2,796.1L851.1,793.7L852.1,791.4L853.0,789.0L853.9,786.6L854.9,784.3L855.8,781.9L856.8,779.5L857.8,777.2L858.7,774.8L859.7,772.4L860.7,770.1L861.6,767.7L862.6,765.3L863.5,763.0L864.4,760.6L865.3,758.2L866.2,755.8L867.1,753.4L867.9,751.1L868.8,748.7L869.6,746.3L870.3,743.9L871.1,741.5L871.8,739.1L872.4,736.7L873.1,734.3L873.6,731.9L874.2,729.4L874.7,727.0L875.2,724.6L875.6,722.2L876.0,719.7L876.4,717.3L876.7,714.9L877.1,712.4L877.3,710.0L877.6,707.5L877.8,705.0L878.0,702.6L878.2,700.1L878.4,697.7L878.5,695.2L878.6,692.7L878.7,690.2L878.8,687.7L878.9,685.3L879.0,682.8L879.0,680.3L879.1,677.8L879.1,675.3L879.1,672.8L879.1,670.3L879.2,667.8L879.2,665.3L879.2,662.7L879.2,660.2L879.2,657.7L879.2,655.2L879.2,652.7L879.3,650.1L879.3,647.6L879.3,645.1L879.4,642.5L879.4,640.0L879.5,637.5L879.6,634.9L879.7,632.4L879.8,629.8L879.9,627.3L880.1,624.7L880.2,622.2L880.4,619.6L880.6,617.1L880.9,614.5L881.1,612.0L881.4,609.4L881.7,606.9L882.1,604.3L882.5,601.8L882.9,599.3L883.3,596.8L883.8,594.3L884.3,591.8L884.9,589.3L885.4,586.8L886.1,584.4L886.7,581.9L887.4,579.5L888.2,577.1L889.0,574.8L889.8,572.4L890.7,570.1L891.6,567.8L892.6,565.6L893.6,563.3L894.7,561.1L895.8,558.9L897.0,556.8L898.2,554.7L899.5,552.6L900.8,550.6L902.2,548.6L903.7,546.6L905.2,544.7L906.8,542.8L908.4,541.0L910.1,539.2L911.9,537.5L913.7,535.8L915.6,534.2L917.5,532.6L919.5,531.1L921.6,529.7L923.7,528.3L925.9,527.0L928.1,525.8L930.3,524.6L932.6,523.5L934.6,522.7"/>
<path d="M777.0,955.5L778.2,953.3L779.4,951.2L780.6,949.0L781.8,946.8L783.0,944.7L784.2,942.5L785.3,940.3L786.5,938.1L787.7,935.9L788.9,933.7L790.1,931.5L791.2,929.3L792.4,927.1L793.6,924.9L794.8,922.6L795.9,920.4L797.1,918.2L798.3,916.0L799.4,913.7L800.6,911.5L801.7,909.3L802.9,907.0L804.0,904.8L805.2,902.5L806.3,900.3L807.5,898.0L808.6,895.7L809.7,893.5L810.9,891.2L812.0,888.9L813.1,886.7L814.2,884.4L815.3,882.1L816.4,879.8L817.5,877.5L818.6,875.2L819.7,872.9L820.8,870.6L821.9,868.3L823.0,866.0L824.0,863.7L825.1,861.4L826.2,859.1L827.2,856.8L828.3,854.5L829.3,852.2L830.4,849.8L831.4,847.5L832.4,845.2L833.5,842.9L834.5,840.5L835.5,838.2L836.5,835.9L837.5,833.5L838.5,831.2L839.5,828.8L840.5,826.5L841.4,824.1L842.4,821.8L843.4,819.4L844.3,817.1L845.3,814.7L846.2,812.4L847.2,810.0L848.1,807.6L849.0,805.3L849.9,802.9L850.8,800.5L851.7,798.2L852.6,795.8L853.5,793.4L854.3,791.0L855.2,788.7L856.1,786.3L856.9,783.9L857.8,781.5L858.6,779.1L859.4,776.7L860.2,774.3L861.0,772.0L861.8,769.6L862.6,767.2L863.4,764.8L864.2,762.4L864.9,760.0L865.7,757.6L866.4,755.2L867.1,752.8L867.9,750.4L868.6,748.0L869.3,745.6L870.0,743.2L870.6,740.8L871.3,738.4L872.0,736.0L872.6,733.6L873.3,731.2L873.9,728.7L874.5,726.3L875.1,723.9L875.7,721.5L876.2,719.1L876.7,716.6L877.2,714.2L877.6,711.8L878.0,709.3L878.4,706.9L878.8,704.4L879.1,701.9L879.4,699.5L879.7,697.0L880.0,694.5L880.3,692.0L880.5,689.5L880.8,687.0L881.0,684.5L881.2,682.0L881.5,679.5L881.7,677.0L881.9,674.5L882.1,672.0L882.4,669.5L882.6,666.9L882.9,664.4L883.2,661.9L883.5,659.4L883.8,656.8L884.1,654.3L884.5,651.8L884.9,649.2L885.3,646.7L885.7,644.2L886.2,641.6L886.7,639.1L887.2,636.6L887.8,634.1L888.4,631.6L889.1,629.1L889.8,626.6L890.5,624.2L891.3,621.8L892.1,619.4L893.0,617.0L893.9,614.6L894.9,612.3L895.9,610.0L897.0,607.8L898.1,605.6L899.3,603.4L900.5,601.2L901.8,599.1L903.1,597.1L904.5,595.1L906.0,593.1L907.5,591.2L909.1,589.4L910.8,587.6L912.5,585.9L914.3,584.2L916.2,582.6L918.1,581.0L920.1,579.6L922.2,578.2L924.3,576.8L926.5,575.6L928.7,574.4L931.0,573.3L933.4,572.3L935.8,571.4L938.3,570.6L938.3,570.5"/>
<path d="M777.5,955.5L778.7,953.3L780.0,951.2L781.2,949.0L782.4,946.8L783.6,944.6L784.8,942.4L786.0,940.2L787.2,938.0L788.4,935.8L789.6,933.6L790.8,931.4L792.0,929.2L793.2,927.0L794.4,924.8L795.6,922.6L796.8,920.4L797.9,918.1L799.1,915.9L800.3,913.7L801.4,911.4L802.6,909.2L803.8,906.9L804.9,904.7L806.0,902.5L807.2,900.2L808.3,897.9L809.4,895.7L810.6,893.4L811.7,891.2L812.8,888.9L813.9,886.6L815.0,884.3L816.1,882.1L817.2,879.8L818.3,877.5L819.4,875.2L820.5,872.9L821.6,870.6L822.6,868.3L823.7,866.0L824.8,863.7L825.8,861.4L826.9,859.1L827.9,856.8L829.0,854.5L830.0,852.2L831.0,849.9L832.0,847.6L833.0,845.2L834.1,842.9L835.1,840.6L836.1,838.3L837.0,835.9L838.0,833.6L839.0,831.3L840.0,828.9L840.9,826.6L841.9,824.2L842.9,821.9L843.8,819.5L844.7,817.2L845.7,814.8L846.6,812.5L847.5,810.1L848.4,807.8L849.3,805.4L850.2,803.0L851.1,800.7L852.0,798.3L852.9,795.9L853.7,793.6L854.6,791.2L855.4,788.8L856.3,786.4L857.1,784.0L858.0,781.7L858.8,779.3L859.6,776.9L860.4,774.5L861.2,772.1L862.0,769.7L862.8,767.3L863.5,764.9L864.3,762.5L865.1,760.1L865.8,757.7L866.6,755.3L867.3,752.9L868.0,750.5L868.7,748.1L869.4,745.7L870.1,743.3L870.8,740.9L871.5,738.5L872.2,736.1L872.9,733.7L873.5,731.2L874.1,728.8L874.8,726.4L875.4,724.0L876.0,721.5L876.6,719.1L877.1,716.7L877.6,714.2L878.1,711.7L878.6,709.3L879.0,706.8L879.5,704.3L879.9,701.8L880.3,699.3L880.7,696.8L881.1,694.3L881.6,691.8L882.0,689.3L882.5,686.8L883.0,684.4L883.5,681.9L884.1,679.4L884.7,677.0L885.3,674.5L886.0,672.1L886.8,669.7L887.6,667.3L888.4,664.9L889.3,662.6L890.3,660.2L891.3,658.0L892.3,655.7L893.5,653.5L894.6,651.3L895.9,649.1L897.2,647.0L898.5,645.0L900.0,643.0L901.4,641.0L903.0,639.1L904.6,637.2L906.3,635.4L908.0,633.7L909.8,632.0L911.7,630.4L913.6,628.9L915.6,627.4L917.7,626.0L919.8,624.7L922.0,623.4L924.3,622.2L926.6,621.1L928.9,620.1L931.3,619.1L933.8,618.2L936.2,617.4L938.7,616.6L941.3,615.9L943.8,615.3L946.4,614.7L948.9,614.2L951.5,613.7L954.1,613.3L956.7,613.0L959.2,612.7L961.8,612.5L963.3,612.4"/>
<path d="M778.0,955.5L779.4,953.4L780.8,951.3L782.2,949.1L783.5,947.0L784.9,944.9L786.2,942.7L787.6,940.6L788.9,938.4L790.2,936.2L791.5,934.1L792.8,931.9L794.0,929.7L795.3,927.5L796.5,925.3L797.8,923.1L799.0,920.9L800.2,918.7L801.4,916.5L802.6,914.2L803.8,912.0L805.0,909.8L806.2,907.5L807.3,905.3L808.5,903.0L809.6,900.8L810.7,898.5L811.8,896.2L812.9,894.0L814.0,891.7L815.1,889.4L816.2,887.1L817.3,884.8L818.4,882.5L819.4,880.3L820.5,877.9L821.5,875.6L822.5,873.3L823.6,871.0L824.6,868.7L825.6,866.4L826.6,864.1L827.6,861.7L828.6,859.4L829.5,857.1L830.5,854.7L831.5,852.4L832.4,850.0L833.4,847.7L834.3,845.4L835.3,843.0L836.2,840.7L837.1,838.3L838.1,835.9L839.0,833.6L839.9,831.2L840.8,828.9L841.7,826.5L842.6,824.1L843.5,821.8L844.4,819.4L845.3,817.0L846.1,814.6L847.0,812.3L847.9,809.9L848.7,807.5L849.6,805.1L850.4,802.8L851.3,800.4L852.2,798.0L853.0,795.6L853.8,793.2L854.7,790.8L855.5,788.5L856.3,786.1L857.2,783.7L858.0,781.3L858.8,778.9L859.7,776.6L860.5,774.2L861.3,771.8L862.2,769.4L863.0,767.1L863.9,764.7L864.8,762.4L865.7,760.0L866.6,757.7L867.5,755.4L868.5,753.1L869.4,750.8L870.4,748.5L871.5,746.2L872.5,743.9L873.6,741.7L874.7,739.4L875.9,737.2L877.0,735.0L878.2,732.8L879.5,730.7L880.8,728.5L882.1,726.4L883.4,724.2L884.8,722.1L886.1,720.0L887.5,717.8L888.9,715.7L890.2,713.5L891.6,711.4L893.0,709.2L894.4,707.1L895.8,704.9L897.2,702.7L898.7,700.6L900.1,698.5L901.6,696.3L903.0,694.3L904.6,692.2L906.1,690.2L907.7,688.2L909.3,686.3L911.0,684.4L912.7,682.5L914.4,680.7L916.2,679.0L918.0,677.4L919.9,675.8L921.9,674.3L923.9,672.9L925.9,671.6L928.0,670.4L930.2,669.3L932.4,668.3L934.6,667.4L937.0,666.7L939.3,666.1L941.7,665.7L944.2,665.4L946.8,665.3L947.1,665.3"/>
<path d="M777.0,955.5L778.1,953.3L779.2,951.1L780.3,948.8L781.5,946.6L782.6,944.4L783.7,942.1L784.8,939.9L786.0,937.7L787.1,935.4L788.2,933.2L789.4,930.9L790.5,928.7L791.7,926.5L792.8,924.2L794.0,922.0L795.1,919.7L796.3,917.5L797.4,915.2L798.6,913.0L799.8,910.7L800.9,908.5L802.1,906.3L803.3,904.0L804.5,901.8L805.7,899.5L806.9,897.3L808.1,895.0L809.3,892.8L810.5,890.5L811.7,888.3L812.9,886.1L814.1,883.8L815.3,881.6L816.6,879.4L817.8,877.1L819.0,874.9L820.3,872.7L821.5,870.4L822.8,868.2L824.0,866.0L825.3,863.8L826.6,861.5L827.9,859.3L829.1,857.1L830.4,854.9L831.7,852.7L833.0,850.5L834.3,848.3L835.6,846.1L836.9,843.9L838.3,841.7L839.6,839.5L840.9,837.4L842.3,835.2L843.6,833.0L845.0,830.8L846.3,828.7L847.7,826.5L849.1,824.4L850.4,822.2L851.8,820.1L853.2,817.9L854.6,815.8L856.0,813.7L857.4,811.6L858.8,809.4L860.3,807.3L861.7,805.2L863.2,803.1L864.6,801.0L866.1,798.9L867.5,796.9L869.0,794.8L870.5,792.7L872.0,790.7L873.5,788.6L875.0,786.6L876.5,784.5L878.0,782.5L879.5,780.5L881.1,778.4L882.6,776.4L884.2,774.4L885.7,772.4L887.3,770.4L888.9,768.5L890.5,766.5L892.1,764.5L893.7,762.6L895.3,760.6L896.9,758.7L898.6,756.8L900.2,754.9L901.9,753.0L903.5,751.1L905.2,749.2L906.9,747.3L908.6,745.5L910.4,743.7L912.1,741.9L913.9,740.1L915.7,738.4L917.5,736.6L919.3,735.0L921.2,733.3L923.0,731.6L924.9,730.0L926.9,728.5L928.8,726.9L930.8,725.4L932.8,724.0L934.8,722.6L936.9,721.2L939.0,719.8L941.1,718.6L943.3,717.3L945.5,716.1L947.8,715.0L950.0,713.9L952.4,712.8L954.5,711.9"/>
<path d="M778.7,955.5L780.1,953.5L781.4,951.5L782.8,949.4L784.2,947.4L785.6,945.4L786.9,943.3L788.3,941.2L789.7,939.2L791.0,937.1L792.4,935.0L793.8,932.9L795.2,930.8L796.5,928.7L797.9,926.6L799.3,924.5L800.7,922.4L802.0,920.3L803.4,918.2L804.8,916.1L806.2,914.0L807.6,911.8L809.0,909.7L810.3,907.6L811.7,905.4L813.1,903.3L814.5,901.2L815.9,899.0L817.4,896.9L818.8,894.8L820.2,892.6L821.6,890.5L823.0,888.4L824.5,886.2L825.9,884.1L827.3,882.0L828.8,879.8L830.2,877.7L831.7,875.6L833.1,873.5L834.6,871.4L836.1,869.3L837.6,867.1L839.0,865.0L840.5,862.9L842.0,860.9L843.5,858.8L845.1,856.7L846.6,854.6L848.1,852.6L849.6,850.5L851.2,848.4L852.7,846.4L854.3,844.4L855.9,842.3L857.4,840.3L859.0,838.3L860.6,836.3L862.2,834.3L863.8,832.3L865.4,830.4L867.1,828.4L868.7,826.5L870.4,824.5L872.0,822.6L873.7,820.7L875.4,818.8L877.1,816.9L878.8,815.0L880.5,813.2L882.2,811.3L884.0,809.5L885.7,807.7L887.5,805.9L889.2,804.1L891.0,802.3L892.8,800.5L894.6,798.8L896.5,797.1L898.3,795.3L900.2,793.7L902.0,792.0L903.9,790.3L905.8,788.7L907.7,787.1L909.6,785.5L911.5,783.9L913.5,782.3L915.4,780.8L917.4,779.2L919.4,777.7L921.4,776.2L923.4,774.8L925.5,773.4L927.6,772.0L929.6,770.6L931.7,769.3L933.8,768.0L936.0,766.8L938.1,765.5L940.3,764.4L942.5,763.2L944.7,762.2L947.0,761.1L949.3,760.1L951.6,759.2L953.9,758.3L956.2,757.5L958.6,756.7L961.0,756.0L963.4,755.4L965.9,754.8L968.3,754.2L970.8,753.8L973.4,753.4L975.9,753.0"/>
<path d="M782.2,955.5L783.9,953.7L785.6,951.8L787.3,950.0L789.0,948.1L790.7,946.3L792.4,944.4L794.1,942.5L795.8,940.6L797.5,938.8L799.2,936.9L800.9,935.0L802.6,933.1L804.3,931.2L806.0,929.3L807.7,927.4L809.4,925.5L811.1,923.6L812.8,921.6L814.5,919.7L816.2,917.8L817.9,915.9L819.6,914.0L821.3,912.1L823.0,910.2L824.8,908.3L826.5,906.4L828.2,904.5L829.9,902.6L831.7,900.7L833.4,898.8L835.1,896.9L836.9,895.0L838.6,893.1L840.4,891.3L842.2,889.4L843.9,887.5L845.7,885.7L847.5,883.8L849.3,882.0L851.0,880.2L852.8,878.3L854.7,876.5L856.5,874.7L858.3,872.9L860.1,871.2L862.0,869.4L863.8,867.6L865.7,865.9L867.5,864.1L869.4,862.4L871.3,860.7L873.2,859.0L875.1,857.3L877.0,855.6L878.9,853.9L880.9,852.3L882.8,850.7L884.8,849.1L886.7,847.5L888.7,845.9L890.7,844.3L892.7,842.8L894.7,841.2L896.8,839.7L898.8,838.2L900.8,836.7L902.9,835.3L905.0,833.8L907.1,832.4L909.2,831.0L911.3,829.6L913.5,828.3L915.6,827.0L917.8,825.6L920.0,824.4L922.2,823.1L924.4,821.8L926.6,820.6L928.9,819.4L931.2,818.3L933.4,817.1L935.3,816.2"/>
<path d="M787.3,955.5L789.4,954.0L791.4,952.5L793.5,951.0L795.5,949.5L797.6,948.0L799.6,946.5L801.6,945.0L803.7,943.4L805.7,941.9L807.7,940.4L809.8,938.8L811.8,937.2L813.8,935.7L815.9,934.1L817.9,932.6L819.9,931.0L821.9,929.4L823.9,927.9L826.0,926.3L828.0,924.7L830.0,923.2L832.1,921.6L834.1,920.0L836.1,918.5L838.2,916.9L840.2,915.4L842.2,913.8L844.3,912.3L846.3,910.8L848.4,909.3L850.5,907.7L852.5,906.2L854.6,904.7L856.7,903.3L858.7,901.8L860.8,900.3L862.9,898.9L865.0,897.4L867.1,896.0L869.3,894.6L871.4,893.2L873.5,891.8L875.7,890.5L877.8,889.1L880.0,887.8L882.2,886.5L884.3,885.2L886.5,883.9L888.7,882.6L891.0,881.4L893.2,880.2L895.4,879.0L897.7,877.8L899.9,876.7L902.2,875.6L904.5,874.5L906.8,873.4L909.1,872.4L911.5,871.3L913.8,870.3L916.2,869.4L918.5,868.4L920.9,867.5L923.3,866.7L925.8,865.8L928.2,865.0L930.7,864.2L932.9,863.5"/>
<path d="M806.0,955.5L808.3,954.5L810.6,953.4L813.0,952.4L815.3,951.4L817.6,950.4L820.0,949.5L822.3,948.5L824.7,947.6L827.0,946.6L829.4,945.7L831.8,944.8L834.2,944.0L836.5,943.1L838.9,942.2L841.3,941.4L843.7,940.5L846.1,939.7L848.5,938.9L850.9,938.1L853.3,937.3L855.8,936.5L858.2,935.7L860.6,934.9L863.0,934.2L865.5,933.4L867.9,932.7L870.3,931.9L872.8,931.2L875.2,930.5L877.6,929.8L880.1,929.1L882.5,928.4L885.0,927.7L887.4,927.0L889.9,926.3L892.3,925.6L894.8,924.9L897.3,924.3L899.7,923.6L902.2,922.9L904.6,922.3L907.1,921.6L909.6,921.0L912.0,920.3L914.5,919.6L916.9,919.0L919.4,918.3L921.9,917.7L924.3,917.0L926.8,916.4L929.2,915.7L931.7,915.1L934.2,914.4L936.6,913.8L939.1,913.1L941.5,912.5L944.0,911.8L946.4,911.1L948.3,910.7"/>
<path d="M855.4,959.0L858.0,958.7L860.6,958.3L863.1,958.0L865.7,957.6L868.3,957.3L870.9,957.0L873.5,956.7L876.0,956.4L878.6,956.0L881.2,955.7L883.8,955.4L886.4,955.1L888.9,954.8L891.5,954.5L894.1,954.3L896.7,954.0L899.3,953.7L901.9,953.4L904.5,953.1L907.0,952.9L909.6,952.6L912.2,952.3L914.8,952.1L917.4,951.8L920.0,951.6L922.6,951.3L925.2,951.1L927.4,950.9"/>
<path d="M855.4,975.3L858.0,975.6L860.6,975.8L863.1,976.1L865.7,976.3L868.3,976.6L870.9,976.8L873.4,977.1L876.0,977.4L878.6,977.6L881.2,977.9L883.7,978.1L886.3,978.4L888.9,978.7L891.5,978.9L894.0,979.2L896.6,979.5L899.2,979.7L901.8,980.0L904.4,980.3L906.9,980.5L909.5,980.8L912.1,981.1L914.7,981.3L917.2,981.6L919.8,981.9L922.4,982.1L925.0,982.4L927.5,982.7L930.1,983.0L932.7,983.2L935.3,983.5L937.8,983.8L940.4,984.0L943.0,984.3L945.6,984.6L948.1,984.9L950.7,985.1L953.3,985.4L955.9,985.7L958.4,986.0L961.0,986.3L963.6,986.5L966.2,986.8L968.3,987.1"/>
<path d="M809.4,980.5L811.8,981.4L814.1,982.4L816.5,983.3L818.9,984.2L821.3,985.1L823.7,985.9L826.0,986.8L828.4,987.7L830.8,988.5L833.2,989.4L835.6,990.2L838.0,991.1L840.4,991.9L842.8,992.7L845.2,993.5L847.7,994.3L850.1,995.1L852.5,995.9L854.9,996.7L857.3,997.4L859.8,998.2L862.2,999.0L864.6,999.7L867.0,1000.5L869.5,1001.2L871.9,1002.0L874.3,1002.7L876.8,1003.4L879.2,1004.2L881.6,1004.9L884.1,1005.6L886.5,1006.3L888.9,1007.0L891.4,1007.8L893.8,1008.5L896.3,1009.2L898.7,1009.9L901.2,1010.6L903.6,1011.3L906.0,1012.0L908.5,1012.7L910.9,1013.4L913.4,1014.1L915.8,1014.8L918.3,1015.5L920.7,1016.2L923.2,1016.9L925.6,1017.6L928.0,1018.3L930.5,1019.0L932.9,1019.8L935.4,1020.5L937.8,1021.2L940.2,1021.9L942.7,1022.6L945.1,1023.3L947.6,1024.1L950.0,1024.8L952.4,1025.5L954.3,1026.1"/>
<path d="M787.3,980.5L789.1,982.3L791.0,984.0L792.9,985.8L794.8,987.5L796.7,989.2L798.6,990.9L800.5,992.5L802.4,994.2L804.4,995.8L806.3,997.5L808.3,999.1L810.3,1000.6L812.3,1002.2L814.3,1003.8L816.3,1005.3L818.3,1006.8L820.4,1008.4L822.4,1009.9L824.5,1011.3L826.6,1012.8L828.6,1014.3L830.7,1015.7L832.8,1017.2L834.9,1018.6L837.0,1020.0L839.2,1021.4L841.3,1022.7L843.4,1024.1L845.6,1025.5L847.7,1026.8L849.9,1028.1L852.1,1029.5L854.2,1030.8L856.4,1032.1L858.6,1033.4L860.8,1034.6L863.0,1035.9L865.2,1037.2L867.4,1038.4L869.7,1039.6L871.9,1040.9L874.1,1042.1L876.4,1043.3L878.6,1044.5L880.9,1045.7L883.1,1046.8L885.4,1048.0L887.6,1049.2L889.9,1050.3L892.2,1051.5L894.5,1052.6L896.8,1053.8L899.0,1054.9L901.3,1056.0L903.6,1057.1L905.9,1058.2L908.2,1059.3L910.5,1060.4L912.8,1061.5L915.1,1062.6L917.4,1063.6L919.7,1064.7L922.0,1065.8L924.3,1066.8L926.7,1067.9L929.0,1068.9L931.3,1070.0L933.6,1071.0L935.3,1071.8"/>
<path d="M782.2,980.5L783.7,982.6L785.1,984.6L786.6,986.7L788.0,988.7L789.5,990.8L791.0,992.8L792.5,994.8L794.0,996.9L795.5,998.9L797.0,1001.0L798.5,1003.0L800.0,1005.0L801.6,1007.0L803.1,1009.1L804.6,1011.1L806.2,1013.1L807.7,1015.1L809.3,1017.1L810.9,1019.1L812.5,1021.1L814.1,1023.0L815.7,1025.0L817.3,1027.0L818.9,1028.9L820.5,1030.9L822.1,1032.8L823.8,1034.8L825.4,1036.7L827.1,1038.6L828.7,1040.6L830.4,1042.5L832.1,1044.4L833.8,1046.3L835.5,1048.1L837.2,1050.0L838.9,1051.9L840.7,1053.7L842.4,1055.6L844.1,1057.4L845.9,1059.2L847.7,1061.1L849.4,1062.9L851.2,1064.7L853.0,1066.4L854.8,1068.2L856.7,1070.0L858.5,1071.7L860.3,1073.4L862.2,1075.2L864.1,1076.9L865.9,1078.6L867.8,1080.3L869.7,1081.9L871.6,1083.6L873.5,1085.2L875.5,1086.8L877.4,1088.5L879.4,1090.1L881.3,1091.6L883.3,1093.2L885.3,1094.8L887.3,1096.3L889.3,1097.8L891.3,1099.3L893.4,1100.8L895.4,1102.3L897.5,1103.8L899.6,1105.2L901.6,1106.6L903.7,1108.0L905.9,1109.4L908.0,1110.8L910.1,1112.2L912.3,1113.5L914.4,1114.8L916.6,1116.1L918.3,1117.1"/>
<path d="M777.0,980.5L778.2,982.7L779.3,984.9L780.5,987.1L781.6,989.3L782.8,991.5L784.0,993.6L785.2,995.8L786.4,998.0L787.6,1000.2L788.8,1002.4L790.0,1004.6L791.2,1006.8L792.4,1009.0L793.6,1011.2L794.8,1013.4L796.1,1015.6L797.3,1017.8L798.6,1020.0L799.8,1022.2L801.1,1024.4L802.4,1026.5L803.6,1028.7L804.9,1030.9L806.2,1033.1L807.5,1035.3L808.8,1037.4L810.1,1039.6L811.4,1041.8L812.8,1043.9L814.1,1046.1L815.4,1048.2L816.8,1050.4L818.2,1052.5L819.5,1054.7L820.9,1056.8L822.3,1058.9L823.7,1061.0L825.1,1063.2L826.5,1065.3L827.9,1067.4L829.4,1069.5L830.8,1071.6L832.2,1073.6L833.7,1075.7L835.2,1077.8L836.6,1079.9L838.1,1081.9L839.6,1084.0L841.1,1086.0L842.6,1088.0L844.2,1090.1L845.7,1092.1L847.3,1094.1L848.8,1096.1L850.4,1098.1L852.0,1100.1L853.6,1102.0L855.2,1104.0L856.8,1106.0L858.4,1107.9L860.0,1109.8L861.7,1111.8L863.3,1113.7L865.0,1115.6L866.7,1117.5L868.4,1119.3L870.1,1121.2L871.8,1123.0L873.5,1124.9L875.3,1126.7L877.0,1128.5L878.8,1130.3L880.6,1132.1L882.4,1133.9L884.2,1135.7L886.0,1137.4L887.8,1139.2L889.7,1140.9L891.5,1142.6L893.4,1144.3L895.3,1146.0L897.2,1147.7L899.1,1149.3L901.1,1150.9L903.0,1152.5L905.0,1154.1L906.9,1155.7L908.9,1157.2L910.9,1158.7L913.0,1160.2L915.0,1161.6L917.1,1163.1L919.1,1164.4L921.2,1165.8L923.4,1167.1L925.5,1168.3L927.6,1169.6L929.8,1170.8L932.0,1171.9L934.2,1173.0L936.5,1174.0L938.7,1175.0L941.0,1176.0L943.3,1176.9L945.6,1177.7L947.9,1178.5L950.3,1179.3L952.7,1179.9L955.1,1180.6L957.6,1181.1L960.0,1181.6L962.5,1182.1L965.0,1182.4L967.5,1182.7L970.0,1182.9"/>
<path d="M776.0,980.5L776.5,982.9L777.1,985.2L777.6,987.6L778.2,990.0L778.7,992.4L779.3,994.8L779.9,997.2L780.5,999.6L781.1,1002.0L781.7,1004.5L782.3,1006.9L782.9,1009.3L783.5,1011.7L784.2,1014.1L784.8,1016.6L785.5,1019.0L786.2,1021.4L786.8,1023.9L787.5,1026.3L788.2,1028.7L788.9,1031.2L789.7,1033.6L790.4,1036.0L791.1,1038.4L791.9,1040.9L792.7,1043.3L793.4,1045.7L794.2,1048.1L795.0,1050.6L795.9,1053.0L796.7,1055.4L797.5,1057.8L798.4,1060.2L799.2,1062.6L800.1,1065.0L801.0,1067.4L801.9,1069.8L802.8,1072.1L803.8,1074.5L804.7,1076.9L805.7,1079.2L806.7,1081.6L807.7,1083.9L808.7,1086.3L809.7,1088.6L810.7,1090.9L811.8,1093.2L812.8,1095.5L813.9,1097.8L815.0,1100.1L816.1,1102.4L817.2,1104.7L818.4,1106.9L819.5,1109.2L820.7,1111.4L821.9,1113.6L823.1,1115.8L824.4,1118.0L825.6,1120.2L826.9,1122.4L828.1,1124.5L829.4,1126.7L830.7,1128.8L832.1,1130.9L833.4,1133.0L834.8,1135.1L836.2,1137.2L837.6,1139.2L839.0,1141.3L840.5,1143.3L841.9,1145.3L843.4,1147.3L844.9,1149.2L846.4,1151.2L848.0,1153.1L849.6,1155.0L851.1,1156.9L852.7,1158.8L854.4,1160.7L856.0,1162.5L857.7,1164.4L859.4,1166.2L861.1,1167.9L862.8,1169.7L864.6,1171.4L866.3,1173.2L868.1,1174.9L869.9,1176.5L871.8,1178.2L873.6,1179.8L875.5,1181.4L877.4,1183.0L879.4,1184.6L881.3,1186.1L883.3,1187.6L885.3,1189.1L887.3,1190.6L889.4,1192.0L891.5,1193.4L893.6,1194.8L895.7,1196.1L897.8,1197.5L900.0,1198.8L902.2,1200.1L904.4,1201.3L906.6,1202.6L908.9,1203.8L911.1,1205.0L913.4,1206.2L915.7,1207.4L918.0,1208.5L920.3,1209.7L922.5,1210.8L924.8,1212.0L927.1,1213.1L929.4,1214.3L931.7,1215.4L934.0,1216.5L936.2,1217.7L938.5,1218.8L940.7,1220.0L942.9,1221.2L945.2,1222.3L947.3,1223.5L949.5,1224.7L951.7,1225.9L953.9,1227.0L956.1,1228.2L958.3,1229.3L960.5,1230.4L962.7,1231.5L964.9,1232.6L967.1,1233.6L969.4,1234.6L971.7,1235.6L974.0,1236.5L976.3,1237.3L978.6,1238.1L981.0,1238.9L983.4,1239.6L985.9,1240.3L988.3,1240.9L990.8,1241.5L993.2,1242.1L995.7,1242.5L998.3,1243.0L1000.8,1243.4L1003.3,1243.7L1005.9,1244.0L1008.4,1244.2L1011.0,1244.4L1013.6,1244.5L1016.1,1244.6L1018.7,1244.7L1021.3,1244.7L1023.8,1244.6L1026.4,1244.5L1029.0,1244.3L1031.5,1244.1L1034.1,1243.8L1036.6,1243.5L1039.2,1243.1L1041.7,1242.7L1044.2,1242.2L1046.7,1241.7L1049.2,1241.1L1051.7,1240.5L1054.1,1239.8L1056.5,1239.1L1058.9,1238.3L1061.3,1237.5L1063.7,1236.6L1066.0,1235.6L1068.3,1234.6L1070.6,1233.6L1072.8,1232.5L1075.0,1231.3L1077.2,1230.1L1079.3,1228.8L1081.5,1227.5L1083.5,1226.1L1085.6,1224.7L1087.6,1223.3L1089.6,1221.8L1091.5,1220.2L1093.4,1218.6L1095.3,1217.0L1097.1,1215.3L1099.0,1213.6L1100.7,1211.9L1102.5,1210.1L1104.2,1208.3L1105.8,1206.4L1107.4,1204.5L1109.0,1202.6L1110.6,1200.6L1112.1,1198.6L1113.6,1196.6L1115.0,1194.6L1116.4,1192.5L1117.8,1190.4L1119.1,1188.3L1120.4,1186.1L1121.7,1183.9L1122.9,1181.7L1124.0,1179.5L1125.2,1177.3L1126.3,1175.0L1127.3,1172.8L1128.3,1170.5L1129.3,1168.2L1130.2,1165.8L1131.1,1163.5L1131.9,1161.2L1132.8,1158.8L1133.5,1156.4L1134.3,1154.0L1135.0,1151.6L1135.7,1149.2L1136.3,1146.8L1137.0,1144.4L1137.6,1141.9L1138.1,1139.5L1138.7,1137.0L1139.2,1134.5L1139.7,1132.1L1140.2,1129.6L1140.7,1127.1L1141.1,1124.6L1141.6,1122.1L1142.0,1119.6L1142.4,1117.1L1142.8,1114.6L1143.1,1112.1L1143.5,1109.6L1143.9,1107.0L1144.2,1104.5L1144.6,1102.0L1144.9,1099.5L1145.2,1097.0L1145.6,1094.4L1145.9,1091.9L1146.2,1089.4L1146.6,1086.9L1146.9,1084.4L1147.2,1081.9L1147.6,1079.3L1147.9,1076.8L1148.2,1074.3L1148.5,1071.8L1148.9,1069.3L1149.2,1066.8L1149.5,1064.3L1149.8,1061.8L1150.1,1059.3L1150.5,1056.8L1150.8,1054.3L1151.1,1051.7L1151.4,1049.2L1151.7,1046.7L1152.0,1044.2L1152.3,1041.7L1152.6,1039.2L1153.0,1036.7L1153.3,1034.2L1153.6,1031.7L1153.9,1029.2L1154.2,1026.7L1154.5,1024.3L1154.8,1021.8L1155.1,1019.3L1155.4,1016.8L1155.7,1014.3L1156.0,1011.8L1156.3,1009.3L1156.6,1006.8L1156.9,1004.3L1157.2,1001.8L1157.5,999.3L1157.8,996.8L1158.1,994.3L1158.4,991.9L1158.7,989.4L1159.0,986.9L1159.3,984.4L1159.6,981.9L1159.9,979.4L1160.1,976.9L1160.4,974.4L1160.7,972.0L1161.0,969.5L1161.3,967.0L1161.6,964.5L1161.9,962.0L1162.2,959.5L1162.5,957.0L1162.8,954.6L1163.1,952.1L1163.3,949.6L1163.6,947.1L1163.9,944.6L1164.2,942.1L1164.5,939.6L1164.8,937.2L1165.1,934.7L1165.4,932.2L1165.7,929.7L1165.9,927.2L1166.2,924.7L1166.5,922.2L1166.8,919.8L1167.1,917.3L1167.4,914.8L1167.7,912.3L1168.0,909.8L1168.3,907.3L1168.5,904.9L1168.8,902.4L1169.1,899.9L1169.4,897.4L1169.7,894.9L1170.0,892.4L1170.3,889.9L1170.6,887.4L1170.9,885.0L1171.2,882.5L1171.4,880.0L1171.7,877.5L1172.0,875.0L1172.3,872.5L1172.6,870.0L1172.9,867.5L1173.2,865.0L1173.5,862.6L1173.8,860.1L1174.1,857.6L1174.4,855.1L1174.7,852.6L1174.9,850.1L1175.2,847.6L1175.5,845.1L1175.8,842.6L1176.1,840.1L1176.4,837.6L1176.7,835.2L1177.0,832.7L1177.3,830.2L1177.6,827.7L1177.8,825.2L1178.1,822.7L1178.4,820.2L1178.7,817.7L1179.0,815.2L1179.3,812.7L1179.6,810.2L1179.9,807.7L1180.1,805.2L1180.4,802.7L1180.7,800.2L1181.0,797.8L1181.3,795.3L1181.6,792.8L1181.8,790.3L1182.1,787.8L1182.4,785.3L1182.7,782.8L1183.0,780.3L1183.2,777.8L1183.5,775.3L1183.8,772.8L1184.1,770.3L1184.4,767.8L1184.6,765.3L1184.9,762.8L1185.2,760.3L1185.4,757.8L1185.7,755.3L1186.0,752.8L1186.3,750.3L1186.5,747.8L1186.8,745.3L1187.1,742.8L1187.3,740.3L1187.6,737.8L1187.9,735.3L1188.1,732.8L1188.4,730.3L1188.7,727.8L1188.9,725.3L1189.2,722.8L1189.4,720.3L1189.7,717.8L1189.9,715.3L1190.2,712.8L1190.5,710.3L1190.7,707.8L1191.0,705.3L1191.2,702.8L1191.5,700.3L1191.7,697.8L1192.0,695.3L1192.2,692.8L1192.4,690.3L1192.7,687.8L1192.9,685.3L1193.2,682.8L1193.4,680.3L1193.6,677.8L1193.9,675.3L1194.1,672.8L1194.3,670.3L1194.6,667.8L1194.8,665.3L1195.0,662.8L1195.3,660.3L1195.5,657.8L1195.7,655.3L1195.9,652.8L1196.1,650.3L1196.4,647.8L1196.6,645.3L1196.8,642.8L1197.0,640.3L1197.2,637.8L1197.4,635.3L1197.6,632.8L1197.8,630.3L1198.0,627.8L1198.2,625.3L1198.4,622.8L1198.6,620.3L1198.8,617.7L1199.0,615.2L1199.2,612.7L1199.4,610.2L1199.6,607.7L1199.8,605.2L1200.0,602.7L1200.2,600.2L1200.3,597.7L1200.5,595.2L1200.7,592.7L1200.9,590.2L1201.0,587.7L1201.2,585.2L1201.4,582.7L1201.5,580.2L1201.7,577.7L1201.9,575.2L1202.0,572.7L1202.2,570.2L1202.3,567.7L1202.5,565.1L1202.6,562.6L1202.8,560.1L1202.9,557.6L1203.1,555.1L1203.2,552.6L1203.4,550.1L1203.5,547.6L1203.6,545.1L1203.8,542.6L1203.9,540.1L1204.0,537.6L1204.1,535.1L1204.3,532.6L1204.4,530.1L1204.5,527.6L1204.6,525.1L1204.7,522.6L1204.8,520.0L1204.9,517.5L1205.0,515.0L1205.1,513.3"/>
<path d="M775.5,980.5L776.2,982.9L776.8,985.4L777.4,987.8L778.0,990.3L778.6,992.7L779.2,995.2L779.8,997.6L780.4,1000.1L781.0,1002.5L781.5,1005.0L782.1,1007.5L782.6,1009.9L783.2,1012.4L783.7,1014.9L784.2,1017.3L784.7,1019.8L785.3,1022.3L785.8,1024.8L786.3,1027.2L786.8,1029.7L787.4,1032.2L787.9,1034.7L788.4,1037.2L788.9,1039.6L789.5,1042.1L790.0,1044.6L790.5,1047.1L791.1,1049.5L791.6,1052.0L792.2,1054.5L792.7,1056.9L793.3,1059.4L793.9,1061.9L794.5,1064.3L795.1,1066.8L795.7,1069.2L796.3,1071.7L796.9,1074.1L797.6,1076.6L798.2,1079.0L798.9,1081.5L799.6,1083.9L800.3,1086.3L801.0,1088.7L801.8,1091.2L802.5,1093.6L803.3,1096.0L804.0,1098.4L804.8,1100.8L805.6,1103.2L806.5,1105.6L807.3,1107.9L808.2,1110.3L809.0,1112.7L809.9,1115.0L810.8,1117.4L811.7,1119.8L812.7,1122.1L813.6,1124.4L814.6,1126.8L815.6,1129.1L816.6,1131.4L817.6,1133.7L818.6,1136.0L819.6,1138.3L820.7,1140.6L821.8,1142.9L822.9,1145.2L824.0,1147.4L825.1,1149.7L826.3,1151.9L827.4,1154.2L828.6,1156.4L829.8,1158.6L831.1,1160.8L832.3,1163.0L833.5,1165.2L834.8,1167.4L836.1,1169.6L837.4,1171.7L838.7,1173.9L840.1,1176.0L841.4,1178.2L842.8,1180.3L844.2,1182.4L845.6,1184.5L847.1,1186.6L848.5,1188.7L850.0,1190.8L851.5,1192.8L853.0,1194.9L854.5,1196.9L856.1,1198.9L857.6,1200.9L859.2,1202.9L860.8,1204.9L862.5,1206.9L864.1,1208.9L865.8,1210.8L867.4,1212.7L869.1,1214.6L870.9,1216.5L872.6,1218.4L874.4,1220.3L876.1,1222.1L877.9,1223.9L879.7,1225.7L881.6,1227.5L883.4,1229.3L885.3,1231.0L887.2,1232.7L889.1,1234.4L891.0,1236.1L892.9,1237.7L894.9,1239.4L896.8,1240.9L898.8,1242.5L900.8,1244.0L902.9,1245.6L904.9,1247.0L907.0,1248.5L909.0,1249.9L911.1,1251.3L913.3,1252.7L915.4,1254.0L917.5,1255.3L919.7,1256.6L921.9,1257.8L924.1,1259.0L926.3,1260.2L928.5,1261.3L930.8,1262.4L933.0,1263.5L935.3,1264.5L937.6,1265.5L939.9,1266.4L942.3,1267.3L944.6,1268.2L947.0,1269.0L949.4,1269.8L951.8,1270.5L954.2,1271.2L956.6,1271.9L958.4,1272.3"/>
<path d="M775.0,980.5L775.2,983.0L775.4,985.5L775.5,988.1L775.7,990.6L775.9,993.1L776.0,995.6L776.2,998.1L776.4,1000.7L776.6,1003.2L776.7,1005.7L776.9,1008.2L777.1,1010.7L777.3,1013.3L777.5,1015.8L777.7,1018.3L777.9,1020.8L778.1,1023.3L778.3,1025.8L778.6,1028.4L778.8,1030.9L779.1,1033.4L779.4,1035.9L779.6,1038.4L779.9,1040.9L780.2,1043.4L780.5,1045.9L780.9,1048.4L781.2,1050.8L781.6,1053.3L782.0,1055.8L782.4,1058.3L782.8,1060.7L783.2,1063.2L783.7,1065.7L784.2,1068.1L784.7,1070.6L785.2,1073.0L785.7,1075.5L786.3,1077.9L786.9,1080.3L787.5,1082.7L788.1,1085.1L788.8,1087.6L789.5,1090.0L790.2,1092.3L790.9,1094.7L791.7,1097.1L792.4,1099.5L793.2,1101.9L794.0,1104.2L794.9,1106.6L795.7,1109.0L796.6,1111.3L797.4,1113.7L798.3,1116.0L799.2,1118.4L800.2,1120.7L801.1,1123.0L802.1,1125.4L803.0,1127.7L804.0,1130.0L805.0,1132.3L806.0,1134.6L807.0,1136.9L808.0,1139.3L809.0,1141.6L810.1,1143.9L811.1,1146.2L812.2,1148.5L813.2,1150.7L814.3,1153.0L815.4,1155.3L816.4,1157.6L817.5,1159.9L818.6,1162.2L819.7,1164.4L820.8,1166.7L821.9,1169.0L823.0,1171.3L824.1,1173.5L825.2,1175.8L826.3,1178.1L827.4,1180.3L828.5,1182.6L829.6,1184.8L830.8,1187.1L831.9,1189.3L833.0,1191.6L834.2,1193.8L835.3,1196.1L836.5,1198.3L837.6,1200.5L838.8,1202.8L840.0,1205.0L841.2,1207.2L842.4,1209.4L843.6,1211.6L844.8,1213.8L846.0,1216.0L847.2,1218.2L848.5,1220.4L849.7,1222.6L851.0,1224.8L852.2,1226.9L853.5,1229.1L854.8,1231.3L856.1,1233.4L857.4,1235.6L858.7,1237.7L860.1,1239.9L861.4,1242.0L862.8,1244.1L864.2,1246.2L865.5,1248.3L866.9,1250.5L868.4,1252.5L869.8,1254.6L871.2,1256.7L872.7,1258.8L874.2,1260.9L875.7,1262.9L877.2,1265.0L878.7,1267.0L880.2,1269.0L881.8,1271.1L883.3,1273.1L884.9,1275.0L886.5,1277.0L888.2,1279.0L889.8,1280.9L891.5,1282.8L893.2,1284.7L894.9,1286.5L896.6,1288.4L898.3,1290.2L900.1,1292.0L901.9,1293.7L903.7,1295.5L905.5,1297.2L907.4,1298.8L909.3,1300.5L911.2,1302.1L913.1,1303.6L915.1,1305.2L917.0,1306.7L919.0,1308.1L921.1,1309.5L923.1,1310.9L925.2,1312.2L927.3,1313.5L929.5,1314.7L931.6,1315.9L933.8,1317.0L936.0,1318.1L938.3,1319.1L940.6,1320.1L942.9,1321.1L945.2,1321.9L947.6,1322.7L950.0,1323.5L952.0,1324.1"/>
<path d="M775.5,980.5L776.0,982.9L776.4,985.4L776.9,987.8L777.3,990.3L777.8,992.7L778.2,995.2L778.6,997.6L779.1,1000.1L779.5,1002.6L779.9,1005.0L780.3,1007.5L780.7,1010.0L781.1,1012.5L781.4,1015.0L781.8,1017.4L782.2,1019.9L782.6,1022.4L782.9,1024.9L783.3,1027.4L783.7,1029.9L784.0,1032.4L784.4,1034.9L784.7,1037.4L785.1,1039.9L785.4,1042.4L785.8,1044.9L786.2,1047.4L786.5,1049.9L786.9,1052.4L787.2,1054.9L787.6,1057.4L787.9,1059.9L788.3,1062.4L788.6,1064.9L789.0,1067.4L789.4,1070.0L789.7,1072.5L790.1,1075.0L790.5,1077.5L790.8,1080.0L791.2,1082.5L791.6,1085.0L792.0,1087.5L792.4,1090.0L792.8,1092.5L793.2,1095.0L793.6,1097.5L794.0,1100.0L794.4,1102.5L794.9,1105.0L795.3,1107.4L795.7,1109.9L796.2,1112.4L796.7,1114.9L797.1,1117.4L797.6,1119.9L798.1,1122.3L798.6,1124.8L799.1,1127.3L799.6,1129.7L800.1,1132.2L800.7,1134.6L801.2,1137.1L801.8,1139.5L802.4,1142.0L803.0,1144.4L803.6,1146.9L804.2,1149.3L804.8,1151.7L805.4,1154.2L806.1,1156.6L806.8,1159.0L807.4,1161.4L808.1,1163.8L808.8,1166.2L809.6,1168.6L810.3,1171.0L811.1,1173.4L811.8,1175.8L812.6,1178.1L813.4,1180.5L814.3,1182.9L815.1,1185.2L816.0,1187.6L816.9,1189.9L817.8,1192.2L818.7,1194.6L819.6,1196.9L820.5,1199.2L821.5,1201.5L822.5,1203.8L823.5,1206.1L824.5,1208.4L825.6,1210.6L826.6,1212.9L827.7,1215.2L828.8,1217.4L829.9,1219.7L831.0,1221.9L832.2,1224.1L833.3,1226.4L834.5,1228.6L835.7,1230.8L836.9,1233.0L838.2,1235.1L839.4,1237.3L840.7,1239.5L842.0,1241.6L843.3,1243.8L844.6,1245.9L845.9,1248.1L847.3,1250.2L848.6,1252.3L850.0,1254.5L851.3,1256.6L852.7,1258.7L854.0,1260.9L855.4,1263.0L856.7,1265.2L858.0,1267.3L859.3,1269.5L860.6,1271.6L861.9,1273.8L863.1,1276.0L864.4,1278.2L865.6,1280.4L866.8,1282.6L868.0,1284.9L869.2,1287.1L870.4,1289.3L871.6,1291.5L872.8,1293.8L873.9,1296.0L875.1,1298.2L876.3,1300.5L877.4,1302.7L878.6,1304.9L879.7,1307.2L880.9,1309.4L882.1,1311.6L883.3,1313.8L884.5,1315.9L885.7,1318.1L886.9,1320.2L888.2,1322.3L889.5,1324.4L890.8,1326.5L892.2,1328.5L893.6,1330.5L895.0,1332.5L896.5,1334.5L898.0,1336.4L899.6,1338.3L901.2,1340.1L902.8,1341.9L904.5,1343.7L906.2,1345.5L908.0,1347.3L909.8,1349.0L911.6,1350.7L913.4,1352.3L915.3,1354.0L917.3,1355.6L919.2,1357.2L921.2,1358.8L923.2,1360.4L925.3,1361.9L927.3,1363.4L929.5,1364.9L931.6,1366.3L933.7,1367.7L935.9,1369.1L938.1,1370.5L940.4,1371.8L942.6,1373.1L944.9,1374.3L947.2,1375.5L949.5,1376.7L951.8,1377.8L954.1,1378.9L956.5,1379.9L958.9,1380.9L961.2,1381.9L963.6,1382.8L966.1,1383.7L968.5,1384.5L970.9,1385.2L973.3,1385.9L975.8,1386.6L978.2,1387.2L980.7,1387.7L983.2,1388.2L985.6,1388.6L988.1,1389.0L990.6,1389.4L993.1,1389.7L995.6,1389.9L998.1,1390.1L1000.6,1390.2L1003.0,1390.3L1005.5,1390.4L1008.0,1390.4L1010.5,1390.3L1013.0,1390.2L1015.5,1390.1L1018.0,1389.9L1020.5,1389.6L1022.9,1389.4L1025.4,1389.0L1027.9,1388.7L1030.4,1388.3L1032.8,1387.8L1035.3,1387.3L1037.7,1386.8L1040.1,1386.2L1042.6,1385.6L1045.0,1384.9L1047.4,1384.2L1049.8,1383.4L1052.2,1382.6L1054.6,1381.8L1056.9,1381.0L1059.3,1380.1L1061.6,1379.1L1063.9,1378.1L1066.3,1377.1L1068.5,1376.1L1070.8,1375.0L1073.1,1373.9L1075.3,1372.7L1077.6,1371.5L1079.8,1370.3L1082.0,1369.0L1084.1,1367.7L1086.3,1366.4L1088.4,1365.0L1090.5,1363.6L1092.6,1362.2L1094.7,1360.8L1096.7,1359.3L1098.8,1357.8L1100.8,1356.2L1102.7,1354.7L1104.7,1353.0L1106.6,1351.4L1108.5,1349.8L1110.4,1348.1L1112.2,1346.4L1114.0,1344.6L1115.8,1342.8L1117.5,1341.1L1119.3,1339.2L1121.0,1337.4L1122.6,1335.5L1124.3,1333.6L1125.9,1331.7L1127.4,1329.8L1128.9,1327.8L1130.4,1325.8L1131.9,1323.8L1133.3,1321.8L1134.7,1319.8L1136.1,1317.7L1137.4,1315.6L1138.7,1313.5L1139.9,1311.4L1141.1,1309.2L1142.3,1307.1L1143.4,1304.9L1144.5,1302.7L1145.6,1300.5L1146.6,1298.2L1147.6,1296.0L1148.6,1293.7L1149.5,1291.4L1150.5,1289.2L1151.3,1286.8L1152.2,1284.5L1153.0,1282.2L1153.8,1279.8L1154.6,1277.5L1155.4,1275.1L1156.1,1272.7L1156.9,1270.3L1157.5,1267.9L1158.2,1265.5L1158.9,1263.1L1159.5,1260.6L1160.1,1258.2L1160.7,1255.8L1161.3,1253.3L1161.9,1250.8L1162.5,1248.3L1163.0,1245.9L1163.5,1243.4L1164.1,1240.9L1164.6,1238.4L1165.1,1235.9L1165.6,1233.4L1166.1,1230.8L1166.5,1228.3L1167.0,1225.8L1167.5,1223.3L1167.9,1220.7L1168.4,1218.2L1168.8,1215.7L1169.3,1213.1L1169.8,1210.6L1170.2,1208.1L1170.7,1205.5L1171.1,1203.0L1171.6,1200.5L1172.0,1197.9L1172.5,1195.4L1173.0,1192.9L1173.4,1190.3L1173.9,1187.8L1174.4,1185.3L1174.9,1182.8L1175.4,1180.3L1175.9,1177.8L1176.4,1175.3L1177.0,1172.8L1177.5,1170.3L1178.1,1167.8L1178.7,1165.3L1179.3,1162.8L1179.9,1160.4L1180.5,1157.9L1181.1,1155.5L1181.8,1153.0L1182.5,1150.6L1183.2,1148.2L1183.9,1145.8L1184.7,1143.4L1185.4,1141.0L1186.2,1138.6L1187.1,1136.3L1187.9,1133.9L1188.8,1131.6L1189.7,1129.3L1190.6,1127.0L1191.5,1124.7L1192.5,1122.4L1193.5,1120.1L1194.6,1117.9L1195.7,1115.6L1196.8,1113.4L1197.5,1112.0"/>
<path d="M776.0,980.5L776.5,982.9L777.0,985.4L777.4,987.8L777.9,990.2L778.4,992.7L778.8,995.1L779.2,997.6L779.7,1000.0L780.1,1002.5L780.5,1004.9L780.9,1007.4L781.3,1009.9L781.7,1012.3L782.1,1014.8L782.4,1017.3L782.8,1019.8L783.2,1022.3L783.5,1024.7L783.9,1027.2L784.2,1029.7L784.6,1032.2L784.9,1034.7L785.3,1037.2L785.6,1039.7L785.9,1042.2L786.2,1044.7L786.5,1047.2L786.9,1049.7L787.2,1052.2L787.5,1054.7L787.8,1057.2L788.1,1059.8L788.4,1062.3L788.7,1064.8L789.0,1067.3L789.3,1069.8L789.6,1072.3L789.9,1074.9L790.2,1077.4L790.5,1079.9L790.8,1082.4L791.1,1085.0L791.3,1087.5L791.6,1090.0L791.9,1092.5L792.2,1095.0L792.5,1097.6L792.8,1100.1L793.1,1102.6L793.4,1105.1L793.7,1107.7L794.0,1110.2L794.3,1112.7L794.7,1115.2L795.0,1117.8L795.3,1120.3L795.6,1122.8L795.9,1125.3L796.3,1127.8L796.6,1130.4L796.9,1132.9L797.3,1135.4L797.6,1137.9L798.0,1140.4L798.3,1142.9L798.7,1145.4L799.1,1147.9L799.4,1150.4L799.8,1152.9L800.2,1155.5L800.6,1158.0L801.0,1160.4L801.4,1162.9L801.8,1165.4L802.3,1167.9L802.7,1170.4L803.2,1172.9L803.6,1175.4L804.1,1177.9L804.5,1180.3L805.0,1182.8L805.5,1185.3L806.0,1187.8L806.5,1190.2L807.0,1192.7L807.6,1195.1L808.1,1197.6L808.6,1200.0L809.2,1202.5L809.8,1204.9L810.4,1207.4L811.0,1209.8L811.6,1212.2L812.2,1214.7L812.8,1217.1L813.5,1219.5L814.1,1221.9L814.8,1224.3L815.5,1226.7L816.2,1229.1L816.9,1231.5L817.6,1233.9L818.4,1236.3L819.1,1238.7L819.9,1241.1L820.7,1243.5L821.5,1245.8L822.3,1248.2L823.2,1250.5L824.0,1252.9L824.9,1255.2L825.8,1257.6L826.7,1259.9L827.6,1262.2L828.5,1264.5L829.5,1266.9L830.4,1269.2L831.4,1271.5L832.4,1273.8L833.4,1276.1L834.5,1278.3L835.5,1280.6L836.6,1282.9L837.7,1285.2L838.8,1287.4L839.9,1289.7L841.0,1291.9L842.2,1294.1L843.4,1296.4L844.5,1298.6L845.7,1300.8L846.9,1303.0L848.1,1305.2L849.4,1307.4L850.6,1309.6L851.9,1311.8L853.2,1314.0L854.5,1316.2L855.8,1318.3L857.1,1320.5L858.4,1322.6L859.8,1324.8L861.1,1326.9L862.5,1329.0L863.9,1331.1L865.3,1333.3L866.7,1335.4L868.1,1337.5L869.5,1339.6L870.9,1341.6L872.4,1343.7L873.9,1345.8L875.3,1347.8L876.8,1349.9L878.3,1351.9L879.8,1354.0L881.3,1356.0L882.9,1358.0L884.4,1360.0L885.9,1362.0L887.5,1364.0L889.1,1366.0L890.6,1368.0L892.2,1369.9L893.8,1371.9L895.5,1373.8L897.1,1375.8L898.7,1377.7L900.4,1379.6L902.0,1381.5L903.7,1383.3L905.4,1385.2L907.1,1387.0L908.8,1388.9L910.5,1390.7L912.2,1392.5L914.0,1394.2L915.7,1396.0L917.5,1397.7L919.3,1399.5L921.1,1401.2L922.9,1402.8L924.8,1404.5L926.7,1406.1L928.6,1407.6L930.5,1409.1L932.0,1410.2"/>
<path d="M776.5,980.5L776.8,983.0L777.1,985.5L777.3,987.9L777.6,990.4L777.9,992.9L778.2,995.4L778.4,997.9L778.7,1000.3L779.0,1002.8L779.2,1005.3L779.5,1007.8L779.8,1010.3L780.0,1012.8L780.3,1015.3L780.5,1017.8L780.8,1020.3L781.1,1022.8L781.3,1025.3L781.6,1027.8L781.8,1030.3L782.1,1032.8L782.4,1035.3L782.6,1037.8L782.9,1040.3L783.1,1042.8L783.4,1045.3L783.7,1047.8L783.9,1050.3L784.2,1052.8L784.5,1055.4L784.7,1057.9L785.0,1060.4L785.3,1062.9L785.5,1065.4L785.8,1067.9L786.1,1070.4L786.4,1072.9L786.6,1075.4L786.9,1077.9L787.2,1080.4L787.5,1082.9L787.8,1085.5L788.1,1088.0L788.4,1090.5L788.7,1093.0L789.0,1095.5L789.3,1098.0L789.6,1100.5L789.9,1103.0L790.2,1105.5L790.6,1108.0L790.9,1110.5L791.2,1113.0L791.6,1115.5L791.9,1118.0L792.2,1120.5L792.6,1123.0L793.0,1125.5L793.3,1128.0L793.7,1130.5L794.0,1133.0L794.4,1135.5L794.8,1138.0L795.2,1140.5L795.6,1143.0L796.0,1145.4L796.4,1147.9L796.8,1150.4L797.2,1152.9L797.6,1155.4L798.1,1157.9L798.5,1160.3L798.9,1162.8L799.4,1165.3L799.9,1167.7L800.3,1170.2L800.8,1172.7L801.3,1175.1L801.8,1177.6L802.3,1180.1L802.8,1182.5L803.3,1185.0L803.8,1187.4L804.3,1189.9L804.9,1192.3L805.4,1194.8L806.0,1197.2L806.5,1199.6L807.1,1202.1L807.7,1204.5L808.3,1206.9L808.9,1209.4L809.5,1211.8L810.1,1214.2L810.7,1216.6L811.4,1219.0L812.0,1221.5L812.7,1223.9L813.3,1226.3L814.0,1228.7L814.7,1231.1L815.4,1233.5L816.1,1235.9L816.8,1238.2L817.6,1240.6L818.3,1243.0L819.1,1245.4L819.8,1247.8L820.6,1250.1L821.4,1252.5L822.2,1254.9L823.0,1257.2L823.9,1259.6L824.7,1261.9L825.6,1264.3L826.4,1266.6L827.3,1268.9L828.2,1271.3L829.1,1273.6L830.0,1275.9L830.9,1278.2L831.9,1280.6L832.8,1282.9L833.7,1285.2L834.7,1287.5L835.7,1289.8L836.7,1292.1L837.7,1294.4L838.6,1296.7L839.6,1299.0L840.7,1301.3L841.7,1303.6L842.7,1305.9L843.7,1308.2L844.7,1310.5L845.8,1312.8L846.8,1315.1L847.9,1317.4L848.9,1319.7L849.9,1322.0L851.0,1324.3L852.0,1326.6L853.1,1328.9L854.2,1331.2L855.2,1333.5L856.3,1335.8L857.3,1338.1L858.4,1340.4L859.4,1342.7L860.5,1345.0L861.5,1347.4L862.5,1349.7L863.6,1352.0L864.6,1354.3L865.6,1356.7L866.7,1359.0L867.7,1361.3L868.7,1363.7L869.7,1366.0L870.7,1368.4L871.7,1370.8L872.7,1373.1L873.7,1375.5L874.6,1377.9L875.6,1380.3L876.6,1382.7L877.5,1385.0L878.5,1387.4L879.5,1389.8L880.4,1392.2L881.4,1394.6L882.4,1396.9L883.3,1399.3L884.3,1401.6L885.3,1404.0L886.4,1406.3L887.4,1408.6L888.4,1410.9L889.5,1413.2L890.6,1415.5L891.7,1417.7L892.8,1419.9L894.0,1422.1L895.1,1424.3L896.3,1426.5L897.6,1428.6L898.8,1430.7L900.1,1432.8L901.5,1434.8L902.8,1436.8L904.2,1438.8L905.7,1440.7L907.1,1442.6L908.7,1444.5L910.2,1446.3L911.9,1448.1L913.5,1449.8L915.2,1451.5L917.0,1453.1L918.8,1454.7L920.7,1456.3L922.6,1457.8L924.6,1459.2L926.6,1460.6L928.7,1462.0L930.6,1463.1"/>
<path d="M777.0,980.5L777.3,983.0L777.7,985.4L778.0,987.9L778.3,990.4L778.6,992.8L779.0,995.3L779.3,997.8L779.6,1000.3L779.9,1002.7L780.3,1005.2L780.6,1007.7L780.9,1010.2L781.2,1012.7L781.6,1015.1L781.9,1017.6L782.2,1020.1L782.5,1022.6L782.9,1025.1L783.2,1027.6L783.5,1030.1L783.8,1032.6L784.2,1035.0L784.5,1037.5L784.8,1040.0L785.1,1042.5L785.5,1045.0L785.8,1047.5L786.1,1050.0L786.5,1052.5L786.8,1055.0L787.1,1057.5L787.4,1060.0L787.8,1062.5L788.1,1065.0L788.4,1067.5L788.8,1070.0L789.1,1072.5L789.4,1075.0L789.8,1077.5L790.1,1080.0L790.5,1082.5L790.8,1085.0L791.1,1087.5L791.5,1090.0L791.8,1092.5L792.2,1095.0L792.5,1097.5L792.9,1100.0L793.2,1102.5L793.6,1105.0L793.9,1107.5L794.3,1110.0L794.6,1112.5L795.0,1115.0L795.4,1117.5L795.7,1120.0L796.1,1122.5L796.5,1125.0L796.8,1127.5L797.2,1130.0L797.6,1132.5L798.0,1135.0L798.3,1137.5L798.7,1140.0L799.1,1142.5L799.5,1145.0L799.9,1147.5L800.3,1150.0L800.7,1152.6L801.1,1155.1L801.5,1157.6L801.9,1160.1L802.3,1162.6L802.7,1165.1L803.1,1167.6L803.5,1170.1L803.9,1172.6L804.3,1175.0L804.8,1177.5L805.2,1180.0L805.6,1182.5L806.0,1185.0L806.5,1187.5L806.9,1190.0L807.4,1192.5L807.8,1195.0L808.3,1197.5L808.7,1200.0L809.2,1202.5L809.6,1205.0L810.1,1207.5L810.5,1210.0L811.0,1212.4L811.5,1214.9L812.0,1217.4L812.5,1219.9L812.9,1222.4L813.4,1224.9L813.9,1227.3L814.4,1229.8L814.9,1232.3L815.4,1234.8L815.9,1237.3L816.5,1239.7L817.0,1242.2L817.5,1244.7L818.0,1247.2L818.6,1249.6L819.1,1252.1L819.6,1254.6L820.2,1257.0L820.7,1259.5L821.3,1262.0L821.9,1264.4L822.4,1266.9L823.0,1269.3L823.6,1271.8L824.2,1274.3L824.7,1276.7L825.3,1279.2L825.9,1281.6L826.5,1284.1L827.1,1286.5L827.7,1289.0L828.4,1291.4L829.0,1293.9L829.6,1296.3L830.2,1298.8L830.9,1301.2L831.5,1303.6L832.2,1306.1L832.8,1308.5L833.5,1310.9L834.2,1313.4L834.8,1315.8L835.5,1318.2L836.2,1320.6L836.9,1323.1L837.6,1325.5L838.3,1327.9L839.0,1330.3L839.7,1332.7L840.4,1335.1L841.2,1337.6L841.9,1340.0L842.6,1342.4L843.4,1344.8L844.1,1347.2L844.9,1349.6L845.7,1352.0L846.4,1354.4L847.2,1356.8L848.0,1359.2L848.8,1361.5L849.6,1363.9L850.4,1366.3L851.2,1368.7L852.1,1371.1L852.9,1373.4L853.7,1375.8L854.6,1378.2L855.4,1380.6L856.3,1382.9L857.1,1385.3L858.0,1387.7L858.9,1390.0L859.8,1392.4L860.7,1394.7L861.6,1397.1L862.5,1399.4L863.4,1401.8L864.3,1404.1L865.3,1406.4L866.2,1408.8L867.2,1411.1L868.1,1413.4L869.1,1415.7L870.1,1418.0L871.1,1420.3L872.1,1422.6L873.1,1424.9L874.1,1427.2L875.2,1429.5L876.2,1431.8L877.3,1434.0L878.4,1436.3L879.5,1438.5L880.6,1440.8L881.7,1443.0L882.9,1445.3L884.0,1447.5L885.2,1449.7L886.4,1451.9L887.6,1454.1L888.8,1456.3L890.0,1458.4L891.3,1460.6L892.6,1462.7L893.8,1464.9L895.1,1467.0L896.5,1469.1L897.8,1471.2L899.2,1473.3L900.5,1475.4L901.9,1477.5L903.4,1479.5L904.8,1481.6L906.2,1483.6L907.7,1485.6L909.2,1487.6L910.7,1489.6L912.3,1491.6L913.8,1493.6L915.4,1495.5L917.0,1497.5L918.6,1499.4L920.3,1501.3L921.5,1502.7"/>
<path d="M777.5,980.5L777.8,983.0L778.0,985.5L778.3,988.0L778.5,990.5L778.8,993.0L779.0,995.5L779.3,998.0L779.5,1000.5L779.8,1003.0L780.0,1005.5L780.3,1008.0L780.5,1010.5L780.8,1013.0L781.0,1015.5L781.3,1018.1L781.5,1020.6L781.8,1023.1L782.1,1025.6L782.3,1028.1L782.6,1030.6L782.8,1033.1L783.1,1035.6L783.3,1038.1L783.6,1040.6L783.9,1043.1L784.1,1045.6L784.4,1048.1L784.6,1050.6L784.9,1053.1L785.2,1055.6L785.4,1058.1L785.7,1060.6L786.0,1063.1L786.2,1065.6L786.5,1068.1L786.8,1070.6L787.0,1073.1L787.3,1075.6L787.6,1078.1L787.9,1080.6L788.1,1083.1L788.4,1085.6L788.7,1088.1L789.0,1090.6L789.3,1093.1L789.5,1095.7L789.8,1098.2L790.1,1100.7L790.4,1103.2L790.7,1105.7L791.0,1108.2L791.3,1110.7L791.6,1113.2L791.9,1115.7L792.1,1118.2L792.4,1120.6L792.7,1123.1L793.1,1125.6L793.4,1128.1L793.7,1130.6L794.0,1133.1L794.3,1135.6L794.6,1138.1L794.9,1140.6L795.2,1143.1L795.5,1145.6L795.9,1148.1L796.2,1150.6L796.5,1153.1L796.8,1155.6L797.2,1158.1L797.5,1160.6L797.8,1163.1L798.2,1165.6L798.5,1168.1L798.9,1170.5L799.2,1173.0L799.5,1175.5L799.9,1178.0L800.2,1180.5L800.6,1183.0L801.0,1185.5L801.3,1188.0L801.7,1190.5L802.0,1192.9L802.4,1195.4L802.8,1197.9L803.2,1200.4L803.5,1202.9L803.9,1205.4L804.3,1207.9L804.7,1210.3L805.1,1212.8L805.5,1215.3L805.9,1217.8L806.3,1220.3L806.7,1222.7L807.1,1225.2L807.5,1227.7L807.9,1230.2L808.3,1232.7L808.7,1235.1L809.1,1237.6L809.6,1240.1L810.0,1242.6L810.4,1245.0L810.9,1247.5L811.3,1250.0L811.8,1252.5L812.2,1254.9L812.7,1257.4L813.1,1259.9L813.6,1262.3L814.0,1264.8L814.5,1267.3L815.0,1269.7L815.4,1272.2L815.9,1274.7L816.4,1277.1L816.9,1279.6L817.4,1282.1L817.9,1284.5L818.4,1287.0L818.9,1289.4L819.4,1291.9L819.9,1294.4L820.4,1296.8L820.9,1299.3L821.4,1301.7L822.0,1304.2L822.5,1306.6L823.0,1309.1L823.6,1311.6L824.1,1314.0L824.7,1316.5L825.2,1318.9L825.8,1321.4L826.4,1323.8L826.9,1326.2L827.5,1328.7L828.1,1331.1L828.7,1333.6L829.3,1336.0L829.8,1338.5L830.4,1340.9L831.0,1343.4L831.7,1345.8L832.3,1348.2L832.9,1350.7L833.5,1353.1L834.1,1355.5L834.8,1358.0L835.4,1360.4L836.1,1362.8L836.7,1365.3L837.4,1367.7L838.0,1370.1L838.7,1372.6L839.4,1375.0L840.0,1377.4L840.7,1379.8L841.4,1382.3L842.1,1384.7L842.8,1387.1L843.5,1389.5L844.2,1391.9L844.9,1394.3L845.6,1396.8L846.4,1399.2L847.1,1401.6L847.8,1404.0L848.6,1406.4L849.3,1408.8L850.1,1411.2L850.8,1413.6L851.6,1416.0L852.4,1418.5L853.2,1420.9L854.0,1423.3L854.7,1425.7L855.5,1428.1L856.3,1430.5L857.2,1432.9L858.0,1435.3L858.8,1437.6L859.6,1440.0L860.5,1442.4L861.3,1444.8L862.2,1447.2L863.0,1449.6L863.9,1452.0L864.7,1454.4L865.6,1456.8L866.5,1459.1L867.4,1461.5L868.3,1463.9L869.2,1466.3L870.1,1468.7L871.0,1471.0L871.9,1473.4L872.9,1475.8L873.8,1478.1L874.8,1480.5L875.8,1482.8L876.8,1485.1L877.8,1487.5L878.8,1489.8L879.8,1492.1L880.9,1494.4L881.9,1496.7L883.0,1498.9L884.1,1501.2L885.2,1503.5L886.4,1505.7L887.6,1507.9L888.7,1510.1L890.0,1512.3L891.2,1514.5L892.4,1516.6L893.7,1518.8L895.0,1520.9L896.4,1523.0L897.7,1525.0L899.1,1527.1L900.5,1529.1L902.0,1531.1L903.4,1533.1L904.9,1535.1L906.5,1537.0L908.0,1539.0L909.6,1540.8L911.3,1542.7L912.9,1544.5L914.6,1546.4L916.4,1548.1L918.2,1549.9L920.0,1551.6L921.8,1553.3L923.7,1554.9L925.6,1556.5L927.6,1558.1L929.6,1559.6L931.7,1561.0L933.8,1562.3L936.0,1563.5L938.2,1564.6L940.5,1565.7L942.8,1566.6L945.2,1567.4L947.6,1568.2L950.1,1568.9L952.5,1569.5L955.0,1570.1L957.5,1570.5L960.1,1571.0L962.1,1571.2"/>
</g>
<g fill="#191970" stroke="#191970" stroke-width="1" shape-rendering="crispEdges">
<polygon points="231.5,1270.6 218.7,1276.5 217.8,1267.2"/>
<polygon points="279.2,1303.8 265.5,1307.1 266.4,1297.8"/>
<polygon points="489.2,1260.5 475.9,1265.2 475.9,1255.8"/>
<polygon points="536.2,575.5 536.6,589.6 527.7,586.8"/>
<polygon points="731.6,19.9 719.0,26.3 717.8,17.1"/>
<polygon points="731.6,19.9 719.9,27.8 717.5,18.7"/>
<polygon points="731.6,19.9 719.3,26.9 717.6,17.7"/>
<polygon points="712.4,71.7 699.9,78.3 698.5,69.1"/>
<polygon points="702.8,127.0 693.8,137.9 689.0,129.9"/>
<polygon points="1158.5,164.3 1144.7,167.2 1145.9,157.9"/>
<polygon points="1168.3,238.8 1154.3,240.8 1156.0,231.6"/>
<polygon points="756.7,328.4 751.1,341.4 744.2,335.0"/>
<polygon points="975.5,315.6 962.2,320.3 962.2,310.9"/>
<polygon points="1168.0,256.5 1155.0,262.0 1154.4,252.6"/>
<polygon points="1168.0,263.8 1157.1,272.8 1153.9,264.0"/>
<polygon points="1307.2,226.2 1295.9,234.6 1293.1,225.7"/>
<polygon points="1307.2,202.5 1293.2,203.6 1295.5,194.6"/>
<polygon points="753.0,715.6 739.4,711.6 744.9,704.0"/>
<polygon points="764.4,955.9 754.0,946.3 762.2,941.9"/>
<polygon points="699.3,1635.0 685.5,1631.9 690.5,1624.0"/>
<polygon points="715.3,1691.4 701.4,1694.1 702.8,1684.9"/>
<polygon points="1163.2,1644.5 1149.7,1648.5 1150.2,1639.2"/>
<polygon points="1197.9,474.1 1188.4,463.6 1197.0,460.0"/>
<polygon points="1197.9,499.7 1193.6,513.2 1186.1,507.5"/>
<polygon points="1156.2,1087.0 1142.9,1091.7 1142.9,1082.3"/>
<polygon points="941.3,1665.0 927.8,1669.4 928.0,1660.1"/>
<polygon points="1163.2,1651.2 1150.4,1657.2 1149.5,1647.9"/>
<polygon points="496.3,1839.5 482.2,1839.4 485.3,1830.6"/>
<polygon points="537.0,1782.0 530.5,1769.5 539.7,1768.1"/>
<polygon points="1171.3,1788.4 1157.7,1792.3 1158.2,1783.0"/>
<polygon points="707.2,1794.5 693.9,1799.2 693.9,1789.8"/>
<polygon points="931.2,1840.0 917.7,1843.9 918.2,1834.5"/>
<polygon points="721.3,1880.5 707.2,1881.8 709.5,1872.7"/>
<polygon points="1173.8,1906.2 1162.5,1914.8 1159.6,1905.9"/>
<polygon points="1171.3,1803.7 1159.6,1811.7 1157.2,1802.7"/>
<polygon points="1165.2,1882.1 1151.2,1884.0 1153.1,1874.8"/>
<polygon points="945.0,1856.2 932.9,1863.5 931.0,1854.4"/>
<polygon points="1165.2,1892.0 1151.9,1896.7 1151.9,1887.3"/>
<polygon points="975.5,318.4 963.2,325.3 961.6,316.1"/>
<polygon points="1201.4,474.1 1189.5,466.4 1196.9,460.7"/>
<polygon points="1205.4,1074.5 1199.4,1061.7 1208.7,1060.8"/>
<polygon points="961.3,465.3 949.5,473.1 947.2,464.0"/>
<polygon points="947.4,519.0 936.1,527.5 933.3,518.6"/>
<polygon points="951.4,564.9 939.7,572.9 937.3,563.9"/>
<polygon points="976.6,608.5 963.3,613.2 963.3,603.9"/>
<polygon points="960.3,660.8 948.1,667.9 946.3,658.7"/>
<polygon points="967.1,707.7 954.0,712.9 953.6,703.6"/>
<polygon points="989.2,748.8 975.8,753.0 976.1,743.6"/>
<polygon points="948.5,788.0 934.5,786.2 938.7,777.9"/>
<polygon points="944.1,835.5 930.0,836.0 932.8,827.1"/>
<polygon points="960.3,888.3 946.4,890.9 947.8,881.7"/>
<polygon points="939.0,931.0 925.0,929.4 929.0,921.0"/>
<polygon points="979.9,988.0 966.3,991.7 966.9,982.4"/>
<polygon points="967.0,1034.5 953.5,1038.8 953.8,1029.4"/>
<polygon points="947.5,1078.9 933.4,1079.2 936.3,1070.3"/>
<polygon points="941.3,1123.5 927.7,1127.5 928.2,1118.1"/>
<polygon points="983.3,1180.0 970.2,1185.4 969.7,1176.0"/>
<polygon points="995.3,328.4 989.2,341.2 982.6,334.6"/>
<polygon points="961.3,467.7 948.7,474.1 947.5,464.9"/>
<polygon points="947.4,519.0 935.9,527.2 933.3,518.2"/>
<polygon points="951.4,567.9 939.3,575.1 937.4,566.0"/>
<polygon points="976.6,612.4 963.3,617.1 963.3,607.7"/>
<polygon points="960.3,667.5 946.4,670.0 947.9,660.7"/>
<polygon points="967.1,707.7 955.9,716.4 953.0,707.5"/>
<polygon points="989.2,752.5 976.1,757.7 975.7,748.4"/>
<polygon points="947.5,810.8 937.2,820.5 933.4,811.9"/>
<polygon points="945.8,860.2 934.1,868.1 931.7,859.0"/>
<polygon points="961.1,907.1 949.5,915.2 947.0,906.1"/>
<polygon points="940.7,949.7 927.8,955.5 927.0,946.2"/>
<polygon points="981.6,988.5 967.8,991.7 968.9,982.4"/>
<polygon points="967.0,1030.0 952.9,1030.5 955.6,1021.6"/>
<polygon points="947.5,1077.2 933.4,1076.1 937.2,1067.5"/>
<polygon points="930.0,1123.5 916.1,1121.2 920.6,1113.0"/>
<polygon points="983.3,1183.0 969.9,1187.6 970.0,1178.3"/>
<polygon points="1205.6,500.0 1209.8,513.5 1200.4,513.1"/>
<polygon points="971.5,1274.9 957.5,1276.9 959.3,1267.8"/>
<polygon points="965.1,1326.8 951.1,1328.7 953.0,1319.5"/>
<polygon points="1204.2,1100.5 1201.5,1114.4 1193.5,1109.7"/>
<polygon points="943.8,1416.3 929.8,1414.3 934.1,1406.0"/>
<polygon points="942.7,1468.8 928.7,1467.3 932.6,1458.9"/>
<polygon points="930.7,1512.4 918.2,1505.9 924.9,1499.5"/>
<polygon points="975.4,1572.4 961.7,1575.9 962.5,1566.6"/>
</g>
<g font-family="Liberation Sans, sans-serif" font-size="13.33" text-anchor="middle" fill="#000" style="will-change:transform">
<rect x="731.5" y="6.5" width="80" height="25" fill="#fff" stroke="#000" stroke-width="1"/>
<text x="771.5" y="24.0">_cmi_log2</text>
<rect x="712.5" y="54.5" width="117" height="25" fill="#fff" stroke="#000" stroke-width="1"/>
<text x="771.0" y="72.0">CmiValidXpmem</text>
<rect x="692.5" y="102.5" width="157" height="25" fill="#fff" stroke="#000" stroke-width="1"/>
<text x="771.0" y="120.0">LrtsSendPersistentMsg</text>
<rect x="1156.5" y="164.5" width="103" height="26" fill="#fff" stroke="#ff0000" stroke-width="1"/>
<text x="1208.0" y="182.5">LrtsSendFunc</text>
<rect x="1307.5" y="202.5" width="96" height="25" fill="#fff" stroke="#000" stroke-width="1"/>
<text x="1355.5" y="220.0">CmiGetState</text>
<rect x="1168.5" y="239.5" width="79" height="25" fill="#fff" stroke="#000" stroke-width="1"/>
<text x="1208.0" y="257.0">CmiMyPe</text>
<rect x="693.5" y="302.5" width="155" height="25" fill="#fff" stroke="#000" stroke-width="1"/>
<text x="771.0" y="320.0">CmiSendMessageCma</text>
<rect x="975.5" y="302.5" width="73" height="25" fill="#fff" stroke="#ff0000" stroke-width="1"/>
<text x="1012.0" y="320.0">CmiAlloc</text>
<rect x="961.5" y="451.5" width="99" height="25" fill="#fff" stroke="#000" stroke-width="1"/>
<text x="1011.0" y="469.0">Ck::IO::close</text>
<rect x="1169.5" y="474.5" width="76" height="25" fill="#fff" stroke="#000" stroke-width="1"/>
<text x="1207.5" y="492.0">CmiPrintf</text>
<rect x="947.5" y="499.5" width="128" height="25" fill="#fff" stroke="#ff0000" stroke-width="1"/>
<text x="1011.5" y="517.0">CmiMemoryCheck</text>
<rect x="451.5" y="550.5" width="176" height="25" fill="#fff" stroke="#000" stroke-width="1"/>
<text x="539.5" y="568.0">CmiInterSendNetworkFunc</text>
<rect x="951.5" y="547.5" width="121" height="25" fill="#fff" stroke="#000" stroke-width="1"/>
<text x="1012.0" y="565.0">CmiNotifyStillIdle</text>
<rect x="976.5" y="595.5" width="71" height="25" fill="#fff" stroke="#ff0000" stroke-width="1"/>
<text x="1012.0" y="613.0">CmiFree</text>
<rect x="960.5" y="643.5" width="103" height="25" fill="#fff" stroke="#000" stroke-width="1"/>
<text x="1012.0" y="661.0">CmiWallTimer</text>
<rect x="967.5" y="691.5" width="89" height="25" fill="#fff" stroke="#000" stroke-width="1"/>
<text x="1012.0" y="709.0">flushSendQ</text>
<rect x="685.5" y="715.5" width="172" height="25" fill="#fff" stroke="#ff0000" stroke-width="1"/>
<text x="771.5" y="733.0">CmiSendMessageXpmem</text>
<rect x="989.5" y="739.5" width="44" height="25" fill="#fff" stroke="#ff0000" stroke-width="1"/>
<text x="1011.5" y="757.0">free</text>
<rect x="948.5" y="787.5" width="127" height="25" fill="#fff" stroke="#000" stroke-width="1"/>
<text x="1012.0" y="805.0">freeSharedBuffers</text>
<rect x="935.5" y="835.5" width="152" height="25" fill="#fff" stroke="#ff0000" stroke-width="1"/>
<text x="1011.5" y="853.0">handleOneRecvedMsg</text>
<rect x="961.5" y="883.5" width="100" height="25" fill="#fff" stroke="#000" stroke-width="1"/>
<text x="1011.5" y="901.0">initAllSendQs</text>
<rect x="940.5" y="931.5" width="143" height="25" fill="#fff" stroke="#000" stroke-width="1"/>
<text x="1012.0" y="949.0">LrtsPrepareEnvelope</text>
<rect x="687.5" y="955.5" width="168" height="25" fill="#fff" stroke="#ff0000" stroke-width="1"/>
<text x="771.5" y="973.0">CmiSendMessagePxshm</text>
<rect x="981.5" y="979.5" width="60" height="25" fill="#fff" stroke="#ff0000" stroke-width="1"/>
<text x="1011.5" y="997.0">malloc</text>
<rect x="967.5" y="1027.5" width="89" height="25" fill="#fff" stroke="#000" stroke-width="1"/>
<text x="1012.0" y="1045.0">pushSendQ</text>
<rect x="948.5" y="1075.5" width="125" height="25" fill="#fff" stroke="#000" stroke-width="1"/>
<text x="1011.0" y="1093.0">sendMessageRec</text>
<rect x="1156.5" y="1075.5" width="103" height="25" fill="#fff" stroke="#000" stroke-width="1"/>
<text x="1208.0" y="1093.0">sendMessage</text>
<rect x="920.5" y="1123.5" width="183" height="25" fill="#fff" stroke="#000" stroke-width="1"/>
<text x="1012.0" y="1141.0">calculateNodeSizeAndRank</text>
<rect x="983.5" y="1171.5" width="56" height="25" fill="#fff" stroke="#ff0000" stroke-width="1"/>
<text x="1011.5" y="1189.0">calloc</text>
<rect x="231.5" y="1248.5" width="172" height="26" fill="#fff" stroke="#000" stroke-width="1"/>
<text x="317.5" y="1266.5">CmiInterFreeNodeSendFn</text>
<rect x="489.5" y="1248.5" width="100" height="26" fill="#fff" stroke="#000" stroke-width="1"/>
<text x="539.5" y="1266.5">CmiNodeFirst</text>
<rect x="5.5" y="1272.5" width="176" height="26" fill="#bfbfbf" stroke="#000" stroke-width="1"/>
<text x="93.5" y="1290.5">CmiInterSyncNodeSendFn</text>
<rect x="279.5" y="1296.5" width="76" height="26" fill="#fff" stroke="#000" stroke-width="1"/>
<text x="317.5" y="1314.5">CopyMsg</text>
<rect x="971.5" y="1270.5" width="81" height="25" fill="#fff" stroke="#000" stroke-width="1"/>
<text x="1012.0" y="1288.0">LrtsBarrier</text>
<rect x="965.5" y="1318.5" width="92" height="25" fill="#fff" stroke="#000" stroke-width="1"/>
<text x="1011.5" y="1336.0">PxshmRank</text>
<rect x="915.5" y="1416.5" width="192" height="26" fill="#fff" stroke="#ff0000" stroke-width="1"/>
<text x="1011.5" y="1434.5">CmiNumPesOnPhysicalNode</text>
<rect x="943.5" y="1464.5" width="137" height="26" fill="#fff" stroke="#ff0000" stroke-width="1"/>
<text x="1012.0" y="1482.5">CmiPhysicalNodeID</text>
<rect x="916.5" y="1512.5" width="191" height="26" fill="#fff" stroke="#000" stroke-width="1"/>
<text x="1012.0" y="1530.5">CommunicationServerPxshm</text>
<rect x="975.5" y="1560.5" width="72" height="26" fill="#fff" stroke="#000" stroke-width="1"/>
<text x="1011.5" y="1578.5">ftruncate</text>
<rect x="675.5" y="1635.5" width="192" height="25" fill="#fff" stroke="#000" stroke-width="1"/>
<text x="771.5" y="1653.0">CmiPeOnSamePhysicalNode</text>
<rect x="1163.5" y="1635.5" width="88" height="25" fill="#fff" stroke="#000" stroke-width="1"/>
<text x="1207.5" y="1653.0">CmiNodeOf</text>
<rect x="941.5" y="1659.5" width="140" height="25" fill="#fff" stroke="#000" stroke-width="1"/>
<text x="1011.5" y="1677.0">LrtsPeOnSameNode</text>
<rect x="715.5" y="1683.5" width="113" height="25" fill="#fff" stroke="#000" stroke-width="1"/>
<text x="772.0" y="1701.0">CmiValidPxshm</text>
<rect x="475.5" y="1782.5" width="128" height="25" fill="#fff" stroke="#000" stroke-width="1"/>
<text x="539.5" y="1800.0">CmiSendNodeSelf</text>
<rect x="1171.5" y="1782.5" width="72" height="25" fill="#fff" stroke="#000" stroke-width="1"/>
<text x="1207.5" y="1800.0">CmiLock</text>
<rect x="707.5" y="1782.5" width="129" height="25" fill="#fff" stroke="#ff0000" stroke-width="1"/>
<text x="772.0" y="1800.0">MPMCQueuePush</text>
<rect x="931.5" y="1831.5" width="160" height="25" fill="#fff" stroke="#000" stroke-width="1"/>
<text x="1011.5" y="1849.0">CmiPushImmediateMsg</text>
<rect x="496.5" y="1830.5" width="85" height="25" fill="#fff" stroke="#000" stroke-width="1"/>
<text x="539.0" y="1848.0">CQdCreate</text>
<rect x="699.5" y="1880.5" width="145" height="26" fill="#fff" stroke="#ff0000" stroke-width="1"/>
<text x="772.0" y="1898.5">CmiHandleImmediate</text>
<rect x="1165.5" y="1880.5" width="84" height="26" fill="#fff" stroke="#000" stroke-width="1"/>
<text x="1207.5" y="1898.5">CmiUnlock</text>
</g></svg></body></html>
